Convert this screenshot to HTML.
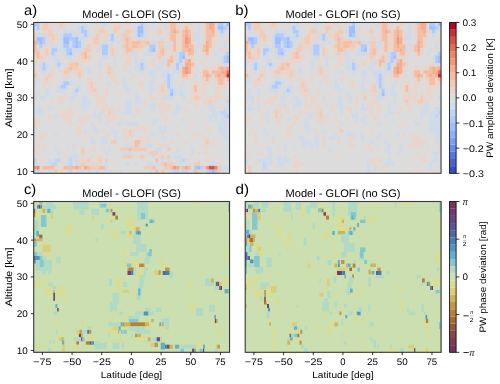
<!DOCTYPE html>
<html><head><meta charset="utf-8"><style>
html,body{margin:0;padding:0;background:#fff;width:500px;height:384px;overflow:hidden}
svg{display:block}
text{font-kerning:none;white-space:pre;text-rendering:geometricPrecision}
.txt{will-change:transform}
</style></head><body>
<svg width="500" height="384" viewBox="0 0 500 384">
<rect width="500" height="384" fill="#fff"/>
<defs><filter id="bla" filterUnits="userSpaceOnUse" x="33.70" y="22.45" width="195.85" height="150.85"><feGaussianBlur stdDeviation="0.35" edgeMode="duplicate"/></filter><filter id="blb" filterUnits="userSpaceOnUse" x="245.20" y="22.45" width="195.85" height="150.85"><feGaussianBlur stdDeviation="0.35" edgeMode="duplicate"/></filter><filter id="blc" filterUnits="userSpaceOnUse" x="33.70" y="201.50" width="195.85" height="150.80"><feGaussianBlur stdDeviation="0.35" edgeMode="duplicate"/></filter><filter id="bld" filterUnits="userSpaceOnUse" x="245.20" y="201.50" width="195.85" height="150.80"><feGaussianBlur stdDeviation="0.35" edgeMode="duplicate"/></filter></defs>
<g filter="url(#bla)">
<rect x="33.70" y="22.45" width="195.85" height="150.85" fill="#dddcdc"/>
<rect x="33.70" y="22.45" width="5.98" height="3.73" fill="#afcafc"/>
<rect x="39.63" y="22.45" width="3.02" height="3.73" fill="#e9d5cb"/>
<rect x="42.60" y="22.45" width="5.98" height="3.73" fill="#f2cbb7"/>
<rect x="48.54" y="22.45" width="3.02" height="3.73" fill="#e9d5cb"/>
<rect x="57.44" y="22.45" width="3.02" height="3.73" fill="#e9d5cb"/>
<rect x="60.41" y="22.45" width="3.02" height="3.73" fill="#f2cbb7"/>
<rect x="63.37" y="22.45" width="3.02" height="3.73" fill="#e9d5cb"/>
<rect x="81.18" y="22.45" width="5.98" height="3.73" fill="#cfdaea"/>
<rect x="96.02" y="22.45" width="3.02" height="3.73" fill="#e9d5cb"/>
<rect x="101.95" y="22.45" width="5.98" height="3.73" fill="#cfdaea"/>
<rect x="113.82" y="22.45" width="14.89" height="3.73" fill="#e9d5cb"/>
<rect x="137.56" y="22.45" width="3.02" height="3.73" fill="#cfdaea"/>
<rect x="140.53" y="22.45" width="3.02" height="3.73" fill="#afcafc"/>
<rect x="143.49" y="22.45" width="3.02" height="3.73" fill="#cfdaea"/>
<rect x="161.30" y="22.45" width="3.02" height="3.73" fill="#e9d5cb"/>
<rect x="164.27" y="22.45" width="3.02" height="3.73" fill="#cfdaea"/>
<rect x="167.23" y="22.45" width="3.02" height="3.73" fill="#e9d5cb"/>
<rect x="170.20" y="22.45" width="5.98" height="3.73" fill="#f6bda2"/>
<rect x="176.14" y="22.45" width="5.98" height="3.73" fill="#e9d5cb"/>
<rect x="185.04" y="22.45" width="8.95" height="3.73" fill="#e9d5cb"/>
<rect x="196.91" y="22.45" width="3.02" height="3.73" fill="#cfdaea"/>
<rect x="202.84" y="22.45" width="3.02" height="3.73" fill="#e9d5cb"/>
<rect x="205.81" y="22.45" width="3.02" height="3.73" fill="#f6bda2"/>
<rect x="208.78" y="22.45" width="5.98" height="3.73" fill="#f7ac8e"/>
<rect x="217.68" y="22.45" width="5.98" height="3.73" fill="#afcafc"/>
<rect x="223.62" y="22.45" width="3.02" height="3.73" fill="#cfdaea"/>
<rect x="226.58" y="22.45" width="3.02" height="3.73" fill="#9ebeff"/>
<rect x="33.70" y="26.13" width="3.02" height="3.73" fill="#cfdaea"/>
<rect x="36.67" y="26.13" width="3.02" height="3.73" fill="#afcafc"/>
<rect x="39.63" y="26.13" width="3.02" height="3.73" fill="#e9d5cb"/>
<rect x="42.60" y="26.13" width="5.98" height="3.73" fill="#f2cbb7"/>
<rect x="48.54" y="26.13" width="3.02" height="3.73" fill="#e9d5cb"/>
<rect x="57.44" y="26.13" width="8.95" height="3.73" fill="#e9d5cb"/>
<rect x="78.21" y="26.13" width="3.02" height="3.73" fill="#cfdaea"/>
<rect x="81.18" y="26.13" width="3.02" height="3.73" fill="#afcafc"/>
<rect x="84.15" y="26.13" width="3.02" height="3.73" fill="#cfdaea"/>
<rect x="98.98" y="26.13" width="5.98" height="3.73" fill="#e9d5cb"/>
<rect x="110.85" y="26.13" width="3.02" height="3.73" fill="#e9d5cb"/>
<rect x="113.82" y="26.13" width="5.98" height="3.73" fill="#f2cbb7"/>
<rect x="119.76" y="26.13" width="3.02" height="3.73" fill="#e9d5cb"/>
<rect x="125.69" y="26.13" width="5.98" height="3.73" fill="#e9d5cb"/>
<rect x="134.59" y="26.13" width="3.02" height="3.73" fill="#cfdaea"/>
<rect x="137.56" y="26.13" width="5.98" height="3.73" fill="#9ebeff"/>
<rect x="143.49" y="26.13" width="3.02" height="3.73" fill="#cfdaea"/>
<rect x="146.46" y="26.13" width="3.02" height="3.73" fill="#e9d5cb"/>
<rect x="158.33" y="26.13" width="3.02" height="3.73" fill="#e9d5cb"/>
<rect x="164.27" y="26.13" width="3.02" height="3.73" fill="#cfdaea"/>
<rect x="167.23" y="26.13" width="3.02" height="3.73" fill="#e9d5cb"/>
<rect x="170.20" y="26.13" width="5.98" height="3.73" fill="#f6bda2"/>
<rect x="176.14" y="26.13" width="3.02" height="3.73" fill="#e9d5cb"/>
<rect x="182.07" y="26.13" width="3.02" height="3.73" fill="#e9d5cb"/>
<rect x="185.04" y="26.13" width="3.02" height="3.73" fill="#f6bda2"/>
<rect x="188.01" y="26.13" width="3.02" height="3.73" fill="#e9d5cb"/>
<rect x="196.91" y="26.13" width="3.02" height="3.73" fill="#cfdaea"/>
<rect x="202.84" y="26.13" width="3.02" height="3.73" fill="#e9d5cb"/>
<rect x="205.81" y="26.13" width="3.02" height="3.73" fill="#f6bda2"/>
<rect x="208.78" y="26.13" width="5.98" height="3.73" fill="#f7ac8e"/>
<rect x="214.71" y="26.13" width="3.02" height="3.73" fill="#e9d5cb"/>
<rect x="217.68" y="26.13" width="5.98" height="3.73" fill="#9ebeff"/>
<rect x="223.62" y="26.13" width="3.02" height="3.73" fill="#afcafc"/>
<rect x="226.58" y="26.13" width="3.02" height="3.73" fill="#cfdaea"/>
<rect x="36.67" y="29.81" width="3.02" height="3.73" fill="#cfdaea"/>
<rect x="42.60" y="29.81" width="5.98" height="3.73" fill="#e9d5cb"/>
<rect x="48.54" y="29.81" width="3.02" height="3.73" fill="#f2cbb7"/>
<rect x="51.50" y="29.81" width="3.02" height="3.73" fill="#e9d5cb"/>
<rect x="63.37" y="29.81" width="11.92" height="3.73" fill="#cfdaea"/>
<rect x="78.21" y="29.81" width="3.02" height="3.73" fill="#cfdaea"/>
<rect x="81.18" y="29.81" width="5.98" height="3.73" fill="#afcafc"/>
<rect x="87.11" y="29.81" width="3.02" height="3.73" fill="#cfdaea"/>
<rect x="93.05" y="29.81" width="5.98" height="3.73" fill="#e9d5cb"/>
<rect x="98.98" y="29.81" width="5.98" height="3.73" fill="#f2cbb7"/>
<rect x="104.92" y="29.81" width="3.02" height="3.73" fill="#e9d5cb"/>
<rect x="113.82" y="29.81" width="3.02" height="3.73" fill="#f2cbb7"/>
<rect x="116.79" y="29.81" width="3.02" height="3.73" fill="#e9d5cb"/>
<rect x="122.72" y="29.81" width="3.02" height="3.73" fill="#e9d5cb"/>
<rect x="125.69" y="29.81" width="5.98" height="3.73" fill="#f2cbb7"/>
<rect x="131.62" y="29.81" width="3.02" height="3.73" fill="#e9d5cb"/>
<rect x="134.59" y="29.81" width="3.02" height="3.73" fill="#cfdaea"/>
<rect x="137.56" y="29.81" width="5.98" height="3.73" fill="#9ebeff"/>
<rect x="143.49" y="29.81" width="3.02" height="3.73" fill="#cfdaea"/>
<rect x="146.46" y="29.81" width="3.02" height="3.73" fill="#e9d5cb"/>
<rect x="155.36" y="29.81" width="3.02" height="3.73" fill="#e9d5cb"/>
<rect x="158.33" y="29.81" width="3.02" height="3.73" fill="#f2cbb7"/>
<rect x="161.30" y="29.81" width="3.02" height="3.73" fill="#e9d5cb"/>
<rect x="167.23" y="29.81" width="3.02" height="3.73" fill="#e9d5cb"/>
<rect x="170.20" y="29.81" width="3.02" height="3.73" fill="#f6bda2"/>
<rect x="173.17" y="29.81" width="3.02" height="3.73" fill="#f7ac8e"/>
<rect x="176.14" y="29.81" width="3.02" height="3.73" fill="#f6bda2"/>
<rect x="179.10" y="29.81" width="3.02" height="3.73" fill="#e9d5cb"/>
<rect x="182.07" y="29.81" width="3.02" height="3.73" fill="#f6bda2"/>
<rect x="185.04" y="29.81" width="3.02" height="3.73" fill="#f7ac8e"/>
<rect x="188.01" y="29.81" width="3.02" height="3.73" fill="#f6bda2"/>
<rect x="190.97" y="29.81" width="3.02" height="3.73" fill="#e9d5cb"/>
<rect x="196.91" y="29.81" width="3.02" height="3.73" fill="#cfdaea"/>
<rect x="202.84" y="29.81" width="3.02" height="3.73" fill="#e9d5cb"/>
<rect x="205.81" y="29.81" width="5.98" height="3.73" fill="#f6bda2"/>
<rect x="211.75" y="29.81" width="3.02" height="3.73" fill="#f7ac8e"/>
<rect x="214.71" y="29.81" width="3.02" height="3.73" fill="#e9d5cb"/>
<rect x="217.68" y="29.81" width="3.02" height="3.73" fill="#cfdaea"/>
<rect x="220.65" y="29.81" width="3.02" height="3.73" fill="#afcafc"/>
<rect x="223.62" y="29.81" width="3.02" height="3.73" fill="#cfdaea"/>
<rect x="33.70" y="33.49" width="3.02" height="3.73" fill="#e9d5cb"/>
<rect x="36.67" y="33.49" width="8.95" height="3.73" fill="#cfdaea"/>
<rect x="45.57" y="33.49" width="3.02" height="3.73" fill="#e9d5cb"/>
<rect x="48.54" y="33.49" width="5.98" height="3.73" fill="#f2cbb7"/>
<rect x="54.47" y="33.49" width="3.02" height="3.73" fill="#e9d5cb"/>
<rect x="60.41" y="33.49" width="3.02" height="3.73" fill="#cfdaea"/>
<rect x="63.37" y="33.49" width="8.95" height="3.73" fill="#afcafc"/>
<rect x="72.28" y="33.49" width="5.98" height="3.73" fill="#cfdaea"/>
<rect x="81.18" y="33.49" width="3.02" height="3.73" fill="#cfdaea"/>
<rect x="84.15" y="33.49" width="3.02" height="3.73" fill="#afcafc"/>
<rect x="87.11" y="33.49" width="3.02" height="3.73" fill="#cfdaea"/>
<rect x="93.05" y="33.49" width="3.02" height="3.73" fill="#e9d5cb"/>
<rect x="96.02" y="33.49" width="3.02" height="3.73" fill="#f2cbb7"/>
<rect x="98.98" y="33.49" width="8.95" height="3.73" fill="#e9d5cb"/>
<rect x="107.89" y="33.49" width="3.02" height="3.73" fill="#cfdaea"/>
<rect x="110.85" y="33.49" width="3.02" height="3.73" fill="#afcafc"/>
<rect x="116.79" y="33.49" width="5.98" height="3.73" fill="#e9d5cb"/>
<rect x="122.72" y="33.49" width="5.98" height="3.73" fill="#f2cbb7"/>
<rect x="128.66" y="33.49" width="3.02" height="3.73" fill="#e9d5cb"/>
<rect x="134.59" y="33.49" width="3.02" height="3.73" fill="#cfdaea"/>
<rect x="137.56" y="33.49" width="3.02" height="3.73" fill="#9ebeff"/>
<rect x="140.53" y="33.49" width="3.02" height="3.73" fill="#afcafc"/>
<rect x="143.49" y="33.49" width="3.02" height="3.73" fill="#cfdaea"/>
<rect x="158.33" y="33.49" width="3.02" height="3.73" fill="#e9d5cb"/>
<rect x="167.23" y="33.49" width="3.02" height="3.73" fill="#e9d5cb"/>
<rect x="170.20" y="33.49" width="5.98" height="3.73" fill="#f6bda2"/>
<rect x="176.14" y="33.49" width="5.98" height="3.73" fill="#e9d5cb"/>
<rect x="182.07" y="33.49" width="3.02" height="3.73" fill="#f6bda2"/>
<rect x="185.04" y="33.49" width="3.02" height="3.73" fill="#f7ac8e"/>
<rect x="188.01" y="33.49" width="3.02" height="3.73" fill="#f6bda2"/>
<rect x="190.97" y="33.49" width="3.02" height="3.73" fill="#e9d5cb"/>
<rect x="193.94" y="33.49" width="5.98" height="3.73" fill="#cfdaea"/>
<rect x="202.84" y="33.49" width="3.02" height="3.73" fill="#e9d5cb"/>
<rect x="205.81" y="33.49" width="8.95" height="3.73" fill="#f6bda2"/>
<rect x="214.71" y="33.49" width="3.02" height="3.73" fill="#e9d5cb"/>
<rect x="220.65" y="33.49" width="3.02" height="3.73" fill="#cfdaea"/>
<rect x="33.70" y="37.17" width="3.02" height="3.73" fill="#f2cbb7"/>
<rect x="36.67" y="37.17" width="5.98" height="3.73" fill="#9ebeff"/>
<rect x="42.60" y="37.17" width="3.02" height="3.73" fill="#afcafc"/>
<rect x="45.57" y="37.17" width="3.02" height="3.73" fill="#cfdaea"/>
<rect x="48.54" y="37.17" width="3.02" height="3.73" fill="#e9d5cb"/>
<rect x="51.50" y="37.17" width="3.02" height="3.73" fill="#f2cbb7"/>
<rect x="54.47" y="37.17" width="3.02" height="3.73" fill="#e9d5cb"/>
<rect x="60.41" y="37.17" width="3.02" height="3.73" fill="#cfdaea"/>
<rect x="63.37" y="37.17" width="5.98" height="3.73" fill="#9ebeff"/>
<rect x="69.31" y="37.17" width="5.98" height="3.73" fill="#afcafc"/>
<rect x="75.24" y="37.17" width="3.02" height="3.73" fill="#9ebeff"/>
<rect x="78.21" y="37.17" width="8.95" height="3.73" fill="#cfdaea"/>
<rect x="90.08" y="37.17" width="3.02" height="3.73" fill="#e9d5cb"/>
<rect x="93.05" y="37.17" width="5.98" height="3.73" fill="#f2cbb7"/>
<rect x="98.98" y="37.17" width="8.95" height="3.73" fill="#e9d5cb"/>
<rect x="107.89" y="37.17" width="3.02" height="3.73" fill="#cfdaea"/>
<rect x="110.85" y="37.17" width="3.02" height="3.73" fill="#afcafc"/>
<rect x="113.82" y="37.17" width="3.02" height="3.73" fill="#cfdaea"/>
<rect x="119.76" y="37.17" width="3.02" height="3.73" fill="#e9d5cb"/>
<rect x="122.72" y="37.17" width="3.02" height="3.73" fill="#f2cbb7"/>
<rect x="125.69" y="37.17" width="3.02" height="3.73" fill="#f6bda2"/>
<rect x="128.66" y="37.17" width="3.02" height="3.73" fill="#f2cbb7"/>
<rect x="131.62" y="37.17" width="5.98" height="3.73" fill="#e9d5cb"/>
<rect x="137.56" y="37.17" width="3.02" height="3.73" fill="#cfdaea"/>
<rect x="143.49" y="37.17" width="5.98" height="3.73" fill="#e9d5cb"/>
<rect x="158.33" y="37.17" width="3.02" height="3.73" fill="#e9d5cb"/>
<rect x="161.30" y="37.17" width="3.02" height="3.73" fill="#cfdaea"/>
<rect x="167.23" y="37.17" width="3.02" height="3.73" fill="#e9d5cb"/>
<rect x="170.20" y="37.17" width="5.98" height="3.73" fill="#f6bda2"/>
<rect x="176.14" y="37.17" width="5.98" height="3.73" fill="#e9d5cb"/>
<rect x="182.07" y="37.17" width="3.02" height="3.73" fill="#f6bda2"/>
<rect x="185.04" y="37.17" width="3.02" height="3.73" fill="#f4987a"/>
<rect x="188.01" y="37.17" width="3.02" height="3.73" fill="#f7ac8e"/>
<rect x="190.97" y="37.17" width="3.02" height="3.73" fill="#e9d5cb"/>
<rect x="193.94" y="37.17" width="5.98" height="3.73" fill="#cfdaea"/>
<rect x="202.84" y="37.17" width="3.02" height="3.73" fill="#e9d5cb"/>
<rect x="205.81" y="37.17" width="5.98" height="3.73" fill="#f6bda2"/>
<rect x="211.75" y="37.17" width="3.02" height="3.73" fill="#e9d5cb"/>
<rect x="226.58" y="37.17" width="3.02" height="3.73" fill="#e9d5cb"/>
<rect x="33.70" y="40.85" width="3.02" height="3.73" fill="#f7ac8e"/>
<rect x="36.67" y="40.85" width="3.02" height="3.73" fill="#afcafc"/>
<rect x="39.63" y="40.85" width="3.02" height="3.73" fill="#9ebeff"/>
<rect x="42.60" y="40.85" width="3.02" height="3.73" fill="#afcafc"/>
<rect x="45.57" y="40.85" width="3.02" height="3.73" fill="#cfdaea"/>
<rect x="48.54" y="40.85" width="5.98" height="3.73" fill="#e9d5cb"/>
<rect x="60.41" y="40.85" width="3.02" height="3.73" fill="#cfdaea"/>
<rect x="63.37" y="40.85" width="5.98" height="3.73" fill="#9ebeff"/>
<rect x="69.31" y="40.85" width="3.02" height="3.73" fill="#cfdaea"/>
<rect x="72.28" y="40.85" width="3.02" height="3.73" fill="#afcafc"/>
<rect x="75.24" y="40.85" width="3.02" height="3.73" fill="#9ebeff"/>
<rect x="78.21" y="40.85" width="3.02" height="3.73" fill="#afcafc"/>
<rect x="81.18" y="40.85" width="3.02" height="3.73" fill="#cfdaea"/>
<rect x="87.11" y="40.85" width="5.98" height="3.73" fill="#e9d5cb"/>
<rect x="93.05" y="40.85" width="5.98" height="3.73" fill="#f2cbb7"/>
<rect x="98.98" y="40.85" width="3.02" height="3.73" fill="#e9d5cb"/>
<rect x="101.95" y="40.85" width="5.98" height="3.73" fill="#cfdaea"/>
<rect x="110.85" y="40.85" width="3.02" height="3.73" fill="#cfdaea"/>
<rect x="116.79" y="40.85" width="3.02" height="3.73" fill="#cfdaea"/>
<rect x="122.72" y="40.85" width="3.02" height="3.73" fill="#e9d5cb"/>
<rect x="125.69" y="40.85" width="3.02" height="3.73" fill="#f6bda2"/>
<rect x="128.66" y="40.85" width="3.02" height="3.73" fill="#f2cbb7"/>
<rect x="131.62" y="40.85" width="8.95" height="3.73" fill="#f6bda2"/>
<rect x="140.53" y="40.85" width="5.98" height="3.73" fill="#f2cbb7"/>
<rect x="146.46" y="40.85" width="3.02" height="3.73" fill="#f6bda2"/>
<rect x="149.43" y="40.85" width="8.95" height="3.73" fill="#cfdaea"/>
<rect x="158.33" y="40.85" width="5.98" height="3.73" fill="#f2cbb7"/>
<rect x="164.27" y="40.85" width="3.02" height="3.73" fill="#e9d5cb"/>
<rect x="167.23" y="40.85" width="3.02" height="3.73" fill="#cfdaea"/>
<rect x="170.20" y="40.85" width="3.02" height="3.73" fill="#e9d5cb"/>
<rect x="173.17" y="40.85" width="3.02" height="3.73" fill="#f6bda2"/>
<rect x="176.14" y="40.85" width="5.98" height="3.73" fill="#e9d5cb"/>
<rect x="182.07" y="40.85" width="3.02" height="3.73" fill="#f6bda2"/>
<rect x="185.04" y="40.85" width="3.02" height="3.73" fill="#f4987a"/>
<rect x="188.01" y="40.85" width="3.02" height="3.73" fill="#f7ac8e"/>
<rect x="190.97" y="40.85" width="3.02" height="3.73" fill="#e9d5cb"/>
<rect x="196.91" y="40.85" width="3.02" height="3.73" fill="#cfdaea"/>
<rect x="202.84" y="40.85" width="3.02" height="3.73" fill="#e9d5cb"/>
<rect x="205.81" y="40.85" width="3.02" height="3.73" fill="#f7ac8e"/>
<rect x="208.78" y="40.85" width="3.02" height="3.73" fill="#f6bda2"/>
<rect x="211.75" y="40.85" width="3.02" height="3.73" fill="#e9d5cb"/>
<rect x="223.62" y="40.85" width="3.02" height="3.73" fill="#cfdaea"/>
<rect x="226.58" y="40.85" width="3.02" height="3.73" fill="#e9d5cb"/>
<rect x="33.70" y="44.53" width="3.02" height="3.73" fill="#f6bda2"/>
<rect x="36.67" y="44.53" width="3.02" height="3.73" fill="#e9d5cb"/>
<rect x="39.63" y="44.53" width="3.02" height="3.73" fill="#afcafc"/>
<rect x="42.60" y="44.53" width="5.98" height="3.73" fill="#e9d5cb"/>
<rect x="51.50" y="44.53" width="5.98" height="3.73" fill="#cfdaea"/>
<rect x="60.41" y="44.53" width="3.02" height="3.73" fill="#cfdaea"/>
<rect x="63.37" y="44.53" width="5.98" height="3.73" fill="#afcafc"/>
<rect x="69.31" y="44.53" width="3.02" height="3.73" fill="#cfdaea"/>
<rect x="72.28" y="44.53" width="3.02" height="3.73" fill="#afcafc"/>
<rect x="75.24" y="44.53" width="3.02" height="3.73" fill="#9ebeff"/>
<rect x="78.21" y="44.53" width="3.02" height="3.73" fill="#afcafc"/>
<rect x="81.18" y="44.53" width="3.02" height="3.73" fill="#cfdaea"/>
<rect x="84.15" y="44.53" width="3.02" height="3.73" fill="#e9d5cb"/>
<rect x="87.11" y="44.53" width="3.02" height="3.73" fill="#f2cbb7"/>
<rect x="90.08" y="44.53" width="8.95" height="3.73" fill="#e9d5cb"/>
<rect x="98.98" y="44.53" width="3.02" height="3.73" fill="#cfdaea"/>
<rect x="101.95" y="44.53" width="5.98" height="3.73" fill="#afcafc"/>
<rect x="107.89" y="44.53" width="3.02" height="3.73" fill="#cfdaea"/>
<rect x="110.85" y="44.53" width="3.02" height="3.73" fill="#e9d5cb"/>
<rect x="119.76" y="44.53" width="3.02" height="3.73" fill="#e9d5cb"/>
<rect x="122.72" y="44.53" width="3.02" height="3.73" fill="#f2cbb7"/>
<rect x="125.69" y="44.53" width="3.02" height="3.73" fill="#f6bda2"/>
<rect x="128.66" y="44.53" width="3.02" height="3.73" fill="#f2cbb7"/>
<rect x="131.62" y="44.53" width="5.98" height="3.73" fill="#f6bda2"/>
<rect x="137.56" y="44.53" width="5.98" height="3.73" fill="#f2cbb7"/>
<rect x="143.49" y="44.53" width="3.02" height="3.73" fill="#e9d5cb"/>
<rect x="149.43" y="44.53" width="5.98" height="3.73" fill="#afcafc"/>
<rect x="158.33" y="44.53" width="5.98" height="3.73" fill="#f2cbb7"/>
<rect x="164.27" y="44.53" width="5.98" height="3.73" fill="#cfdaea"/>
<rect x="170.20" y="44.53" width="3.02" height="3.73" fill="#e9d5cb"/>
<rect x="173.17" y="44.53" width="3.02" height="3.73" fill="#f6bda2"/>
<rect x="176.14" y="44.53" width="5.98" height="3.73" fill="#e9d5cb"/>
<rect x="182.07" y="44.53" width="3.02" height="3.73" fill="#f6bda2"/>
<rect x="185.04" y="44.53" width="3.02" height="3.73" fill="#f7ac8e"/>
<rect x="188.01" y="44.53" width="5.98" height="3.73" fill="#f6bda2"/>
<rect x="193.94" y="44.53" width="3.02" height="3.73" fill="#e9d5cb"/>
<rect x="196.91" y="44.53" width="3.02" height="3.73" fill="#cfdaea"/>
<rect x="199.88" y="44.53" width="3.02" height="3.73" fill="#e9d5cb"/>
<rect x="202.84" y="44.53" width="3.02" height="3.73" fill="#f6bda2"/>
<rect x="205.81" y="44.53" width="3.02" height="3.73" fill="#f7ac8e"/>
<rect x="208.78" y="44.53" width="3.02" height="3.73" fill="#f6bda2"/>
<rect x="211.75" y="44.53" width="3.02" height="3.73" fill="#e9d5cb"/>
<rect x="223.62" y="44.53" width="3.02" height="3.73" fill="#cfdaea"/>
<rect x="33.70" y="48.20" width="3.02" height="3.73" fill="#f6bda2"/>
<rect x="36.67" y="48.20" width="3.02" height="3.73" fill="#f2cbb7"/>
<rect x="42.60" y="48.20" width="3.02" height="3.73" fill="#e9d5cb"/>
<rect x="45.57" y="48.20" width="3.02" height="3.73" fill="#f2cbb7"/>
<rect x="51.50" y="48.20" width="5.98" height="3.73" fill="#afcafc"/>
<rect x="57.44" y="48.20" width="3.02" height="3.73" fill="#cfdaea"/>
<rect x="63.37" y="48.20" width="3.02" height="3.73" fill="#cfdaea"/>
<rect x="66.34" y="48.20" width="5.98" height="3.73" fill="#afcafc"/>
<rect x="72.28" y="48.20" width="8.95" height="3.73" fill="#cfdaea"/>
<rect x="81.18" y="48.20" width="3.02" height="3.73" fill="#e9d5cb"/>
<rect x="84.15" y="48.20" width="5.98" height="3.73" fill="#f2cbb7"/>
<rect x="90.08" y="48.20" width="3.02" height="3.73" fill="#e9d5cb"/>
<rect x="96.02" y="48.20" width="3.02" height="3.73" fill="#e9d5cb"/>
<rect x="98.98" y="48.20" width="3.02" height="3.73" fill="#cfdaea"/>
<rect x="101.95" y="48.20" width="5.98" height="3.73" fill="#afcafc"/>
<rect x="110.85" y="48.20" width="3.02" height="3.73" fill="#f2cbb7"/>
<rect x="113.82" y="48.20" width="3.02" height="3.73" fill="#e9d5cb"/>
<rect x="122.72" y="48.20" width="3.02" height="3.73" fill="#e9d5cb"/>
<rect x="125.69" y="48.20" width="5.98" height="3.73" fill="#f6bda2"/>
<rect x="131.62" y="48.20" width="3.02" height="3.73" fill="#f2cbb7"/>
<rect x="134.59" y="48.20" width="8.95" height="3.73" fill="#e9d5cb"/>
<rect x="146.46" y="48.20" width="3.02" height="3.73" fill="#cfdaea"/>
<rect x="149.43" y="48.20" width="3.02" height="3.73" fill="#afcafc"/>
<rect x="152.40" y="48.20" width="3.02" height="3.73" fill="#9ebeff"/>
<rect x="158.33" y="48.20" width="3.02" height="3.73" fill="#f2cbb7"/>
<rect x="161.30" y="48.20" width="3.02" height="3.73" fill="#f6bda2"/>
<rect x="164.27" y="48.20" width="3.02" height="3.73" fill="#e9d5cb"/>
<rect x="170.20" y="48.20" width="3.02" height="3.73" fill="#e9d5cb"/>
<rect x="173.17" y="48.20" width="3.02" height="3.73" fill="#f6bda2"/>
<rect x="176.14" y="48.20" width="3.02" height="3.73" fill="#e9d5cb"/>
<rect x="182.07" y="48.20" width="5.98" height="3.73" fill="#f6bda2"/>
<rect x="188.01" y="48.20" width="3.02" height="3.73" fill="#f7ac8e"/>
<rect x="190.97" y="48.20" width="3.02" height="3.73" fill="#f6bda2"/>
<rect x="193.94" y="48.20" width="3.02" height="3.73" fill="#cfdaea"/>
<rect x="199.88" y="48.20" width="3.02" height="3.73" fill="#e9d5cb"/>
<rect x="202.84" y="48.20" width="3.02" height="3.73" fill="#f6bda2"/>
<rect x="205.81" y="48.20" width="3.02" height="3.73" fill="#f7ac8e"/>
<rect x="208.78" y="48.20" width="3.02" height="3.73" fill="#e9d5cb"/>
<rect x="217.68" y="48.20" width="3.02" height="3.73" fill="#cfdaea"/>
<rect x="220.65" y="48.20" width="5.98" height="3.73" fill="#e9d5cb"/>
<rect x="226.58" y="48.20" width="3.02" height="3.73" fill="#cfdaea"/>
<rect x="33.70" y="51.88" width="3.02" height="3.73" fill="#f2cbb7"/>
<rect x="36.67" y="51.88" width="3.02" height="3.73" fill="#f6bda2"/>
<rect x="39.63" y="51.88" width="5.98" height="3.73" fill="#e9d5cb"/>
<rect x="45.57" y="51.88" width="3.02" height="3.73" fill="#f2cbb7"/>
<rect x="51.50" y="51.88" width="3.02" height="3.73" fill="#afcafc"/>
<rect x="54.47" y="51.88" width="3.02" height="3.73" fill="#cfdaea"/>
<rect x="63.37" y="51.88" width="3.02" height="3.73" fill="#cfdaea"/>
<rect x="66.34" y="51.88" width="3.02" height="3.73" fill="#afcafc"/>
<rect x="69.31" y="51.88" width="3.02" height="3.73" fill="#9ebeff"/>
<rect x="72.28" y="51.88" width="3.02" height="3.73" fill="#cfdaea"/>
<rect x="78.21" y="51.88" width="3.02" height="3.73" fill="#e9d5cb"/>
<rect x="81.18" y="51.88" width="3.02" height="3.73" fill="#f2cbb7"/>
<rect x="84.15" y="51.88" width="3.02" height="3.73" fill="#f6bda2"/>
<rect x="87.11" y="51.88" width="3.02" height="3.73" fill="#e9d5cb"/>
<rect x="98.98" y="51.88" width="3.02" height="3.73" fill="#e9d5cb"/>
<rect x="101.95" y="51.88" width="5.98" height="3.73" fill="#afcafc"/>
<rect x="110.85" y="51.88" width="3.02" height="3.73" fill="#f2cbb7"/>
<rect x="113.82" y="51.88" width="3.02" height="3.73" fill="#e9d5cb"/>
<rect x="122.72" y="51.88" width="3.02" height="3.73" fill="#e9d5cb"/>
<rect x="125.69" y="51.88" width="3.02" height="3.73" fill="#f2cbb7"/>
<rect x="128.66" y="51.88" width="3.02" height="3.73" fill="#e9d5cb"/>
<rect x="131.62" y="51.88" width="5.98" height="3.73" fill="#cfdaea"/>
<rect x="143.49" y="51.88" width="11.92" height="3.73" fill="#cfdaea"/>
<rect x="155.36" y="51.88" width="3.02" height="3.73" fill="#e9d5cb"/>
<rect x="158.33" y="51.88" width="3.02" height="3.73" fill="#f2cbb7"/>
<rect x="161.30" y="51.88" width="3.02" height="3.73" fill="#f6bda2"/>
<rect x="164.27" y="51.88" width="3.02" height="3.73" fill="#e9d5cb"/>
<rect x="170.20" y="51.88" width="5.98" height="3.73" fill="#e9d5cb"/>
<rect x="176.14" y="51.88" width="3.02" height="3.73" fill="#cfdaea"/>
<rect x="179.10" y="51.88" width="5.98" height="3.73" fill="#afcafc"/>
<rect x="185.04" y="51.88" width="3.02" height="3.73" fill="#e9d5cb"/>
<rect x="188.01" y="51.88" width="5.98" height="3.73" fill="#f6bda2"/>
<rect x="193.94" y="51.88" width="3.02" height="3.73" fill="#e9d5cb"/>
<rect x="202.84" y="51.88" width="3.02" height="3.73" fill="#e9d5cb"/>
<rect x="205.81" y="51.88" width="3.02" height="3.73" fill="#f6bda2"/>
<rect x="208.78" y="51.88" width="3.02" height="3.73" fill="#e9d5cb"/>
<rect x="214.71" y="51.88" width="3.02" height="3.73" fill="#cfdaea"/>
<rect x="223.62" y="51.88" width="3.02" height="3.73" fill="#cfdaea"/>
<rect x="226.58" y="51.88" width="3.02" height="3.73" fill="#afcafc"/>
<rect x="33.70" y="55.56" width="3.02" height="3.73" fill="#e9d5cb"/>
<rect x="36.67" y="55.56" width="3.02" height="3.73" fill="#f6bda2"/>
<rect x="39.63" y="55.56" width="3.02" height="3.73" fill="#f2cbb7"/>
<rect x="42.60" y="55.56" width="5.98" height="3.73" fill="#e9d5cb"/>
<rect x="51.50" y="55.56" width="5.98" height="3.73" fill="#cfdaea"/>
<rect x="63.37" y="55.56" width="3.02" height="3.73" fill="#e9d5cb"/>
<rect x="66.34" y="55.56" width="5.98" height="3.73" fill="#cfdaea"/>
<rect x="78.21" y="55.56" width="3.02" height="3.73" fill="#e9d5cb"/>
<rect x="81.18" y="55.56" width="3.02" height="3.73" fill="#f2cbb7"/>
<rect x="84.15" y="55.56" width="3.02" height="3.73" fill="#f6bda2"/>
<rect x="87.11" y="55.56" width="3.02" height="3.73" fill="#f2cbb7"/>
<rect x="90.08" y="55.56" width="3.02" height="3.73" fill="#e9d5cb"/>
<rect x="101.95" y="55.56" width="5.98" height="3.73" fill="#cfdaea"/>
<rect x="110.85" y="55.56" width="3.02" height="3.73" fill="#e9d5cb"/>
<rect x="113.82" y="55.56" width="3.02" height="3.73" fill="#cfdaea"/>
<rect x="119.76" y="55.56" width="3.02" height="3.73" fill="#e9d5cb"/>
<rect x="125.69" y="55.56" width="5.98" height="3.73" fill="#e9d5cb"/>
<rect x="134.59" y="55.56" width="3.02" height="3.73" fill="#cfdaea"/>
<rect x="155.36" y="55.56" width="3.02" height="3.73" fill="#e9d5cb"/>
<rect x="158.33" y="55.56" width="3.02" height="3.73" fill="#f2cbb7"/>
<rect x="161.30" y="55.56" width="3.02" height="3.73" fill="#e9d5cb"/>
<rect x="167.23" y="55.56" width="3.02" height="3.73" fill="#e9d5cb"/>
<rect x="170.20" y="55.56" width="3.02" height="3.73" fill="#f6bda2"/>
<rect x="173.17" y="55.56" width="3.02" height="3.73" fill="#e9d5cb"/>
<rect x="176.14" y="55.56" width="3.02" height="3.73" fill="#cfdaea"/>
<rect x="179.10" y="55.56" width="3.02" height="3.73" fill="#afcafc"/>
<rect x="182.07" y="55.56" width="3.02" height="3.73" fill="#9ebeff"/>
<rect x="185.04" y="55.56" width="8.95" height="3.73" fill="#e9d5cb"/>
<rect x="205.81" y="55.56" width="3.02" height="3.73" fill="#e9d5cb"/>
<rect x="220.65" y="55.56" width="3.02" height="3.73" fill="#cfdaea"/>
<rect x="223.62" y="55.56" width="3.02" height="3.73" fill="#afcafc"/>
<rect x="226.58" y="55.56" width="3.02" height="3.73" fill="#9ebeff"/>
<rect x="36.67" y="59.24" width="5.98" height="3.73" fill="#e9d5cb"/>
<rect x="42.60" y="59.24" width="3.02" height="3.73" fill="#cfdaea"/>
<rect x="54.47" y="59.24" width="5.98" height="3.73" fill="#cfdaea"/>
<rect x="69.31" y="59.24" width="20.82" height="3.73" fill="#e9d5cb"/>
<rect x="98.98" y="59.24" width="3.02" height="3.73" fill="#cfdaea"/>
<rect x="113.82" y="59.24" width="3.02" height="3.73" fill="#cfdaea"/>
<rect x="125.69" y="59.24" width="5.98" height="3.73" fill="#e9d5cb"/>
<rect x="134.59" y="59.24" width="3.02" height="3.73" fill="#cfdaea"/>
<rect x="140.53" y="59.24" width="3.02" height="3.73" fill="#cfdaea"/>
<rect x="149.43" y="59.24" width="5.98" height="3.73" fill="#e9d5cb"/>
<rect x="158.33" y="59.24" width="3.02" height="3.73" fill="#e9d5cb"/>
<rect x="161.30" y="59.24" width="3.02" height="3.73" fill="#cfdaea"/>
<rect x="164.27" y="59.24" width="3.02" height="3.73" fill="#e9d5cb"/>
<rect x="167.23" y="59.24" width="5.98" height="3.73" fill="#f6bda2"/>
<rect x="173.17" y="59.24" width="3.02" height="3.73" fill="#e9d5cb"/>
<rect x="176.14" y="59.24" width="3.02" height="3.73" fill="#cfdaea"/>
<rect x="179.10" y="59.24" width="3.02" height="3.73" fill="#afcafc"/>
<rect x="182.07" y="59.24" width="3.02" height="3.73" fill="#cfdaea"/>
<rect x="185.04" y="59.24" width="3.02" height="3.73" fill="#f6bda2"/>
<rect x="188.01" y="59.24" width="3.02" height="3.73" fill="#f7ac8e"/>
<rect x="190.97" y="59.24" width="3.02" height="3.73" fill="#e9d5cb"/>
<rect x="199.88" y="59.24" width="3.02" height="3.73" fill="#e9d5cb"/>
<rect x="220.65" y="59.24" width="3.02" height="3.73" fill="#cfdaea"/>
<rect x="223.62" y="59.24" width="3.02" height="3.73" fill="#afcafc"/>
<rect x="226.58" y="59.24" width="3.02" height="3.73" fill="#9ebeff"/>
<rect x="33.70" y="62.92" width="3.02" height="3.73" fill="#cfdaea"/>
<rect x="39.63" y="62.92" width="3.02" height="3.73" fill="#cfdaea"/>
<rect x="42.60" y="62.92" width="3.02" height="3.73" fill="#afcafc"/>
<rect x="45.57" y="62.92" width="3.02" height="3.73" fill="#cfdaea"/>
<rect x="54.47" y="62.92" width="3.02" height="3.73" fill="#cfdaea"/>
<rect x="57.44" y="62.92" width="3.02" height="3.73" fill="#afcafc"/>
<rect x="60.41" y="62.92" width="3.02" height="3.73" fill="#cfdaea"/>
<rect x="66.34" y="62.92" width="3.02" height="3.73" fill="#e9d5cb"/>
<rect x="69.31" y="62.92" width="5.98" height="3.73" fill="#f2cbb7"/>
<rect x="75.24" y="62.92" width="3.02" height="3.73" fill="#f6bda2"/>
<rect x="78.21" y="62.92" width="3.02" height="3.73" fill="#e9d5cb"/>
<rect x="98.98" y="62.92" width="3.02" height="3.73" fill="#cfdaea"/>
<rect x="104.92" y="62.92" width="5.98" height="3.73" fill="#e9d5cb"/>
<rect x="113.82" y="62.92" width="3.02" height="3.73" fill="#cfdaea"/>
<rect x="125.69" y="62.92" width="5.98" height="3.73" fill="#e9d5cb"/>
<rect x="134.59" y="62.92" width="5.98" height="3.73" fill="#cfdaea"/>
<rect x="140.53" y="62.92" width="3.02" height="3.73" fill="#afcafc"/>
<rect x="143.49" y="62.92" width="3.02" height="3.73" fill="#cfdaea"/>
<rect x="149.43" y="62.92" width="5.98" height="3.73" fill="#e9d5cb"/>
<rect x="158.33" y="62.92" width="5.98" height="3.73" fill="#cfdaea"/>
<rect x="164.27" y="62.92" width="3.02" height="3.73" fill="#e9d5cb"/>
<rect x="167.23" y="62.92" width="3.02" height="3.73" fill="#f6bda2"/>
<rect x="170.20" y="62.92" width="3.02" height="3.73" fill="#e9d5cb"/>
<rect x="173.17" y="62.92" width="3.02" height="3.73" fill="#cfdaea"/>
<rect x="176.14" y="62.92" width="3.02" height="3.73" fill="#afcafc"/>
<rect x="179.10" y="62.92" width="3.02" height="3.73" fill="#cfdaea"/>
<rect x="182.07" y="62.92" width="3.02" height="3.73" fill="#e9d5cb"/>
<rect x="185.04" y="62.92" width="5.98" height="3.73" fill="#f7ac8e"/>
<rect x="190.97" y="62.92" width="3.02" height="3.73" fill="#f6bda2"/>
<rect x="193.94" y="62.92" width="3.02" height="3.73" fill="#e9d5cb"/>
<rect x="202.84" y="62.92" width="3.02" height="3.73" fill="#e9d5cb"/>
<rect x="217.68" y="62.92" width="5.98" height="3.73" fill="#e9d5cb"/>
<rect x="223.62" y="62.92" width="5.98" height="3.73" fill="#cfdaea"/>
<rect x="39.63" y="66.60" width="3.02" height="3.73" fill="#cfdaea"/>
<rect x="42.60" y="66.60" width="3.02" height="3.73" fill="#afcafc"/>
<rect x="45.57" y="66.60" width="3.02" height="3.73" fill="#cfdaea"/>
<rect x="51.50" y="66.60" width="3.02" height="3.73" fill="#e9d5cb"/>
<rect x="57.44" y="66.60" width="3.02" height="3.73" fill="#cfdaea"/>
<rect x="63.37" y="66.60" width="3.02" height="3.73" fill="#e9d5cb"/>
<rect x="66.34" y="66.60" width="3.02" height="3.73" fill="#f2cbb7"/>
<rect x="69.31" y="66.60" width="3.02" height="3.73" fill="#f6bda2"/>
<rect x="72.28" y="66.60" width="5.98" height="3.73" fill="#f2cbb7"/>
<rect x="78.21" y="66.60" width="3.02" height="3.73" fill="#e9d5cb"/>
<rect x="87.11" y="66.60" width="3.02" height="3.73" fill="#cfdaea"/>
<rect x="98.98" y="66.60" width="3.02" height="3.73" fill="#cfdaea"/>
<rect x="104.92" y="66.60" width="3.02" height="3.73" fill="#e9d5cb"/>
<rect x="107.89" y="66.60" width="3.02" height="3.73" fill="#f2cbb7"/>
<rect x="110.85" y="66.60" width="3.02" height="3.73" fill="#e9d5cb"/>
<rect x="122.72" y="66.60" width="3.02" height="3.73" fill="#e9d5cb"/>
<rect x="134.59" y="66.60" width="5.98" height="3.73" fill="#cfdaea"/>
<rect x="140.53" y="66.60" width="3.02" height="3.73" fill="#afcafc"/>
<rect x="143.49" y="66.60" width="3.02" height="3.73" fill="#cfdaea"/>
<rect x="155.36" y="66.60" width="5.98" height="3.73" fill="#cfdaea"/>
<rect x="167.23" y="66.60" width="3.02" height="3.73" fill="#cfdaea"/>
<rect x="173.17" y="66.60" width="3.02" height="3.73" fill="#cfdaea"/>
<rect x="176.14" y="66.60" width="3.02" height="3.73" fill="#afcafc"/>
<rect x="182.07" y="66.60" width="3.02" height="3.73" fill="#f7ac8e"/>
<rect x="185.04" y="66.60" width="3.02" height="3.73" fill="#f4987a"/>
<rect x="188.01" y="66.60" width="3.02" height="3.73" fill="#f7ac8e"/>
<rect x="190.97" y="66.60" width="3.02" height="3.73" fill="#e9d5cb"/>
<rect x="202.84" y="66.60" width="14.89" height="3.73" fill="#e9d5cb"/>
<rect x="217.68" y="66.60" width="3.02" height="3.73" fill="#f6bda2"/>
<rect x="220.65" y="66.60" width="3.02" height="3.73" fill="#f7ac8e"/>
<rect x="223.62" y="66.60" width="3.02" height="3.73" fill="#f6bda2"/>
<rect x="226.58" y="66.60" width="3.02" height="3.73" fill="#f7ac8e"/>
<rect x="33.70" y="70.28" width="3.02" height="3.73" fill="#e9d5cb"/>
<rect x="42.60" y="70.28" width="3.02" height="3.73" fill="#cfdaea"/>
<rect x="48.54" y="70.28" width="5.98" height="3.73" fill="#e9d5cb"/>
<rect x="60.41" y="70.28" width="3.02" height="3.73" fill="#e9d5cb"/>
<rect x="63.37" y="70.28" width="5.98" height="3.73" fill="#f2cbb7"/>
<rect x="69.31" y="70.28" width="8.95" height="3.73" fill="#e9d5cb"/>
<rect x="78.21" y="70.28" width="3.02" height="3.73" fill="#f2cbb7"/>
<rect x="81.18" y="70.28" width="3.02" height="3.73" fill="#e9d5cb"/>
<rect x="87.11" y="70.28" width="3.02" height="3.73" fill="#cfdaea"/>
<rect x="104.92" y="70.28" width="3.02" height="3.73" fill="#e9d5cb"/>
<rect x="107.89" y="70.28" width="3.02" height="3.73" fill="#f2cbb7"/>
<rect x="110.85" y="70.28" width="3.02" height="3.73" fill="#e9d5cb"/>
<rect x="128.66" y="70.28" width="3.02" height="3.73" fill="#cfdaea"/>
<rect x="140.53" y="70.28" width="3.02" height="3.73" fill="#cfdaea"/>
<rect x="149.43" y="70.28" width="5.98" height="3.73" fill="#cfdaea"/>
<rect x="161.30" y="70.28" width="8.95" height="3.73" fill="#cfdaea"/>
<rect x="173.17" y="70.28" width="5.98" height="3.73" fill="#cfdaea"/>
<rect x="179.10" y="70.28" width="3.02" height="3.73" fill="#e9d5cb"/>
<rect x="182.07" y="70.28" width="3.02" height="3.73" fill="#f7ac8e"/>
<rect x="185.04" y="70.28" width="3.02" height="3.73" fill="#f4987a"/>
<rect x="188.01" y="70.28" width="3.02" height="3.73" fill="#f7ac8e"/>
<rect x="190.97" y="70.28" width="3.02" height="3.73" fill="#e9d5cb"/>
<rect x="199.88" y="70.28" width="3.02" height="3.73" fill="#e9d5cb"/>
<rect x="202.84" y="70.28" width="5.98" height="3.73" fill="#f6bda2"/>
<rect x="208.78" y="70.28" width="3.02" height="3.73" fill="#e9d5cb"/>
<rect x="211.75" y="70.28" width="8.95" height="3.73" fill="#f6bda2"/>
<rect x="220.65" y="70.28" width="5.98" height="3.73" fill="#f7ac8e"/>
<rect x="226.58" y="70.28" width="3.02" height="3.73" fill="#e36c55"/>
<rect x="33.70" y="73.96" width="3.02" height="3.73" fill="#f6bda2"/>
<rect x="36.67" y="73.96" width="3.02" height="3.73" fill="#e9d5cb"/>
<rect x="45.57" y="73.96" width="3.02" height="3.73" fill="#e9d5cb"/>
<rect x="48.54" y="73.96" width="3.02" height="3.73" fill="#f2cbb7"/>
<rect x="51.50" y="73.96" width="3.02" height="3.73" fill="#e9d5cb"/>
<rect x="63.37" y="73.96" width="5.98" height="3.73" fill="#e9d5cb"/>
<rect x="75.24" y="73.96" width="3.02" height="3.73" fill="#e9d5cb"/>
<rect x="78.21" y="73.96" width="3.02" height="3.73" fill="#f2cbb7"/>
<rect x="81.18" y="73.96" width="3.02" height="3.73" fill="#e9d5cb"/>
<rect x="98.98" y="73.96" width="3.02" height="3.73" fill="#e9d5cb"/>
<rect x="107.89" y="73.96" width="8.95" height="3.73" fill="#e9d5cb"/>
<rect x="131.62" y="73.96" width="3.02" height="3.73" fill="#e9d5cb"/>
<rect x="149.43" y="73.96" width="5.98" height="3.73" fill="#cfdaea"/>
<rect x="161.30" y="73.96" width="5.98" height="3.73" fill="#cfdaea"/>
<rect x="167.23" y="73.96" width="3.02" height="3.73" fill="#afcafc"/>
<rect x="170.20" y="73.96" width="3.02" height="3.73" fill="#cfdaea"/>
<rect x="179.10" y="73.96" width="3.02" height="3.73" fill="#e9d5cb"/>
<rect x="182.07" y="73.96" width="5.98" height="3.73" fill="#f6bda2"/>
<rect x="188.01" y="73.96" width="3.02" height="3.73" fill="#e9d5cb"/>
<rect x="193.94" y="73.96" width="3.02" height="3.73" fill="#cfdaea"/>
<rect x="199.88" y="73.96" width="3.02" height="3.73" fill="#e9d5cb"/>
<rect x="202.84" y="73.96" width="3.02" height="3.73" fill="#f6bda2"/>
<rect x="205.81" y="73.96" width="3.02" height="3.73" fill="#f7ac8e"/>
<rect x="208.78" y="73.96" width="3.02" height="3.73" fill="#f6bda2"/>
<rect x="211.75" y="73.96" width="3.02" height="3.73" fill="#e9d5cb"/>
<rect x="214.71" y="73.96" width="3.02" height="3.73" fill="#f6bda2"/>
<rect x="217.68" y="73.96" width="3.02" height="3.73" fill="#f7ac8e"/>
<rect x="220.65" y="73.96" width="3.02" height="3.73" fill="#f6bda2"/>
<rect x="223.62" y="73.96" width="3.02" height="3.73" fill="#f7ac8e"/>
<rect x="226.58" y="73.96" width="3.02" height="3.73" fill="#c53334"/>
<rect x="33.70" y="77.64" width="3.02" height="3.73" fill="#e9d5cb"/>
<rect x="36.67" y="77.64" width="3.02" height="3.73" fill="#cfdaea"/>
<rect x="42.60" y="77.64" width="3.02" height="3.73" fill="#e9d5cb"/>
<rect x="45.57" y="77.64" width="3.02" height="3.73" fill="#f2cbb7"/>
<rect x="48.54" y="77.64" width="3.02" height="3.73" fill="#e9d5cb"/>
<rect x="63.37" y="77.64" width="5.98" height="3.73" fill="#cfdaea"/>
<rect x="78.21" y="77.64" width="3.02" height="3.73" fill="#e9d5cb"/>
<rect x="87.11" y="77.64" width="5.98" height="3.73" fill="#e9d5cb"/>
<rect x="98.98" y="77.64" width="3.02" height="3.73" fill="#e9d5cb"/>
<rect x="110.85" y="77.64" width="5.98" height="3.73" fill="#e9d5cb"/>
<rect x="122.72" y="77.64" width="3.02" height="3.73" fill="#cfdaea"/>
<rect x="128.66" y="77.64" width="3.02" height="3.73" fill="#e9d5cb"/>
<rect x="152.40" y="77.64" width="3.02" height="3.73" fill="#cfdaea"/>
<rect x="164.27" y="77.64" width="3.02" height="3.73" fill="#cfdaea"/>
<rect x="167.23" y="77.64" width="3.02" height="3.73" fill="#afcafc"/>
<rect x="170.20" y="77.64" width="3.02" height="3.73" fill="#cfdaea"/>
<rect x="182.07" y="77.64" width="5.98" height="3.73" fill="#e9d5cb"/>
<rect x="190.97" y="77.64" width="3.02" height="3.73" fill="#e9d5cb"/>
<rect x="202.84" y="77.64" width="3.02" height="3.73" fill="#e9d5cb"/>
<rect x="205.81" y="77.64" width="3.02" height="3.73" fill="#f6bda2"/>
<rect x="208.78" y="77.64" width="3.02" height="3.73" fill="#e9d5cb"/>
<rect x="214.71" y="77.64" width="3.02" height="3.73" fill="#e9d5cb"/>
<rect x="217.68" y="77.64" width="5.98" height="3.73" fill="#f6bda2"/>
<rect x="223.62" y="77.64" width="3.02" height="3.73" fill="#e9d5cb"/>
<rect x="226.58" y="77.64" width="3.02" height="3.73" fill="#f6bda2"/>
<rect x="33.70" y="81.32" width="3.02" height="3.73" fill="#cfdaea"/>
<rect x="42.60" y="81.32" width="5.98" height="3.73" fill="#e9d5cb"/>
<rect x="60.41" y="81.32" width="3.02" height="3.73" fill="#cfdaea"/>
<rect x="63.37" y="81.32" width="5.98" height="3.73" fill="#afcafc"/>
<rect x="69.31" y="81.32" width="3.02" height="3.73" fill="#cfdaea"/>
<rect x="87.11" y="81.32" width="3.02" height="3.73" fill="#e9d5cb"/>
<rect x="90.08" y="81.32" width="3.02" height="3.73" fill="#f2cbb7"/>
<rect x="93.05" y="81.32" width="3.02" height="3.73" fill="#e9d5cb"/>
<rect x="107.89" y="81.32" width="3.02" height="3.73" fill="#cfdaea"/>
<rect x="113.82" y="81.32" width="5.98" height="3.73" fill="#e9d5cb"/>
<rect x="122.72" y="81.32" width="3.02" height="3.73" fill="#cfdaea"/>
<rect x="137.56" y="81.32" width="5.98" height="3.73" fill="#e9d5cb"/>
<rect x="149.43" y="81.32" width="3.02" height="3.73" fill="#cfdaea"/>
<rect x="161.30" y="81.32" width="3.02" height="3.73" fill="#e9d5cb"/>
<rect x="164.27" y="81.32" width="3.02" height="3.73" fill="#cfdaea"/>
<rect x="167.23" y="81.32" width="3.02" height="3.73" fill="#afcafc"/>
<rect x="170.20" y="81.32" width="3.02" height="3.73" fill="#cfdaea"/>
<rect x="182.07" y="81.32" width="3.02" height="3.73" fill="#cfdaea"/>
<rect x="193.94" y="81.32" width="5.98" height="3.73" fill="#e9d5cb"/>
<rect x="202.84" y="81.32" width="5.98" height="3.73" fill="#e9d5cb"/>
<rect x="214.71" y="81.32" width="3.02" height="3.73" fill="#e9d5cb"/>
<rect x="217.68" y="81.32" width="5.98" height="3.73" fill="#f6bda2"/>
<rect x="223.62" y="81.32" width="5.98" height="3.73" fill="#e9d5cb"/>
<rect x="42.60" y="85.00" width="3.02" height="3.73" fill="#e9d5cb"/>
<rect x="57.44" y="85.00" width="3.02" height="3.73" fill="#cfdaea"/>
<rect x="60.41" y="85.00" width="5.98" height="3.73" fill="#afcafc"/>
<rect x="66.34" y="85.00" width="3.02" height="3.73" fill="#cfdaea"/>
<rect x="75.24" y="85.00" width="5.98" height="3.73" fill="#cfdaea"/>
<rect x="87.11" y="85.00" width="3.02" height="3.73" fill="#e9d5cb"/>
<rect x="90.08" y="85.00" width="3.02" height="3.73" fill="#f2cbb7"/>
<rect x="93.05" y="85.00" width="3.02" height="3.73" fill="#e9d5cb"/>
<rect x="122.72" y="85.00" width="5.98" height="3.73" fill="#cfdaea"/>
<rect x="140.53" y="85.00" width="3.02" height="3.73" fill="#e9d5cb"/>
<rect x="149.43" y="85.00" width="3.02" height="3.73" fill="#cfdaea"/>
<rect x="158.33" y="85.00" width="3.02" height="3.73" fill="#e9d5cb"/>
<rect x="161.30" y="85.00" width="3.02" height="3.73" fill="#f2cbb7"/>
<rect x="167.23" y="85.00" width="3.02" height="3.73" fill="#afcafc"/>
<rect x="170.20" y="85.00" width="3.02" height="3.73" fill="#cfdaea"/>
<rect x="179.10" y="85.00" width="3.02" height="3.73" fill="#cfdaea"/>
<rect x="190.97" y="85.00" width="3.02" height="3.73" fill="#e9d5cb"/>
<rect x="193.94" y="85.00" width="3.02" height="3.73" fill="#f6bda2"/>
<rect x="196.91" y="85.00" width="3.02" height="3.73" fill="#e9d5cb"/>
<rect x="202.84" y="85.00" width="3.02" height="3.73" fill="#e9d5cb"/>
<rect x="214.71" y="85.00" width="11.92" height="3.73" fill="#e9d5cb"/>
<rect x="36.67" y="88.68" width="3.02" height="3.73" fill="#cfdaea"/>
<rect x="45.57" y="88.68" width="3.02" height="3.73" fill="#cfdaea"/>
<rect x="57.44" y="88.68" width="8.95" height="3.73" fill="#cfdaea"/>
<rect x="72.28" y="88.68" width="3.02" height="3.73" fill="#cfdaea"/>
<rect x="75.24" y="88.68" width="3.02" height="3.73" fill="#afcafc"/>
<rect x="78.21" y="88.68" width="3.02" height="3.73" fill="#cfdaea"/>
<rect x="87.11" y="88.68" width="5.98" height="3.73" fill="#e9d5cb"/>
<rect x="93.05" y="88.68" width="3.02" height="3.73" fill="#f2cbb7"/>
<rect x="96.02" y="88.68" width="3.02" height="3.73" fill="#e9d5cb"/>
<rect x="104.92" y="88.68" width="3.02" height="3.73" fill="#e9d5cb"/>
<rect x="125.69" y="88.68" width="5.98" height="3.73" fill="#cfdaea"/>
<rect x="149.43" y="88.68" width="5.98" height="3.73" fill="#cfdaea"/>
<rect x="158.33" y="88.68" width="3.02" height="3.73" fill="#e9d5cb"/>
<rect x="161.30" y="88.68" width="3.02" height="3.73" fill="#f2cbb7"/>
<rect x="164.27" y="88.68" width="3.02" height="3.73" fill="#e9d5cb"/>
<rect x="167.23" y="88.68" width="3.02" height="3.73" fill="#cfdaea"/>
<rect x="170.20" y="88.68" width="3.02" height="3.73" fill="#afcafc"/>
<rect x="173.17" y="88.68" width="3.02" height="3.73" fill="#cfdaea"/>
<rect x="179.10" y="88.68" width="3.02" height="3.73" fill="#cfdaea"/>
<rect x="190.97" y="88.68" width="3.02" height="3.73" fill="#e9d5cb"/>
<rect x="193.94" y="88.68" width="3.02" height="3.73" fill="#f6bda2"/>
<rect x="196.91" y="88.68" width="8.95" height="3.73" fill="#e9d5cb"/>
<rect x="214.71" y="88.68" width="5.98" height="3.73" fill="#e9d5cb"/>
<rect x="33.70" y="92.36" width="3.02" height="3.73" fill="#e9d5cb"/>
<rect x="36.67" y="92.36" width="3.02" height="3.73" fill="#cfdaea"/>
<rect x="45.57" y="92.36" width="3.02" height="3.73" fill="#cfdaea"/>
<rect x="63.37" y="92.36" width="3.02" height="3.73" fill="#e9d5cb"/>
<rect x="72.28" y="92.36" width="5.98" height="3.73" fill="#cfdaea"/>
<rect x="90.08" y="92.36" width="8.95" height="3.73" fill="#e9d5cb"/>
<rect x="104.92" y="92.36" width="3.02" height="3.73" fill="#e9d5cb"/>
<rect x="116.79" y="92.36" width="3.02" height="3.73" fill="#e9d5cb"/>
<rect x="134.59" y="92.36" width="3.02" height="3.73" fill="#cfdaea"/>
<rect x="149.43" y="92.36" width="3.02" height="3.73" fill="#e9d5cb"/>
<rect x="158.33" y="92.36" width="8.95" height="3.73" fill="#e9d5cb"/>
<rect x="167.23" y="92.36" width="3.02" height="3.73" fill="#cfdaea"/>
<rect x="170.20" y="92.36" width="3.02" height="3.73" fill="#9ebeff"/>
<rect x="173.17" y="92.36" width="3.02" height="3.73" fill="#cfdaea"/>
<rect x="179.10" y="92.36" width="5.98" height="3.73" fill="#cfdaea"/>
<rect x="190.97" y="92.36" width="8.95" height="3.73" fill="#e9d5cb"/>
<rect x="202.84" y="92.36" width="3.02" height="3.73" fill="#e9d5cb"/>
<rect x="214.71" y="92.36" width="5.98" height="3.73" fill="#e9d5cb"/>
<rect x="39.63" y="96.04" width="5.98" height="3.73" fill="#cfdaea"/>
<rect x="57.44" y="96.04" width="8.95" height="3.73" fill="#e9d5cb"/>
<rect x="69.31" y="96.04" width="5.98" height="3.73" fill="#cfdaea"/>
<rect x="81.18" y="96.04" width="5.98" height="3.73" fill="#cfdaea"/>
<rect x="96.02" y="96.04" width="8.95" height="3.73" fill="#e9d5cb"/>
<rect x="134.59" y="96.04" width="5.98" height="3.73" fill="#cfdaea"/>
<rect x="149.43" y="96.04" width="5.98" height="3.73" fill="#e9d5cb"/>
<rect x="161.30" y="96.04" width="3.02" height="3.73" fill="#e9d5cb"/>
<rect x="164.27" y="96.04" width="8.95" height="3.73" fill="#cfdaea"/>
<rect x="182.07" y="96.04" width="3.02" height="3.73" fill="#cfdaea"/>
<rect x="190.97" y="96.04" width="3.02" height="3.73" fill="#e9d5cb"/>
<rect x="193.94" y="96.04" width="5.98" height="3.73" fill="#f2cbb7"/>
<rect x="199.88" y="96.04" width="3.02" height="3.73" fill="#e9d5cb"/>
<rect x="205.81" y="96.04" width="14.89" height="3.73" fill="#e9d5cb"/>
<rect x="223.62" y="96.04" width="3.02" height="3.73" fill="#e9d5cb"/>
<rect x="226.58" y="96.04" width="3.02" height="3.73" fill="#cfdaea"/>
<rect x="51.50" y="99.71" width="3.02" height="3.73" fill="#e9d5cb"/>
<rect x="57.44" y="99.71" width="5.98" height="3.73" fill="#e9d5cb"/>
<rect x="69.31" y="99.71" width="3.02" height="3.73" fill="#cfdaea"/>
<rect x="81.18" y="99.71" width="8.95" height="3.73" fill="#cfdaea"/>
<rect x="96.02" y="99.71" width="8.95" height="3.73" fill="#e9d5cb"/>
<rect x="125.69" y="99.71" width="5.98" height="3.73" fill="#cfdaea"/>
<rect x="134.59" y="99.71" width="5.98" height="3.73" fill="#cfdaea"/>
<rect x="143.49" y="99.71" width="3.02" height="3.73" fill="#e9d5cb"/>
<rect x="161.30" y="99.71" width="3.02" height="3.73" fill="#e9d5cb"/>
<rect x="188.01" y="99.71" width="11.92" height="3.73" fill="#e9d5cb"/>
<rect x="202.84" y="99.71" width="5.98" height="3.73" fill="#e9d5cb"/>
<rect x="208.78" y="99.71" width="3.02" height="3.73" fill="#f2cbb7"/>
<rect x="211.75" y="99.71" width="5.98" height="3.73" fill="#e9d5cb"/>
<rect x="226.58" y="99.71" width="3.02" height="3.73" fill="#c0d4f5"/>
<rect x="81.18" y="103.39" width="8.95" height="3.73" fill="#cfdaea"/>
<rect x="96.02" y="103.39" width="3.02" height="3.73" fill="#e9d5cb"/>
<rect x="101.95" y="103.39" width="5.98" height="3.73" fill="#e9d5cb"/>
<rect x="125.69" y="103.39" width="5.98" height="3.73" fill="#cfdaea"/>
<rect x="143.49" y="103.39" width="3.02" height="3.73" fill="#e9d5cb"/>
<rect x="149.43" y="103.39" width="5.98" height="3.73" fill="#cfdaea"/>
<rect x="158.33" y="103.39" width="11.92" height="3.73" fill="#e9d5cb"/>
<rect x="176.14" y="103.39" width="3.02" height="3.73" fill="#cfdaea"/>
<rect x="193.94" y="103.39" width="3.02" height="3.73" fill="#e9d5cb"/>
<rect x="205.81" y="103.39" width="3.02" height="3.73" fill="#e9d5cb"/>
<rect x="208.78" y="103.39" width="5.98" height="3.73" fill="#cfdaea"/>
<rect x="220.65" y="103.39" width="3.02" height="3.73" fill="#e9d5cb"/>
<rect x="226.58" y="103.39" width="3.02" height="3.73" fill="#cfdaea"/>
<rect x="36.67" y="107.07" width="5.98" height="3.73" fill="#cfdaea"/>
<rect x="48.54" y="107.07" width="3.02" height="3.73" fill="#cfdaea"/>
<rect x="69.31" y="107.07" width="3.02" height="3.73" fill="#e9d5cb"/>
<rect x="81.18" y="107.07" width="5.98" height="3.73" fill="#cfdaea"/>
<rect x="101.95" y="107.07" width="11.92" height="3.73" fill="#e9d5cb"/>
<rect x="116.79" y="107.07" width="3.02" height="3.73" fill="#e9d5cb"/>
<rect x="125.69" y="107.07" width="5.98" height="3.73" fill="#cfdaea"/>
<rect x="134.59" y="107.07" width="5.98" height="3.73" fill="#e9d5cb"/>
<rect x="149.43" y="107.07" width="5.98" height="3.73" fill="#cfdaea"/>
<rect x="158.33" y="107.07" width="11.92" height="3.73" fill="#e9d5cb"/>
<rect x="176.14" y="107.07" width="5.98" height="3.73" fill="#cfdaea"/>
<rect x="185.04" y="107.07" width="3.02" height="3.73" fill="#e9d5cb"/>
<rect x="208.78" y="107.07" width="5.98" height="3.73" fill="#cfdaea"/>
<rect x="223.62" y="107.07" width="5.98" height="3.73" fill="#cfdaea"/>
<rect x="36.67" y="110.75" width="5.98" height="3.73" fill="#cfdaea"/>
<rect x="60.41" y="110.75" width="14.89" height="3.73" fill="#e9d5cb"/>
<rect x="93.05" y="110.75" width="3.02" height="3.73" fill="#cfdaea"/>
<rect x="98.98" y="110.75" width="3.02" height="3.73" fill="#cfdaea"/>
<rect x="101.95" y="110.75" width="3.02" height="3.73" fill="#e9d5cb"/>
<rect x="107.89" y="110.75" width="3.02" height="3.73" fill="#f2cbb7"/>
<rect x="110.85" y="110.75" width="3.02" height="3.73" fill="#e9d5cb"/>
<rect x="122.72" y="110.75" width="8.95" height="3.73" fill="#cfdaea"/>
<rect x="134.59" y="110.75" width="5.98" height="3.73" fill="#e9d5cb"/>
<rect x="161.30" y="110.75" width="3.02" height="3.73" fill="#e9d5cb"/>
<rect x="173.17" y="110.75" width="5.98" height="3.73" fill="#cfdaea"/>
<rect x="185.04" y="110.75" width="3.02" height="3.73" fill="#e9d5cb"/>
<rect x="211.75" y="110.75" width="8.95" height="3.73" fill="#cfdaea"/>
<rect x="220.65" y="110.75" width="5.98" height="3.73" fill="#c0d4f5"/>
<rect x="226.58" y="110.75" width="3.02" height="3.73" fill="#cfdaea"/>
<rect x="48.54" y="114.43" width="3.02" height="3.73" fill="#e9d5cb"/>
<rect x="54.47" y="114.43" width="3.02" height="3.73" fill="#cfdaea"/>
<rect x="60.41" y="114.43" width="11.92" height="3.73" fill="#e9d5cb"/>
<rect x="87.11" y="114.43" width="3.02" height="3.73" fill="#e9d5cb"/>
<rect x="93.05" y="114.43" width="8.95" height="3.73" fill="#cfdaea"/>
<rect x="104.92" y="114.43" width="11.92" height="3.73" fill="#e9d5cb"/>
<rect x="131.62" y="114.43" width="3.02" height="3.73" fill="#cfdaea"/>
<rect x="164.27" y="114.43" width="3.02" height="3.73" fill="#e9d5cb"/>
<rect x="208.78" y="114.43" width="8.95" height="3.73" fill="#cfdaea"/>
<rect x="220.65" y="114.43" width="3.02" height="3.73" fill="#cfdaea"/>
<rect x="223.62" y="114.43" width="3.02" height="3.73" fill="#c0d4f5"/>
<rect x="226.58" y="114.43" width="3.02" height="3.73" fill="#afcafc"/>
<rect x="33.70" y="118.11" width="5.98" height="3.73" fill="#e9d5cb"/>
<rect x="48.54" y="118.11" width="3.02" height="3.73" fill="#e9d5cb"/>
<rect x="63.37" y="118.11" width="8.95" height="3.73" fill="#e9d5cb"/>
<rect x="78.21" y="118.11" width="8.95" height="3.73" fill="#e9d5cb"/>
<rect x="98.98" y="118.11" width="3.02" height="3.73" fill="#cfdaea"/>
<rect x="107.89" y="118.11" width="5.98" height="3.73" fill="#e9d5cb"/>
<rect x="119.76" y="118.11" width="3.02" height="3.73" fill="#e9d5cb"/>
<rect x="152.40" y="118.11" width="5.98" height="3.73" fill="#cfdaea"/>
<rect x="164.27" y="118.11" width="3.02" height="3.73" fill="#e9d5cb"/>
<rect x="182.07" y="118.11" width="3.02" height="3.73" fill="#cfdaea"/>
<rect x="208.78" y="118.11" width="3.02" height="3.73" fill="#cfdaea"/>
<rect x="214.71" y="118.11" width="3.02" height="3.73" fill="#cfdaea"/>
<rect x="220.65" y="118.11" width="8.95" height="3.73" fill="#cfdaea"/>
<rect x="33.70" y="121.79" width="5.98" height="3.73" fill="#e9d5cb"/>
<rect x="69.31" y="121.79" width="3.02" height="3.73" fill="#e9d5cb"/>
<rect x="81.18" y="121.79" width="3.02" height="3.73" fill="#e9d5cb"/>
<rect x="90.08" y="121.79" width="3.02" height="3.73" fill="#cfdaea"/>
<rect x="104.92" y="121.79" width="3.02" height="3.73" fill="#cfdaea"/>
<rect x="116.79" y="121.79" width="5.98" height="3.73" fill="#cfdaea"/>
<rect x="125.69" y="121.79" width="11.92" height="3.73" fill="#cfdaea"/>
<rect x="152.40" y="121.79" width="3.02" height="3.73" fill="#cfdaea"/>
<rect x="190.97" y="121.79" width="3.02" height="3.73" fill="#e9d5cb"/>
<rect x="217.68" y="121.79" width="11.92" height="3.73" fill="#cfdaea"/>
<rect x="33.70" y="125.47" width="3.02" height="3.73" fill="#e9d5cb"/>
<rect x="75.24" y="125.47" width="5.98" height="3.73" fill="#e9d5cb"/>
<rect x="93.05" y="125.47" width="3.02" height="3.73" fill="#cfdaea"/>
<rect x="134.59" y="125.47" width="11.92" height="3.73" fill="#e9d5cb"/>
<rect x="158.33" y="125.47" width="3.02" height="3.73" fill="#cfdaea"/>
<rect x="164.27" y="125.47" width="3.02" height="3.73" fill="#cfdaea"/>
<rect x="205.81" y="125.47" width="3.02" height="3.73" fill="#e9d5cb"/>
<rect x="217.68" y="125.47" width="11.92" height="3.73" fill="#cfdaea"/>
<rect x="75.24" y="129.15" width="5.98" height="3.73" fill="#e9d5cb"/>
<rect x="84.15" y="129.15" width="3.02" height="3.73" fill="#cfdaea"/>
<rect x="93.05" y="129.15" width="5.98" height="3.73" fill="#cfdaea"/>
<rect x="101.95" y="129.15" width="3.02" height="3.73" fill="#e9d5cb"/>
<rect x="110.85" y="129.15" width="5.98" height="3.73" fill="#cfdaea"/>
<rect x="122.72" y="129.15" width="5.98" height="3.73" fill="#e9d5cb"/>
<rect x="128.66" y="129.15" width="3.02" height="3.73" fill="#f2cbb7"/>
<rect x="131.62" y="129.15" width="3.02" height="3.73" fill="#e9d5cb"/>
<rect x="143.49" y="129.15" width="3.02" height="3.73" fill="#e9d5cb"/>
<rect x="158.33" y="129.15" width="8.95" height="3.73" fill="#cfdaea"/>
<rect x="208.78" y="129.15" width="3.02" height="3.73" fill="#e9d5cb"/>
<rect x="217.68" y="129.15" width="11.92" height="3.73" fill="#cfdaea"/>
<rect x="39.63" y="132.83" width="5.98" height="3.73" fill="#e9d5cb"/>
<rect x="54.47" y="132.83" width="3.02" height="3.73" fill="#cfdaea"/>
<rect x="75.24" y="132.83" width="5.98" height="3.73" fill="#e9d5cb"/>
<rect x="104.92" y="132.83" width="5.98" height="3.73" fill="#e9d5cb"/>
<rect x="113.82" y="132.83" width="3.02" height="3.73" fill="#cfdaea"/>
<rect x="122.72" y="132.83" width="5.98" height="3.73" fill="#e9d5cb"/>
<rect x="128.66" y="132.83" width="3.02" height="3.73" fill="#f2cbb7"/>
<rect x="131.62" y="132.83" width="3.02" height="3.73" fill="#e9d5cb"/>
<rect x="149.43" y="132.83" width="5.98" height="3.73" fill="#cfdaea"/>
<rect x="161.30" y="132.83" width="3.02" height="3.73" fill="#e9d5cb"/>
<rect x="176.14" y="132.83" width="3.02" height="3.73" fill="#e9d5cb"/>
<rect x="190.97" y="132.83" width="11.92" height="3.73" fill="#e9d5cb"/>
<rect x="220.65" y="132.83" width="8.95" height="3.73" fill="#cfdaea"/>
<rect x="39.63" y="136.51" width="5.98" height="3.73" fill="#e9d5cb"/>
<rect x="84.15" y="136.51" width="3.02" height="3.73" fill="#e9d5cb"/>
<rect x="90.08" y="136.51" width="3.02" height="3.73" fill="#cfdaea"/>
<rect x="101.95" y="136.51" width="5.98" height="3.73" fill="#cfdaea"/>
<rect x="113.82" y="136.51" width="5.98" height="3.73" fill="#cfdaea"/>
<rect x="122.72" y="136.51" width="5.98" height="3.73" fill="#e9d5cb"/>
<rect x="137.56" y="136.51" width="11.92" height="3.73" fill="#e9d5cb"/>
<rect x="161.30" y="136.51" width="5.98" height="3.73" fill="#cfdaea"/>
<rect x="202.84" y="136.51" width="5.98" height="3.73" fill="#e9d5cb"/>
<rect x="223.62" y="136.51" width="5.98" height="3.73" fill="#cfdaea"/>
<rect x="36.67" y="140.19" width="3.02" height="3.73" fill="#e9d5cb"/>
<rect x="90.08" y="140.19" width="5.98" height="3.73" fill="#cfdaea"/>
<rect x="101.95" y="140.19" width="5.98" height="3.73" fill="#cfdaea"/>
<rect x="110.85" y="140.19" width="5.98" height="3.73" fill="#f2cbb7"/>
<rect x="131.62" y="140.19" width="3.02" height="3.73" fill="#e9d5cb"/>
<rect x="134.59" y="140.19" width="5.98" height="3.73" fill="#f6bda2"/>
<rect x="140.53" y="140.19" width="3.02" height="3.73" fill="#e9d5cb"/>
<rect x="146.46" y="140.19" width="3.02" height="3.73" fill="#e9d5cb"/>
<rect x="155.36" y="140.19" width="3.02" height="3.73" fill="#e9d5cb"/>
<rect x="170.20" y="140.19" width="3.02" height="3.73" fill="#e9d5cb"/>
<rect x="185.04" y="140.19" width="3.02" height="3.73" fill="#e9d5cb"/>
<rect x="202.84" y="140.19" width="3.02" height="3.73" fill="#e9d5cb"/>
<rect x="205.81" y="140.19" width="3.02" height="3.73" fill="#f2cbb7"/>
<rect x="208.78" y="140.19" width="5.98" height="3.73" fill="#e9d5cb"/>
<rect x="226.58" y="140.19" width="3.02" height="3.73" fill="#cfdaea"/>
<rect x="36.67" y="143.87" width="3.02" height="3.73" fill="#e9d5cb"/>
<rect x="42.60" y="143.87" width="3.02" height="3.73" fill="#e9d5cb"/>
<rect x="72.28" y="143.87" width="3.02" height="3.73" fill="#cfdaea"/>
<rect x="75.24" y="143.87" width="3.02" height="3.73" fill="#e9d5cb"/>
<rect x="122.72" y="143.87" width="5.98" height="3.73" fill="#cfdaea"/>
<rect x="134.59" y="143.87" width="3.02" height="3.73" fill="#f6bda2"/>
<rect x="137.56" y="143.87" width="3.02" height="3.73" fill="#f2cbb7"/>
<rect x="146.46" y="143.87" width="5.98" height="3.73" fill="#cfdaea"/>
<rect x="158.33" y="143.87" width="8.95" height="3.73" fill="#e9d5cb"/>
<rect x="167.23" y="143.87" width="3.02" height="3.73" fill="#cfdaea"/>
<rect x="202.84" y="143.87" width="5.98" height="3.73" fill="#e9d5cb"/>
<rect x="211.75" y="143.87" width="3.02" height="3.73" fill="#e9d5cb"/>
<rect x="226.58" y="143.87" width="3.02" height="3.73" fill="#cfdaea"/>
<rect x="33.70" y="147.55" width="3.02" height="3.73" fill="#e9d5cb"/>
<rect x="42.60" y="147.55" width="3.02" height="3.73" fill="#e9d5cb"/>
<rect x="54.47" y="147.55" width="3.02" height="3.73" fill="#cfdaea"/>
<rect x="66.34" y="147.55" width="3.02" height="3.73" fill="#e9d5cb"/>
<rect x="72.28" y="147.55" width="3.02" height="3.73" fill="#cfdaea"/>
<rect x="81.18" y="147.55" width="3.02" height="3.73" fill="#f2cbb7"/>
<rect x="90.08" y="147.55" width="5.98" height="3.73" fill="#e9d5cb"/>
<rect x="101.95" y="147.55" width="3.02" height="3.73" fill="#e9d5cb"/>
<rect x="107.89" y="147.55" width="3.02" height="3.73" fill="#cfdaea"/>
<rect x="119.76" y="147.55" width="8.95" height="3.73" fill="#f2cbb7"/>
<rect x="128.66" y="147.55" width="3.02" height="3.73" fill="#f6bda2"/>
<rect x="131.62" y="147.55" width="14.89" height="3.73" fill="#f2cbb7"/>
<rect x="155.36" y="147.55" width="5.98" height="3.73" fill="#cfdaea"/>
<rect x="167.23" y="147.55" width="3.02" height="3.73" fill="#f2cbb7"/>
<rect x="176.14" y="147.55" width="3.02" height="3.73" fill="#cfdaea"/>
<rect x="190.97" y="147.55" width="3.02" height="3.73" fill="#cfdaea"/>
<rect x="226.58" y="147.55" width="3.02" height="3.73" fill="#cfdaea"/>
<rect x="36.67" y="151.22" width="3.02" height="3.73" fill="#e9d5cb"/>
<rect x="57.44" y="151.22" width="3.02" height="3.73" fill="#cfdaea"/>
<rect x="81.18" y="151.22" width="3.02" height="3.73" fill="#f2cbb7"/>
<rect x="84.15" y="151.22" width="3.02" height="3.73" fill="#e9d5cb"/>
<rect x="104.92" y="151.22" width="3.02" height="3.73" fill="#cfdaea"/>
<rect x="122.72" y="151.22" width="8.95" height="3.73" fill="#cfdaea"/>
<rect x="146.46" y="151.22" width="3.02" height="3.73" fill="#e9d5cb"/>
<rect x="149.43" y="151.22" width="8.95" height="3.73" fill="#f2cbb7"/>
<rect x="158.33" y="151.22" width="3.02" height="3.73" fill="#e9d5cb"/>
<rect x="190.97" y="151.22" width="3.02" height="3.73" fill="#cfdaea"/>
<rect x="196.91" y="151.22" width="3.02" height="3.73" fill="#e9d5cb"/>
<rect x="202.84" y="151.22" width="5.98" height="3.73" fill="#e9d5cb"/>
<rect x="226.58" y="151.22" width="3.02" height="3.73" fill="#cfdaea"/>
<rect x="63.37" y="154.90" width="3.02" height="3.73" fill="#e9d5cb"/>
<rect x="69.31" y="154.90" width="8.95" height="3.73" fill="#cfdaea"/>
<rect x="81.18" y="154.90" width="3.02" height="3.73" fill="#e9d5cb"/>
<rect x="90.08" y="154.90" width="3.02" height="3.73" fill="#e9d5cb"/>
<rect x="96.02" y="154.90" width="5.98" height="3.73" fill="#e9d5cb"/>
<rect x="119.76" y="154.90" width="3.02" height="3.73" fill="#e9d5cb"/>
<rect x="122.72" y="154.90" width="8.95" height="3.73" fill="#f2cbb7"/>
<rect x="131.62" y="154.90" width="3.02" height="3.73" fill="#e9d5cb"/>
<rect x="137.56" y="154.90" width="3.02" height="3.73" fill="#e9d5cb"/>
<rect x="140.53" y="154.90" width="3.02" height="3.73" fill="#f2cbb7"/>
<rect x="143.49" y="154.90" width="3.02" height="3.73" fill="#e9d5cb"/>
<rect x="152.40" y="154.90" width="3.02" height="3.73" fill="#cfdaea"/>
<rect x="158.33" y="154.90" width="3.02" height="3.73" fill="#e9d5cb"/>
<rect x="161.30" y="154.90" width="3.02" height="3.73" fill="#f2cbb7"/>
<rect x="164.27" y="154.90" width="3.02" height="3.73" fill="#e9d5cb"/>
<rect x="167.23" y="154.90" width="3.02" height="3.73" fill="#f2cbb7"/>
<rect x="173.17" y="154.90" width="8.95" height="3.73" fill="#cfdaea"/>
<rect x="211.75" y="154.90" width="3.02" height="3.73" fill="#e9d5cb"/>
<rect x="226.58" y="154.90" width="3.02" height="3.73" fill="#cfdaea"/>
<rect x="33.70" y="158.58" width="3.02" height="3.73" fill="#c0d4f5"/>
<rect x="39.63" y="158.58" width="3.02" height="3.73" fill="#e9d5cb"/>
<rect x="48.54" y="158.58" width="3.02" height="3.73" fill="#cfdaea"/>
<rect x="54.47" y="158.58" width="5.98" height="3.73" fill="#c0d4f5"/>
<rect x="66.34" y="158.58" width="3.02" height="3.73" fill="#cfdaea"/>
<rect x="69.31" y="158.58" width="3.02" height="3.73" fill="#c0d4f5"/>
<rect x="75.24" y="158.58" width="3.02" height="3.73" fill="#cfdaea"/>
<rect x="78.21" y="158.58" width="8.95" height="3.73" fill="#e9d5cb"/>
<rect x="87.11" y="158.58" width="3.02" height="3.73" fill="#f2cbb7"/>
<rect x="96.02" y="158.58" width="3.02" height="3.73" fill="#e9d5cb"/>
<rect x="98.98" y="158.58" width="3.02" height="3.73" fill="#f2cbb7"/>
<rect x="104.92" y="158.58" width="3.02" height="3.73" fill="#f2cbb7"/>
<rect x="113.82" y="158.58" width="3.02" height="3.73" fill="#e9d5cb"/>
<rect x="155.36" y="158.58" width="3.02" height="3.73" fill="#f6bda2"/>
<rect x="161.30" y="158.58" width="3.02" height="3.73" fill="#cfdaea"/>
<rect x="167.23" y="158.58" width="3.02" height="3.73" fill="#cfdaea"/>
<rect x="179.10" y="158.58" width="3.02" height="3.73" fill="#cfdaea"/>
<rect x="182.07" y="158.58" width="3.02" height="3.73" fill="#c0d4f5"/>
<rect x="185.04" y="158.58" width="3.02" height="3.73" fill="#cfdaea"/>
<rect x="196.91" y="158.58" width="3.02" height="3.73" fill="#e9d5cb"/>
<rect x="205.81" y="158.58" width="3.02" height="3.73" fill="#e9d5cb"/>
<rect x="33.70" y="162.26" width="3.02" height="3.73" fill="#cfdaea"/>
<rect x="48.54" y="162.26" width="3.02" height="3.73" fill="#cfdaea"/>
<rect x="51.50" y="162.26" width="5.98" height="3.73" fill="#c0d4f5"/>
<rect x="60.41" y="162.26" width="3.02" height="3.73" fill="#e9d5cb"/>
<rect x="66.34" y="162.26" width="3.02" height="3.73" fill="#cfdaea"/>
<rect x="69.31" y="162.26" width="3.02" height="3.73" fill="#c0d4f5"/>
<rect x="75.24" y="162.26" width="3.02" height="3.73" fill="#cfdaea"/>
<rect x="78.21" y="162.26" width="3.02" height="3.73" fill="#e9d5cb"/>
<rect x="81.18" y="162.26" width="3.02" height="3.73" fill="#f2cbb7"/>
<rect x="84.15" y="162.26" width="17.85" height="3.73" fill="#e9d5cb"/>
<rect x="104.92" y="162.26" width="3.02" height="3.73" fill="#cfdaea"/>
<rect x="125.69" y="162.26" width="3.02" height="3.73" fill="#cfdaea"/>
<rect x="134.59" y="162.26" width="3.02" height="3.73" fill="#cfdaea"/>
<rect x="146.46" y="162.26" width="5.98" height="3.73" fill="#cfdaea"/>
<rect x="155.36" y="162.26" width="3.02" height="3.73" fill="#cfdaea"/>
<rect x="158.33" y="162.26" width="3.02" height="3.73" fill="#e9d5cb"/>
<rect x="161.30" y="162.26" width="3.02" height="3.73" fill="#f2cbb7"/>
<rect x="164.27" y="162.26" width="3.02" height="3.73" fill="#f6bda2"/>
<rect x="167.23" y="162.26" width="5.98" height="3.73" fill="#f2cbb7"/>
<rect x="173.17" y="162.26" width="3.02" height="3.73" fill="#e9d5cb"/>
<rect x="179.10" y="162.26" width="3.02" height="3.73" fill="#cfdaea"/>
<rect x="188.01" y="162.26" width="3.02" height="3.73" fill="#e9d5cb"/>
<rect x="193.94" y="162.26" width="5.98" height="3.73" fill="#f2cbb7"/>
<rect x="208.78" y="162.26" width="5.98" height="3.73" fill="#cfdaea"/>
<rect x="217.68" y="162.26" width="3.02" height="3.73" fill="#e9d5cb"/>
<rect x="33.70" y="165.94" width="3.02" height="3.73" fill="#f4987a"/>
<rect x="36.67" y="165.94" width="3.02" height="3.73" fill="#ee8468"/>
<rect x="39.63" y="165.94" width="3.02" height="3.73" fill="#e9d5cb"/>
<rect x="42.60" y="165.94" width="11.92" height="3.73" fill="#f6bda2"/>
<rect x="54.47" y="165.94" width="3.02" height="3.73" fill="#e9d5cb"/>
<rect x="60.41" y="165.94" width="3.02" height="3.73" fill="#e9d5cb"/>
<rect x="63.37" y="165.94" width="11.92" height="3.73" fill="#f6bda2"/>
<rect x="75.24" y="165.94" width="3.02" height="3.73" fill="#f7ac8e"/>
<rect x="78.21" y="165.94" width="3.02" height="3.73" fill="#f6bda2"/>
<rect x="81.18" y="165.94" width="3.02" height="3.73" fill="#f2cbb7"/>
<rect x="84.15" y="165.94" width="3.02" height="3.73" fill="#f7ac8e"/>
<rect x="87.11" y="165.94" width="3.02" height="3.73" fill="#f6bda2"/>
<rect x="90.08" y="165.94" width="8.95" height="3.73" fill="#f2cbb7"/>
<rect x="98.98" y="165.94" width="5.98" height="3.73" fill="#f6bda2"/>
<rect x="104.92" y="165.94" width="3.02" height="3.73" fill="#cfdaea"/>
<rect x="143.49" y="165.94" width="8.95" height="3.73" fill="#f2cbb7"/>
<rect x="152.40" y="165.94" width="3.02" height="3.73" fill="#f6bda2"/>
<rect x="155.36" y="165.94" width="3.02" height="3.73" fill="#cfdaea"/>
<rect x="161.30" y="165.94" width="3.02" height="3.73" fill="#e9d5cb"/>
<rect x="164.27" y="165.94" width="5.98" height="3.73" fill="#f2cbb7"/>
<rect x="170.20" y="165.94" width="3.02" height="3.73" fill="#f6bda2"/>
<rect x="173.17" y="165.94" width="3.02" height="3.73" fill="#f4987a"/>
<rect x="176.14" y="165.94" width="3.02" height="3.73" fill="#f7ac8e"/>
<rect x="179.10" y="165.94" width="3.02" height="3.73" fill="#f2cbb7"/>
<rect x="182.07" y="165.94" width="3.02" height="3.73" fill="#f6bda2"/>
<rect x="185.04" y="165.94" width="3.02" height="3.73" fill="#f7ac8e"/>
<rect x="188.01" y="165.94" width="3.02" height="3.73" fill="#f6bda2"/>
<rect x="193.94" y="165.94" width="3.02" height="3.73" fill="#afcafc"/>
<rect x="196.91" y="165.94" width="3.02" height="3.73" fill="#9ebeff"/>
<rect x="199.88" y="165.94" width="3.02" height="3.73" fill="#afcafc"/>
<rect x="202.84" y="165.94" width="3.02" height="3.73" fill="#f2cbb7"/>
<rect x="205.81" y="165.94" width="3.02" height="3.73" fill="#f4987a"/>
<rect x="208.78" y="165.94" width="5.98" height="3.73" fill="#d65244"/>
<rect x="214.71" y="165.94" width="3.02" height="3.73" fill="#ee8468"/>
<rect x="217.68" y="165.94" width="3.02" height="3.73" fill="#f2cbb7"/>
<rect x="220.65" y="165.94" width="8.95" height="3.73" fill="#cfdaea"/>
<rect x="33.70" y="169.62" width="5.98" height="3.73" fill="#c0d4f5"/>
<rect x="39.63" y="169.62" width="3.02" height="3.73" fill="#e9d5cb"/>
<rect x="48.54" y="169.62" width="3.02" height="3.73" fill="#cfdaea"/>
<rect x="51.50" y="169.62" width="3.02" height="3.73" fill="#e9d5cb"/>
<rect x="54.47" y="169.62" width="3.02" height="3.73" fill="#f2cbb7"/>
<rect x="60.41" y="169.62" width="3.02" height="3.73" fill="#e9d5cb"/>
<rect x="66.34" y="169.62" width="3.02" height="3.73" fill="#cfdaea"/>
<rect x="69.31" y="169.62" width="3.02" height="3.73" fill="#c0d4f5"/>
<rect x="75.24" y="169.62" width="3.02" height="3.73" fill="#e9d5cb"/>
<rect x="78.21" y="169.62" width="5.98" height="3.73" fill="#cfdaea"/>
<rect x="87.11" y="169.62" width="3.02" height="3.73" fill="#cfdaea"/>
<rect x="96.02" y="169.62" width="3.02" height="3.73" fill="#cfdaea"/>
<rect x="119.76" y="169.62" width="3.02" height="3.73" fill="#cfdaea"/>
<rect x="149.43" y="169.62" width="3.02" height="3.73" fill="#cfdaea"/>
<rect x="155.36" y="169.62" width="3.02" height="3.73" fill="#f6bda2"/>
<rect x="161.30" y="169.62" width="3.02" height="3.73" fill="#f2cbb7"/>
<rect x="170.20" y="169.62" width="3.02" height="3.73" fill="#cfdaea"/>
<rect x="173.17" y="169.62" width="5.98" height="3.73" fill="#c0d4f5"/>
<rect x="179.10" y="169.62" width="3.02" height="3.73" fill="#cfdaea"/>
<rect x="182.07" y="169.62" width="5.98" height="3.73" fill="#c0d4f5"/>
<rect x="190.97" y="169.62" width="3.02" height="3.73" fill="#cfdaea"/>
<rect x="193.94" y="169.62" width="3.02" height="3.73" fill="#f6bda2"/>
<rect x="196.91" y="169.62" width="3.02" height="3.73" fill="#f2cbb7"/>
<rect x="199.88" y="169.62" width="3.02" height="3.73" fill="#cfdaea"/>
<rect x="205.81" y="169.62" width="3.02" height="3.73" fill="#c0d4f5"/>
<rect x="208.78" y="169.62" width="3.02" height="3.73" fill="#afcafc"/>
<rect x="211.75" y="169.62" width="3.02" height="3.73" fill="#9ebeff"/>
<rect x="214.71" y="169.62" width="3.02" height="3.73" fill="#afcafc"/>
<rect x="217.68" y="169.62" width="3.02" height="3.73" fill="#f2cbb7"/>
<rect x="220.65" y="169.62" width="3.02" height="3.73" fill="#cfdaea"/>
</g>
<g filter="url(#blb)">
<rect x="245.20" y="22.45" width="195.85" height="150.85" fill="#dddcdc"/>
<rect x="245.20" y="22.45" width="5.98" height="3.73" fill="#afcafc"/>
<rect x="251.13" y="22.45" width="3.02" height="3.73" fill="#e9d5cb"/>
<rect x="254.10" y="22.45" width="5.98" height="3.73" fill="#f2cbb7"/>
<rect x="260.04" y="22.45" width="3.02" height="3.73" fill="#e9d5cb"/>
<rect x="268.94" y="22.45" width="3.02" height="3.73" fill="#e9d5cb"/>
<rect x="271.91" y="22.45" width="3.02" height="3.73" fill="#f2cbb7"/>
<rect x="274.87" y="22.45" width="3.02" height="3.73" fill="#e9d5cb"/>
<rect x="292.68" y="22.45" width="5.98" height="3.73" fill="#cfdaea"/>
<rect x="307.52" y="22.45" width="3.02" height="3.73" fill="#e9d5cb"/>
<rect x="313.45" y="22.45" width="5.98" height="3.73" fill="#cfdaea"/>
<rect x="325.32" y="22.45" width="14.89" height="3.73" fill="#e9d5cb"/>
<rect x="349.06" y="22.45" width="3.02" height="3.73" fill="#cfdaea"/>
<rect x="352.03" y="22.45" width="3.02" height="3.73" fill="#afcafc"/>
<rect x="354.99" y="22.45" width="3.02" height="3.73" fill="#cfdaea"/>
<rect x="372.80" y="22.45" width="3.02" height="3.73" fill="#e9d5cb"/>
<rect x="375.77" y="22.45" width="3.02" height="3.73" fill="#cfdaea"/>
<rect x="378.73" y="22.45" width="3.02" height="3.73" fill="#e9d5cb"/>
<rect x="381.70" y="22.45" width="5.98" height="3.73" fill="#f6bda2"/>
<rect x="387.64" y="22.45" width="5.98" height="3.73" fill="#e9d5cb"/>
<rect x="396.54" y="22.45" width="8.95" height="3.73" fill="#e9d5cb"/>
<rect x="408.41" y="22.45" width="3.02" height="3.73" fill="#cfdaea"/>
<rect x="414.34" y="22.45" width="3.02" height="3.73" fill="#e9d5cb"/>
<rect x="417.31" y="22.45" width="3.02" height="3.73" fill="#f6bda2"/>
<rect x="420.28" y="22.45" width="5.98" height="3.73" fill="#f7ac8e"/>
<rect x="429.18" y="22.45" width="5.98" height="3.73" fill="#afcafc"/>
<rect x="435.12" y="22.45" width="3.02" height="3.73" fill="#cfdaea"/>
<rect x="438.08" y="22.45" width="3.02" height="3.73" fill="#9ebeff"/>
<rect x="245.20" y="26.13" width="3.02" height="3.73" fill="#cfdaea"/>
<rect x="248.17" y="26.13" width="3.02" height="3.73" fill="#afcafc"/>
<rect x="251.13" y="26.13" width="3.02" height="3.73" fill="#e9d5cb"/>
<rect x="254.10" y="26.13" width="5.98" height="3.73" fill="#f2cbb7"/>
<rect x="260.04" y="26.13" width="3.02" height="3.73" fill="#e9d5cb"/>
<rect x="268.94" y="26.13" width="8.95" height="3.73" fill="#e9d5cb"/>
<rect x="289.71" y="26.13" width="3.02" height="3.73" fill="#cfdaea"/>
<rect x="292.68" y="26.13" width="3.02" height="3.73" fill="#afcafc"/>
<rect x="295.65" y="26.13" width="3.02" height="3.73" fill="#cfdaea"/>
<rect x="310.48" y="26.13" width="5.98" height="3.73" fill="#e9d5cb"/>
<rect x="322.35" y="26.13" width="3.02" height="3.73" fill="#e9d5cb"/>
<rect x="325.32" y="26.13" width="5.98" height="3.73" fill="#f2cbb7"/>
<rect x="331.26" y="26.13" width="3.02" height="3.73" fill="#e9d5cb"/>
<rect x="337.19" y="26.13" width="5.98" height="3.73" fill="#e9d5cb"/>
<rect x="346.09" y="26.13" width="3.02" height="3.73" fill="#cfdaea"/>
<rect x="349.06" y="26.13" width="5.98" height="3.73" fill="#9ebeff"/>
<rect x="354.99" y="26.13" width="3.02" height="3.73" fill="#cfdaea"/>
<rect x="357.96" y="26.13" width="3.02" height="3.73" fill="#e9d5cb"/>
<rect x="369.83" y="26.13" width="3.02" height="3.73" fill="#e9d5cb"/>
<rect x="375.77" y="26.13" width="3.02" height="3.73" fill="#cfdaea"/>
<rect x="378.73" y="26.13" width="3.02" height="3.73" fill="#e9d5cb"/>
<rect x="381.70" y="26.13" width="5.98" height="3.73" fill="#f6bda2"/>
<rect x="387.64" y="26.13" width="3.02" height="3.73" fill="#e9d5cb"/>
<rect x="393.57" y="26.13" width="3.02" height="3.73" fill="#e9d5cb"/>
<rect x="396.54" y="26.13" width="3.02" height="3.73" fill="#f6bda2"/>
<rect x="399.51" y="26.13" width="3.02" height="3.73" fill="#e9d5cb"/>
<rect x="408.41" y="26.13" width="3.02" height="3.73" fill="#cfdaea"/>
<rect x="414.34" y="26.13" width="3.02" height="3.73" fill="#e9d5cb"/>
<rect x="417.31" y="26.13" width="3.02" height="3.73" fill="#f6bda2"/>
<rect x="420.28" y="26.13" width="5.98" height="3.73" fill="#f7ac8e"/>
<rect x="426.21" y="26.13" width="3.02" height="3.73" fill="#e9d5cb"/>
<rect x="429.18" y="26.13" width="5.98" height="3.73" fill="#9ebeff"/>
<rect x="435.12" y="26.13" width="3.02" height="3.73" fill="#afcafc"/>
<rect x="438.08" y="26.13" width="3.02" height="3.73" fill="#cfdaea"/>
<rect x="248.17" y="29.81" width="3.02" height="3.73" fill="#cfdaea"/>
<rect x="254.10" y="29.81" width="5.98" height="3.73" fill="#e9d5cb"/>
<rect x="260.04" y="29.81" width="3.02" height="3.73" fill="#f2cbb7"/>
<rect x="263.00" y="29.81" width="3.02" height="3.73" fill="#e9d5cb"/>
<rect x="274.87" y="29.81" width="11.92" height="3.73" fill="#cfdaea"/>
<rect x="289.71" y="29.81" width="3.02" height="3.73" fill="#cfdaea"/>
<rect x="292.68" y="29.81" width="5.98" height="3.73" fill="#afcafc"/>
<rect x="298.61" y="29.81" width="3.02" height="3.73" fill="#cfdaea"/>
<rect x="304.55" y="29.81" width="5.98" height="3.73" fill="#e9d5cb"/>
<rect x="310.48" y="29.81" width="5.98" height="3.73" fill="#f2cbb7"/>
<rect x="316.42" y="29.81" width="3.02" height="3.73" fill="#e9d5cb"/>
<rect x="325.32" y="29.81" width="3.02" height="3.73" fill="#f2cbb7"/>
<rect x="328.29" y="29.81" width="3.02" height="3.73" fill="#e9d5cb"/>
<rect x="334.22" y="29.81" width="3.02" height="3.73" fill="#e9d5cb"/>
<rect x="337.19" y="29.81" width="5.98" height="3.73" fill="#f2cbb7"/>
<rect x="343.12" y="29.81" width="3.02" height="3.73" fill="#e9d5cb"/>
<rect x="346.09" y="29.81" width="3.02" height="3.73" fill="#cfdaea"/>
<rect x="349.06" y="29.81" width="5.98" height="3.73" fill="#9ebeff"/>
<rect x="354.99" y="29.81" width="3.02" height="3.73" fill="#cfdaea"/>
<rect x="357.96" y="29.81" width="3.02" height="3.73" fill="#e9d5cb"/>
<rect x="366.86" y="29.81" width="3.02" height="3.73" fill="#e9d5cb"/>
<rect x="369.83" y="29.81" width="3.02" height="3.73" fill="#f2cbb7"/>
<rect x="372.80" y="29.81" width="3.02" height="3.73" fill="#e9d5cb"/>
<rect x="378.73" y="29.81" width="3.02" height="3.73" fill="#e9d5cb"/>
<rect x="381.70" y="29.81" width="3.02" height="3.73" fill="#f6bda2"/>
<rect x="384.67" y="29.81" width="3.02" height="3.73" fill="#f7ac8e"/>
<rect x="387.64" y="29.81" width="3.02" height="3.73" fill="#f6bda2"/>
<rect x="390.60" y="29.81" width="3.02" height="3.73" fill="#e9d5cb"/>
<rect x="393.57" y="29.81" width="3.02" height="3.73" fill="#f6bda2"/>
<rect x="396.54" y="29.81" width="3.02" height="3.73" fill="#f7ac8e"/>
<rect x="399.51" y="29.81" width="3.02" height="3.73" fill="#f6bda2"/>
<rect x="402.47" y="29.81" width="3.02" height="3.73" fill="#e9d5cb"/>
<rect x="408.41" y="29.81" width="3.02" height="3.73" fill="#cfdaea"/>
<rect x="414.34" y="29.81" width="3.02" height="3.73" fill="#e9d5cb"/>
<rect x="417.31" y="29.81" width="5.98" height="3.73" fill="#f6bda2"/>
<rect x="423.25" y="29.81" width="3.02" height="3.73" fill="#f7ac8e"/>
<rect x="426.21" y="29.81" width="3.02" height="3.73" fill="#e9d5cb"/>
<rect x="429.18" y="29.81" width="3.02" height="3.73" fill="#cfdaea"/>
<rect x="432.15" y="29.81" width="3.02" height="3.73" fill="#afcafc"/>
<rect x="435.12" y="29.81" width="3.02" height="3.73" fill="#cfdaea"/>
<rect x="245.20" y="33.49" width="3.02" height="3.73" fill="#e9d5cb"/>
<rect x="248.17" y="33.49" width="8.95" height="3.73" fill="#cfdaea"/>
<rect x="257.07" y="33.49" width="3.02" height="3.73" fill="#e9d5cb"/>
<rect x="260.04" y="33.49" width="5.98" height="3.73" fill="#f2cbb7"/>
<rect x="265.97" y="33.49" width="3.02" height="3.73" fill="#e9d5cb"/>
<rect x="271.91" y="33.49" width="3.02" height="3.73" fill="#cfdaea"/>
<rect x="274.87" y="33.49" width="8.95" height="3.73" fill="#afcafc"/>
<rect x="283.78" y="33.49" width="5.98" height="3.73" fill="#cfdaea"/>
<rect x="292.68" y="33.49" width="3.02" height="3.73" fill="#cfdaea"/>
<rect x="295.65" y="33.49" width="3.02" height="3.73" fill="#afcafc"/>
<rect x="298.61" y="33.49" width="3.02" height="3.73" fill="#cfdaea"/>
<rect x="304.55" y="33.49" width="3.02" height="3.73" fill="#e9d5cb"/>
<rect x="307.52" y="33.49" width="3.02" height="3.73" fill="#f2cbb7"/>
<rect x="310.48" y="33.49" width="8.95" height="3.73" fill="#e9d5cb"/>
<rect x="319.39" y="33.49" width="3.02" height="3.73" fill="#cfdaea"/>
<rect x="322.35" y="33.49" width="3.02" height="3.73" fill="#afcafc"/>
<rect x="328.29" y="33.49" width="5.98" height="3.73" fill="#e9d5cb"/>
<rect x="334.22" y="33.49" width="5.98" height="3.73" fill="#f2cbb7"/>
<rect x="340.16" y="33.49" width="3.02" height="3.73" fill="#e9d5cb"/>
<rect x="346.09" y="33.49" width="3.02" height="3.73" fill="#cfdaea"/>
<rect x="349.06" y="33.49" width="3.02" height="3.73" fill="#9ebeff"/>
<rect x="352.03" y="33.49" width="3.02" height="3.73" fill="#afcafc"/>
<rect x="354.99" y="33.49" width="3.02" height="3.73" fill="#cfdaea"/>
<rect x="369.83" y="33.49" width="3.02" height="3.73" fill="#e9d5cb"/>
<rect x="378.73" y="33.49" width="3.02" height="3.73" fill="#e9d5cb"/>
<rect x="381.70" y="33.49" width="5.98" height="3.73" fill="#f6bda2"/>
<rect x="387.64" y="33.49" width="5.98" height="3.73" fill="#e9d5cb"/>
<rect x="393.57" y="33.49" width="3.02" height="3.73" fill="#f6bda2"/>
<rect x="396.54" y="33.49" width="3.02" height="3.73" fill="#f7ac8e"/>
<rect x="399.51" y="33.49" width="3.02" height="3.73" fill="#f6bda2"/>
<rect x="402.47" y="33.49" width="3.02" height="3.73" fill="#e9d5cb"/>
<rect x="405.44" y="33.49" width="5.98" height="3.73" fill="#cfdaea"/>
<rect x="414.34" y="33.49" width="3.02" height="3.73" fill="#e9d5cb"/>
<rect x="417.31" y="33.49" width="8.95" height="3.73" fill="#f6bda2"/>
<rect x="426.21" y="33.49" width="3.02" height="3.73" fill="#e9d5cb"/>
<rect x="432.15" y="33.49" width="3.02" height="3.73" fill="#cfdaea"/>
<rect x="245.20" y="37.17" width="3.02" height="3.73" fill="#f2cbb7"/>
<rect x="248.17" y="37.17" width="5.98" height="3.73" fill="#9ebeff"/>
<rect x="254.10" y="37.17" width="3.02" height="3.73" fill="#afcafc"/>
<rect x="257.07" y="37.17" width="3.02" height="3.73" fill="#cfdaea"/>
<rect x="260.04" y="37.17" width="3.02" height="3.73" fill="#e9d5cb"/>
<rect x="263.00" y="37.17" width="3.02" height="3.73" fill="#f2cbb7"/>
<rect x="265.97" y="37.17" width="3.02" height="3.73" fill="#e9d5cb"/>
<rect x="271.91" y="37.17" width="3.02" height="3.73" fill="#cfdaea"/>
<rect x="274.87" y="37.17" width="5.98" height="3.73" fill="#9ebeff"/>
<rect x="280.81" y="37.17" width="5.98" height="3.73" fill="#afcafc"/>
<rect x="286.74" y="37.17" width="3.02" height="3.73" fill="#9ebeff"/>
<rect x="289.71" y="37.17" width="8.95" height="3.73" fill="#cfdaea"/>
<rect x="301.58" y="37.17" width="3.02" height="3.73" fill="#e9d5cb"/>
<rect x="304.55" y="37.17" width="5.98" height="3.73" fill="#f2cbb7"/>
<rect x="310.48" y="37.17" width="8.95" height="3.73" fill="#e9d5cb"/>
<rect x="319.39" y="37.17" width="3.02" height="3.73" fill="#cfdaea"/>
<rect x="322.35" y="37.17" width="3.02" height="3.73" fill="#afcafc"/>
<rect x="325.32" y="37.17" width="3.02" height="3.73" fill="#cfdaea"/>
<rect x="331.26" y="37.17" width="3.02" height="3.73" fill="#e9d5cb"/>
<rect x="334.22" y="37.17" width="3.02" height="3.73" fill="#f2cbb7"/>
<rect x="337.19" y="37.17" width="3.02" height="3.73" fill="#f6bda2"/>
<rect x="340.16" y="37.17" width="3.02" height="3.73" fill="#f2cbb7"/>
<rect x="343.12" y="37.17" width="5.98" height="3.73" fill="#e9d5cb"/>
<rect x="349.06" y="37.17" width="3.02" height="3.73" fill="#cfdaea"/>
<rect x="354.99" y="37.17" width="5.98" height="3.73" fill="#e9d5cb"/>
<rect x="369.83" y="37.17" width="3.02" height="3.73" fill="#e9d5cb"/>
<rect x="372.80" y="37.17" width="3.02" height="3.73" fill="#cfdaea"/>
<rect x="378.73" y="37.17" width="3.02" height="3.73" fill="#e9d5cb"/>
<rect x="381.70" y="37.17" width="5.98" height="3.73" fill="#f6bda2"/>
<rect x="387.64" y="37.17" width="5.98" height="3.73" fill="#e9d5cb"/>
<rect x="393.57" y="37.17" width="3.02" height="3.73" fill="#f6bda2"/>
<rect x="396.54" y="37.17" width="3.02" height="3.73" fill="#f4987a"/>
<rect x="399.51" y="37.17" width="3.02" height="3.73" fill="#f7ac8e"/>
<rect x="402.47" y="37.17" width="3.02" height="3.73" fill="#e9d5cb"/>
<rect x="405.44" y="37.17" width="5.98" height="3.73" fill="#cfdaea"/>
<rect x="414.34" y="37.17" width="3.02" height="3.73" fill="#e9d5cb"/>
<rect x="417.31" y="37.17" width="5.98" height="3.73" fill="#f6bda2"/>
<rect x="423.25" y="37.17" width="3.02" height="3.73" fill="#e9d5cb"/>
<rect x="438.08" y="37.17" width="3.02" height="3.73" fill="#e9d5cb"/>
<rect x="245.20" y="40.85" width="3.02" height="3.73" fill="#f7ac8e"/>
<rect x="248.17" y="40.85" width="3.02" height="3.73" fill="#afcafc"/>
<rect x="251.13" y="40.85" width="3.02" height="3.73" fill="#9ebeff"/>
<rect x="254.10" y="40.85" width="3.02" height="3.73" fill="#afcafc"/>
<rect x="257.07" y="40.85" width="3.02" height="3.73" fill="#cfdaea"/>
<rect x="260.04" y="40.85" width="5.98" height="3.73" fill="#e9d5cb"/>
<rect x="271.91" y="40.85" width="3.02" height="3.73" fill="#cfdaea"/>
<rect x="274.87" y="40.85" width="5.98" height="3.73" fill="#9ebeff"/>
<rect x="280.81" y="40.85" width="3.02" height="3.73" fill="#cfdaea"/>
<rect x="283.78" y="40.85" width="3.02" height="3.73" fill="#afcafc"/>
<rect x="286.74" y="40.85" width="3.02" height="3.73" fill="#9ebeff"/>
<rect x="289.71" y="40.85" width="3.02" height="3.73" fill="#afcafc"/>
<rect x="292.68" y="40.85" width="3.02" height="3.73" fill="#cfdaea"/>
<rect x="298.61" y="40.85" width="5.98" height="3.73" fill="#e9d5cb"/>
<rect x="304.55" y="40.85" width="5.98" height="3.73" fill="#f2cbb7"/>
<rect x="310.48" y="40.85" width="3.02" height="3.73" fill="#e9d5cb"/>
<rect x="313.45" y="40.85" width="5.98" height="3.73" fill="#cfdaea"/>
<rect x="322.35" y="40.85" width="3.02" height="3.73" fill="#cfdaea"/>
<rect x="328.29" y="40.85" width="3.02" height="3.73" fill="#cfdaea"/>
<rect x="334.22" y="40.85" width="3.02" height="3.73" fill="#e9d5cb"/>
<rect x="337.19" y="40.85" width="3.02" height="3.73" fill="#f6bda2"/>
<rect x="340.16" y="40.85" width="3.02" height="3.73" fill="#f2cbb7"/>
<rect x="343.12" y="40.85" width="8.95" height="3.73" fill="#f6bda2"/>
<rect x="352.03" y="40.85" width="5.98" height="3.73" fill="#f2cbb7"/>
<rect x="357.96" y="40.85" width="3.02" height="3.73" fill="#f6bda2"/>
<rect x="360.93" y="40.85" width="8.95" height="3.73" fill="#cfdaea"/>
<rect x="369.83" y="40.85" width="5.98" height="3.73" fill="#f2cbb7"/>
<rect x="375.77" y="40.85" width="3.02" height="3.73" fill="#e9d5cb"/>
<rect x="378.73" y="40.85" width="3.02" height="3.73" fill="#cfdaea"/>
<rect x="381.70" y="40.85" width="3.02" height="3.73" fill="#e9d5cb"/>
<rect x="384.67" y="40.85" width="3.02" height="3.73" fill="#f6bda2"/>
<rect x="387.64" y="40.85" width="5.98" height="3.73" fill="#e9d5cb"/>
<rect x="393.57" y="40.85" width="3.02" height="3.73" fill="#f6bda2"/>
<rect x="396.54" y="40.85" width="3.02" height="3.73" fill="#f4987a"/>
<rect x="399.51" y="40.85" width="3.02" height="3.73" fill="#f7ac8e"/>
<rect x="402.47" y="40.85" width="3.02" height="3.73" fill="#e9d5cb"/>
<rect x="408.41" y="40.85" width="3.02" height="3.73" fill="#cfdaea"/>
<rect x="414.34" y="40.85" width="3.02" height="3.73" fill="#e9d5cb"/>
<rect x="417.31" y="40.85" width="3.02" height="3.73" fill="#f7ac8e"/>
<rect x="420.28" y="40.85" width="3.02" height="3.73" fill="#f6bda2"/>
<rect x="423.25" y="40.85" width="3.02" height="3.73" fill="#e9d5cb"/>
<rect x="435.12" y="40.85" width="3.02" height="3.73" fill="#cfdaea"/>
<rect x="438.08" y="40.85" width="3.02" height="3.73" fill="#e9d5cb"/>
<rect x="245.20" y="44.53" width="3.02" height="3.73" fill="#f6bda2"/>
<rect x="248.17" y="44.53" width="3.02" height="3.73" fill="#e9d5cb"/>
<rect x="251.13" y="44.53" width="3.02" height="3.73" fill="#afcafc"/>
<rect x="254.10" y="44.53" width="5.98" height="3.73" fill="#e9d5cb"/>
<rect x="263.00" y="44.53" width="5.98" height="3.73" fill="#cfdaea"/>
<rect x="271.91" y="44.53" width="3.02" height="3.73" fill="#cfdaea"/>
<rect x="274.87" y="44.53" width="5.98" height="3.73" fill="#afcafc"/>
<rect x="280.81" y="44.53" width="3.02" height="3.73" fill="#cfdaea"/>
<rect x="283.78" y="44.53" width="3.02" height="3.73" fill="#afcafc"/>
<rect x="286.74" y="44.53" width="3.02" height="3.73" fill="#9ebeff"/>
<rect x="289.71" y="44.53" width="3.02" height="3.73" fill="#afcafc"/>
<rect x="292.68" y="44.53" width="3.02" height="3.73" fill="#cfdaea"/>
<rect x="295.65" y="44.53" width="3.02" height="3.73" fill="#e9d5cb"/>
<rect x="298.61" y="44.53" width="3.02" height="3.73" fill="#f2cbb7"/>
<rect x="301.58" y="44.53" width="8.95" height="3.73" fill="#e9d5cb"/>
<rect x="310.48" y="44.53" width="3.02" height="3.73" fill="#cfdaea"/>
<rect x="313.45" y="44.53" width="5.98" height="3.73" fill="#afcafc"/>
<rect x="319.39" y="44.53" width="3.02" height="3.73" fill="#cfdaea"/>
<rect x="322.35" y="44.53" width="3.02" height="3.73" fill="#e9d5cb"/>
<rect x="331.26" y="44.53" width="3.02" height="3.73" fill="#e9d5cb"/>
<rect x="334.22" y="44.53" width="3.02" height="3.73" fill="#f2cbb7"/>
<rect x="337.19" y="44.53" width="3.02" height="3.73" fill="#f6bda2"/>
<rect x="340.16" y="44.53" width="3.02" height="3.73" fill="#f2cbb7"/>
<rect x="343.12" y="44.53" width="5.98" height="3.73" fill="#f6bda2"/>
<rect x="349.06" y="44.53" width="5.98" height="3.73" fill="#f2cbb7"/>
<rect x="354.99" y="44.53" width="3.02" height="3.73" fill="#e9d5cb"/>
<rect x="360.93" y="44.53" width="5.98" height="3.73" fill="#afcafc"/>
<rect x="369.83" y="44.53" width="5.98" height="3.73" fill="#f2cbb7"/>
<rect x="375.77" y="44.53" width="5.98" height="3.73" fill="#cfdaea"/>
<rect x="381.70" y="44.53" width="3.02" height="3.73" fill="#e9d5cb"/>
<rect x="384.67" y="44.53" width="3.02" height="3.73" fill="#f6bda2"/>
<rect x="387.64" y="44.53" width="5.98" height="3.73" fill="#e9d5cb"/>
<rect x="393.57" y="44.53" width="3.02" height="3.73" fill="#f6bda2"/>
<rect x="396.54" y="44.53" width="3.02" height="3.73" fill="#f7ac8e"/>
<rect x="399.51" y="44.53" width="5.98" height="3.73" fill="#f6bda2"/>
<rect x="405.44" y="44.53" width="3.02" height="3.73" fill="#e9d5cb"/>
<rect x="408.41" y="44.53" width="3.02" height="3.73" fill="#cfdaea"/>
<rect x="411.38" y="44.53" width="3.02" height="3.73" fill="#e9d5cb"/>
<rect x="414.34" y="44.53" width="3.02" height="3.73" fill="#f6bda2"/>
<rect x="417.31" y="44.53" width="3.02" height="3.73" fill="#f7ac8e"/>
<rect x="420.28" y="44.53" width="3.02" height="3.73" fill="#f6bda2"/>
<rect x="423.25" y="44.53" width="3.02" height="3.73" fill="#e9d5cb"/>
<rect x="435.12" y="44.53" width="3.02" height="3.73" fill="#cfdaea"/>
<rect x="245.20" y="48.20" width="3.02" height="3.73" fill="#f6bda2"/>
<rect x="248.17" y="48.20" width="3.02" height="3.73" fill="#f2cbb7"/>
<rect x="254.10" y="48.20" width="3.02" height="3.73" fill="#e9d5cb"/>
<rect x="257.07" y="48.20" width="3.02" height="3.73" fill="#f2cbb7"/>
<rect x="263.00" y="48.20" width="5.98" height="3.73" fill="#afcafc"/>
<rect x="268.94" y="48.20" width="3.02" height="3.73" fill="#cfdaea"/>
<rect x="274.87" y="48.20" width="3.02" height="3.73" fill="#cfdaea"/>
<rect x="277.84" y="48.20" width="5.98" height="3.73" fill="#afcafc"/>
<rect x="283.78" y="48.20" width="8.95" height="3.73" fill="#cfdaea"/>
<rect x="292.68" y="48.20" width="3.02" height="3.73" fill="#e9d5cb"/>
<rect x="295.65" y="48.20" width="5.98" height="3.73" fill="#f2cbb7"/>
<rect x="301.58" y="48.20" width="3.02" height="3.73" fill="#e9d5cb"/>
<rect x="307.52" y="48.20" width="3.02" height="3.73" fill="#e9d5cb"/>
<rect x="310.48" y="48.20" width="3.02" height="3.73" fill="#cfdaea"/>
<rect x="313.45" y="48.20" width="5.98" height="3.73" fill="#afcafc"/>
<rect x="322.35" y="48.20" width="3.02" height="3.73" fill="#f2cbb7"/>
<rect x="325.32" y="48.20" width="3.02" height="3.73" fill="#e9d5cb"/>
<rect x="334.22" y="48.20" width="3.02" height="3.73" fill="#e9d5cb"/>
<rect x="337.19" y="48.20" width="5.98" height="3.73" fill="#f6bda2"/>
<rect x="343.12" y="48.20" width="3.02" height="3.73" fill="#f2cbb7"/>
<rect x="346.09" y="48.20" width="8.95" height="3.73" fill="#e9d5cb"/>
<rect x="357.96" y="48.20" width="3.02" height="3.73" fill="#cfdaea"/>
<rect x="360.93" y="48.20" width="3.02" height="3.73" fill="#afcafc"/>
<rect x="363.90" y="48.20" width="3.02" height="3.73" fill="#9ebeff"/>
<rect x="369.83" y="48.20" width="3.02" height="3.73" fill="#f2cbb7"/>
<rect x="372.80" y="48.20" width="3.02" height="3.73" fill="#f6bda2"/>
<rect x="375.77" y="48.20" width="3.02" height="3.73" fill="#e9d5cb"/>
<rect x="381.70" y="48.20" width="3.02" height="3.73" fill="#e9d5cb"/>
<rect x="384.67" y="48.20" width="3.02" height="3.73" fill="#f6bda2"/>
<rect x="387.64" y="48.20" width="3.02" height="3.73" fill="#e9d5cb"/>
<rect x="393.57" y="48.20" width="5.98" height="3.73" fill="#f6bda2"/>
<rect x="399.51" y="48.20" width="3.02" height="3.73" fill="#f7ac8e"/>
<rect x="402.47" y="48.20" width="3.02" height="3.73" fill="#f6bda2"/>
<rect x="405.44" y="48.20" width="3.02" height="3.73" fill="#cfdaea"/>
<rect x="411.38" y="48.20" width="3.02" height="3.73" fill="#e9d5cb"/>
<rect x="414.34" y="48.20" width="3.02" height="3.73" fill="#f6bda2"/>
<rect x="417.31" y="48.20" width="3.02" height="3.73" fill="#f7ac8e"/>
<rect x="420.28" y="48.20" width="3.02" height="3.73" fill="#e9d5cb"/>
<rect x="429.18" y="48.20" width="3.02" height="3.73" fill="#cfdaea"/>
<rect x="432.15" y="48.20" width="5.98" height="3.73" fill="#e9d5cb"/>
<rect x="438.08" y="48.20" width="3.02" height="3.73" fill="#cfdaea"/>
<rect x="245.20" y="51.88" width="3.02" height="3.73" fill="#f2cbb7"/>
<rect x="248.17" y="51.88" width="3.02" height="3.73" fill="#f6bda2"/>
<rect x="251.13" y="51.88" width="5.98" height="3.73" fill="#e9d5cb"/>
<rect x="257.07" y="51.88" width="3.02" height="3.73" fill="#f2cbb7"/>
<rect x="263.00" y="51.88" width="3.02" height="3.73" fill="#afcafc"/>
<rect x="265.97" y="51.88" width="3.02" height="3.73" fill="#cfdaea"/>
<rect x="274.87" y="51.88" width="3.02" height="3.73" fill="#cfdaea"/>
<rect x="277.84" y="51.88" width="3.02" height="3.73" fill="#afcafc"/>
<rect x="280.81" y="51.88" width="3.02" height="3.73" fill="#9ebeff"/>
<rect x="283.78" y="51.88" width="3.02" height="3.73" fill="#cfdaea"/>
<rect x="289.71" y="51.88" width="3.02" height="3.73" fill="#e9d5cb"/>
<rect x="292.68" y="51.88" width="3.02" height="3.73" fill="#f2cbb7"/>
<rect x="295.65" y="51.88" width="3.02" height="3.73" fill="#f6bda2"/>
<rect x="298.61" y="51.88" width="3.02" height="3.73" fill="#e9d5cb"/>
<rect x="310.48" y="51.88" width="3.02" height="3.73" fill="#e9d5cb"/>
<rect x="313.45" y="51.88" width="5.98" height="3.73" fill="#afcafc"/>
<rect x="322.35" y="51.88" width="3.02" height="3.73" fill="#f2cbb7"/>
<rect x="325.32" y="51.88" width="3.02" height="3.73" fill="#e9d5cb"/>
<rect x="334.22" y="51.88" width="3.02" height="3.73" fill="#e9d5cb"/>
<rect x="337.19" y="51.88" width="3.02" height="3.73" fill="#f2cbb7"/>
<rect x="340.16" y="51.88" width="3.02" height="3.73" fill="#e9d5cb"/>
<rect x="343.12" y="51.88" width="5.98" height="3.73" fill="#cfdaea"/>
<rect x="354.99" y="51.88" width="11.92" height="3.73" fill="#cfdaea"/>
<rect x="366.86" y="51.88" width="3.02" height="3.73" fill="#e9d5cb"/>
<rect x="369.83" y="51.88" width="3.02" height="3.73" fill="#f2cbb7"/>
<rect x="372.80" y="51.88" width="3.02" height="3.73" fill="#f6bda2"/>
<rect x="375.77" y="51.88" width="3.02" height="3.73" fill="#e9d5cb"/>
<rect x="381.70" y="51.88" width="5.98" height="3.73" fill="#e9d5cb"/>
<rect x="387.64" y="51.88" width="3.02" height="3.73" fill="#cfdaea"/>
<rect x="390.60" y="51.88" width="5.98" height="3.73" fill="#afcafc"/>
<rect x="396.54" y="51.88" width="3.02" height="3.73" fill="#e9d5cb"/>
<rect x="399.51" y="51.88" width="5.98" height="3.73" fill="#f6bda2"/>
<rect x="405.44" y="51.88" width="3.02" height="3.73" fill="#e9d5cb"/>
<rect x="414.34" y="51.88" width="3.02" height="3.73" fill="#e9d5cb"/>
<rect x="417.31" y="51.88" width="3.02" height="3.73" fill="#f6bda2"/>
<rect x="420.28" y="51.88" width="3.02" height="3.73" fill="#e9d5cb"/>
<rect x="426.21" y="51.88" width="3.02" height="3.73" fill="#cfdaea"/>
<rect x="435.12" y="51.88" width="3.02" height="3.73" fill="#cfdaea"/>
<rect x="438.08" y="51.88" width="3.02" height="3.73" fill="#afcafc"/>
<rect x="245.20" y="55.56" width="3.02" height="3.73" fill="#e9d5cb"/>
<rect x="248.17" y="55.56" width="3.02" height="3.73" fill="#f6bda2"/>
<rect x="251.13" y="55.56" width="3.02" height="3.73" fill="#f2cbb7"/>
<rect x="254.10" y="55.56" width="5.98" height="3.73" fill="#e9d5cb"/>
<rect x="263.00" y="55.56" width="5.98" height="3.73" fill="#cfdaea"/>
<rect x="274.87" y="55.56" width="3.02" height="3.73" fill="#e9d5cb"/>
<rect x="277.84" y="55.56" width="5.98" height="3.73" fill="#cfdaea"/>
<rect x="289.71" y="55.56" width="3.02" height="3.73" fill="#e9d5cb"/>
<rect x="292.68" y="55.56" width="3.02" height="3.73" fill="#f2cbb7"/>
<rect x="295.65" y="55.56" width="3.02" height="3.73" fill="#f6bda2"/>
<rect x="298.61" y="55.56" width="3.02" height="3.73" fill="#f2cbb7"/>
<rect x="301.58" y="55.56" width="3.02" height="3.73" fill="#e9d5cb"/>
<rect x="313.45" y="55.56" width="5.98" height="3.73" fill="#cfdaea"/>
<rect x="322.35" y="55.56" width="3.02" height="3.73" fill="#e9d5cb"/>
<rect x="325.32" y="55.56" width="3.02" height="3.73" fill="#cfdaea"/>
<rect x="331.26" y="55.56" width="3.02" height="3.73" fill="#e9d5cb"/>
<rect x="337.19" y="55.56" width="5.98" height="3.73" fill="#e9d5cb"/>
<rect x="346.09" y="55.56" width="3.02" height="3.73" fill="#cfdaea"/>
<rect x="366.86" y="55.56" width="3.02" height="3.73" fill="#e9d5cb"/>
<rect x="369.83" y="55.56" width="3.02" height="3.73" fill="#f2cbb7"/>
<rect x="372.80" y="55.56" width="3.02" height="3.73" fill="#e9d5cb"/>
<rect x="378.73" y="55.56" width="3.02" height="3.73" fill="#e9d5cb"/>
<rect x="381.70" y="55.56" width="3.02" height="3.73" fill="#f6bda2"/>
<rect x="384.67" y="55.56" width="3.02" height="3.73" fill="#e9d5cb"/>
<rect x="387.64" y="55.56" width="3.02" height="3.73" fill="#cfdaea"/>
<rect x="390.60" y="55.56" width="3.02" height="3.73" fill="#afcafc"/>
<rect x="393.57" y="55.56" width="3.02" height="3.73" fill="#9ebeff"/>
<rect x="396.54" y="55.56" width="8.95" height="3.73" fill="#e9d5cb"/>
<rect x="417.31" y="55.56" width="3.02" height="3.73" fill="#e9d5cb"/>
<rect x="432.15" y="55.56" width="3.02" height="3.73" fill="#cfdaea"/>
<rect x="435.12" y="55.56" width="3.02" height="3.73" fill="#afcafc"/>
<rect x="438.08" y="55.56" width="3.02" height="3.73" fill="#9ebeff"/>
<rect x="248.17" y="59.24" width="5.98" height="3.73" fill="#e9d5cb"/>
<rect x="254.10" y="59.24" width="3.02" height="3.73" fill="#cfdaea"/>
<rect x="265.97" y="59.24" width="5.98" height="3.73" fill="#cfdaea"/>
<rect x="280.81" y="59.24" width="20.82" height="3.73" fill="#e9d5cb"/>
<rect x="310.48" y="59.24" width="3.02" height="3.73" fill="#cfdaea"/>
<rect x="325.32" y="59.24" width="3.02" height="3.73" fill="#cfdaea"/>
<rect x="337.19" y="59.24" width="5.98" height="3.73" fill="#e9d5cb"/>
<rect x="346.09" y="59.24" width="3.02" height="3.73" fill="#cfdaea"/>
<rect x="352.03" y="59.24" width="3.02" height="3.73" fill="#cfdaea"/>
<rect x="360.93" y="59.24" width="5.98" height="3.73" fill="#e9d5cb"/>
<rect x="369.83" y="59.24" width="3.02" height="3.73" fill="#e9d5cb"/>
<rect x="372.80" y="59.24" width="3.02" height="3.73" fill="#cfdaea"/>
<rect x="375.77" y="59.24" width="3.02" height="3.73" fill="#e9d5cb"/>
<rect x="378.73" y="59.24" width="5.98" height="3.73" fill="#f6bda2"/>
<rect x="384.67" y="59.24" width="3.02" height="3.73" fill="#e9d5cb"/>
<rect x="387.64" y="59.24" width="3.02" height="3.73" fill="#cfdaea"/>
<rect x="390.60" y="59.24" width="3.02" height="3.73" fill="#afcafc"/>
<rect x="393.57" y="59.24" width="3.02" height="3.73" fill="#cfdaea"/>
<rect x="396.54" y="59.24" width="3.02" height="3.73" fill="#f6bda2"/>
<rect x="399.51" y="59.24" width="3.02" height="3.73" fill="#f7ac8e"/>
<rect x="402.47" y="59.24" width="3.02" height="3.73" fill="#e9d5cb"/>
<rect x="411.38" y="59.24" width="3.02" height="3.73" fill="#e9d5cb"/>
<rect x="432.15" y="59.24" width="3.02" height="3.73" fill="#cfdaea"/>
<rect x="435.12" y="59.24" width="3.02" height="3.73" fill="#afcafc"/>
<rect x="438.08" y="59.24" width="3.02" height="3.73" fill="#9ebeff"/>
<rect x="245.20" y="62.92" width="3.02" height="3.73" fill="#cfdaea"/>
<rect x="251.13" y="62.92" width="3.02" height="3.73" fill="#cfdaea"/>
<rect x="254.10" y="62.92" width="3.02" height="3.73" fill="#afcafc"/>
<rect x="257.07" y="62.92" width="3.02" height="3.73" fill="#cfdaea"/>
<rect x="265.97" y="62.92" width="3.02" height="3.73" fill="#cfdaea"/>
<rect x="268.94" y="62.92" width="3.02" height="3.73" fill="#afcafc"/>
<rect x="271.91" y="62.92" width="3.02" height="3.73" fill="#cfdaea"/>
<rect x="277.84" y="62.92" width="3.02" height="3.73" fill="#e9d5cb"/>
<rect x="280.81" y="62.92" width="5.98" height="3.73" fill="#f2cbb7"/>
<rect x="286.74" y="62.92" width="3.02" height="3.73" fill="#f6bda2"/>
<rect x="289.71" y="62.92" width="3.02" height="3.73" fill="#e9d5cb"/>
<rect x="310.48" y="62.92" width="3.02" height="3.73" fill="#cfdaea"/>
<rect x="316.42" y="62.92" width="5.98" height="3.73" fill="#e9d5cb"/>
<rect x="325.32" y="62.92" width="3.02" height="3.73" fill="#cfdaea"/>
<rect x="337.19" y="62.92" width="5.98" height="3.73" fill="#e9d5cb"/>
<rect x="346.09" y="62.92" width="5.98" height="3.73" fill="#cfdaea"/>
<rect x="352.03" y="62.92" width="3.02" height="3.73" fill="#afcafc"/>
<rect x="354.99" y="62.92" width="3.02" height="3.73" fill="#cfdaea"/>
<rect x="360.93" y="62.92" width="5.98" height="3.73" fill="#e9d5cb"/>
<rect x="369.83" y="62.92" width="5.98" height="3.73" fill="#cfdaea"/>
<rect x="375.77" y="62.92" width="3.02" height="3.73" fill="#e9d5cb"/>
<rect x="378.73" y="62.92" width="3.02" height="3.73" fill="#f6bda2"/>
<rect x="381.70" y="62.92" width="3.02" height="3.73" fill="#e9d5cb"/>
<rect x="384.67" y="62.92" width="3.02" height="3.73" fill="#cfdaea"/>
<rect x="387.64" y="62.92" width="3.02" height="3.73" fill="#afcafc"/>
<rect x="390.60" y="62.92" width="3.02" height="3.73" fill="#cfdaea"/>
<rect x="393.57" y="62.92" width="3.02" height="3.73" fill="#e9d5cb"/>
<rect x="396.54" y="62.92" width="5.98" height="3.73" fill="#f7ac8e"/>
<rect x="402.47" y="62.92" width="3.02" height="3.73" fill="#f6bda2"/>
<rect x="405.44" y="62.92" width="3.02" height="3.73" fill="#e9d5cb"/>
<rect x="414.34" y="62.92" width="3.02" height="3.73" fill="#e9d5cb"/>
<rect x="429.18" y="62.92" width="5.98" height="3.73" fill="#e9d5cb"/>
<rect x="435.12" y="62.92" width="5.98" height="3.73" fill="#cfdaea"/>
<rect x="251.13" y="66.60" width="3.02" height="3.73" fill="#cfdaea"/>
<rect x="254.10" y="66.60" width="3.02" height="3.73" fill="#afcafc"/>
<rect x="257.07" y="66.60" width="3.02" height="3.73" fill="#cfdaea"/>
<rect x="263.00" y="66.60" width="3.02" height="3.73" fill="#e9d5cb"/>
<rect x="268.94" y="66.60" width="3.02" height="3.73" fill="#cfdaea"/>
<rect x="274.87" y="66.60" width="3.02" height="3.73" fill="#e9d5cb"/>
<rect x="277.84" y="66.60" width="3.02" height="3.73" fill="#f2cbb7"/>
<rect x="280.81" y="66.60" width="3.02" height="3.73" fill="#f6bda2"/>
<rect x="283.78" y="66.60" width="5.98" height="3.73" fill="#f2cbb7"/>
<rect x="289.71" y="66.60" width="3.02" height="3.73" fill="#e9d5cb"/>
<rect x="298.61" y="66.60" width="3.02" height="3.73" fill="#cfdaea"/>
<rect x="310.48" y="66.60" width="3.02" height="3.73" fill="#cfdaea"/>
<rect x="316.42" y="66.60" width="3.02" height="3.73" fill="#e9d5cb"/>
<rect x="319.39" y="66.60" width="3.02" height="3.73" fill="#f2cbb7"/>
<rect x="322.35" y="66.60" width="3.02" height="3.73" fill="#e9d5cb"/>
<rect x="334.22" y="66.60" width="3.02" height="3.73" fill="#e9d5cb"/>
<rect x="346.09" y="66.60" width="5.98" height="3.73" fill="#cfdaea"/>
<rect x="352.03" y="66.60" width="3.02" height="3.73" fill="#afcafc"/>
<rect x="354.99" y="66.60" width="3.02" height="3.73" fill="#cfdaea"/>
<rect x="366.86" y="66.60" width="5.98" height="3.73" fill="#cfdaea"/>
<rect x="378.73" y="66.60" width="3.02" height="3.73" fill="#cfdaea"/>
<rect x="384.67" y="66.60" width="3.02" height="3.73" fill="#cfdaea"/>
<rect x="387.64" y="66.60" width="3.02" height="3.73" fill="#afcafc"/>
<rect x="393.57" y="66.60" width="3.02" height="3.73" fill="#f7ac8e"/>
<rect x="396.54" y="66.60" width="3.02" height="3.73" fill="#f4987a"/>
<rect x="399.51" y="66.60" width="3.02" height="3.73" fill="#f7ac8e"/>
<rect x="402.47" y="66.60" width="3.02" height="3.73" fill="#e9d5cb"/>
<rect x="414.34" y="66.60" width="14.89" height="3.73" fill="#e9d5cb"/>
<rect x="429.18" y="66.60" width="3.02" height="3.73" fill="#f6bda2"/>
<rect x="432.15" y="66.60" width="3.02" height="3.73" fill="#f7ac8e"/>
<rect x="435.12" y="66.60" width="3.02" height="3.73" fill="#f6bda2"/>
<rect x="438.08" y="66.60" width="3.02" height="3.73" fill="#f7ac8e"/>
<rect x="245.20" y="70.28" width="3.02" height="3.73" fill="#e9d5cb"/>
<rect x="254.10" y="70.28" width="3.02" height="3.73" fill="#cfdaea"/>
<rect x="260.04" y="70.28" width="5.98" height="3.73" fill="#e9d5cb"/>
<rect x="271.91" y="70.28" width="3.02" height="3.73" fill="#e9d5cb"/>
<rect x="274.87" y="70.28" width="5.98" height="3.73" fill="#f2cbb7"/>
<rect x="280.81" y="70.28" width="8.95" height="3.73" fill="#e9d5cb"/>
<rect x="289.71" y="70.28" width="3.02" height="3.73" fill="#f2cbb7"/>
<rect x="292.68" y="70.28" width="3.02" height="3.73" fill="#e9d5cb"/>
<rect x="298.61" y="70.28" width="3.02" height="3.73" fill="#cfdaea"/>
<rect x="316.42" y="70.28" width="3.02" height="3.73" fill="#e9d5cb"/>
<rect x="319.39" y="70.28" width="3.02" height="3.73" fill="#f2cbb7"/>
<rect x="322.35" y="70.28" width="3.02" height="3.73" fill="#e9d5cb"/>
<rect x="340.16" y="70.28" width="3.02" height="3.73" fill="#cfdaea"/>
<rect x="352.03" y="70.28" width="3.02" height="3.73" fill="#cfdaea"/>
<rect x="360.93" y="70.28" width="5.98" height="3.73" fill="#cfdaea"/>
<rect x="372.80" y="70.28" width="8.95" height="3.73" fill="#cfdaea"/>
<rect x="384.67" y="70.28" width="5.98" height="3.73" fill="#cfdaea"/>
<rect x="390.60" y="70.28" width="3.02" height="3.73" fill="#e9d5cb"/>
<rect x="393.57" y="70.28" width="3.02" height="3.73" fill="#f7ac8e"/>
<rect x="396.54" y="70.28" width="3.02" height="3.73" fill="#f4987a"/>
<rect x="399.51" y="70.28" width="3.02" height="3.73" fill="#f7ac8e"/>
<rect x="402.47" y="70.28" width="3.02" height="3.73" fill="#e9d5cb"/>
<rect x="411.38" y="70.28" width="3.02" height="3.73" fill="#e9d5cb"/>
<rect x="414.34" y="70.28" width="5.98" height="3.73" fill="#f6bda2"/>
<rect x="420.28" y="70.28" width="3.02" height="3.73" fill="#e9d5cb"/>
<rect x="423.25" y="70.28" width="8.95" height="3.73" fill="#f6bda2"/>
<rect x="432.15" y="70.28" width="5.98" height="3.73" fill="#f7ac8e"/>
<rect x="438.08" y="70.28" width="3.02" height="3.73" fill="#e36c55"/>
<rect x="245.20" y="73.96" width="3.02" height="3.73" fill="#f6bda2"/>
<rect x="248.17" y="73.96" width="3.02" height="3.73" fill="#e9d5cb"/>
<rect x="257.07" y="73.96" width="3.02" height="3.73" fill="#e9d5cb"/>
<rect x="260.04" y="73.96" width="3.02" height="3.73" fill="#f2cbb7"/>
<rect x="263.00" y="73.96" width="3.02" height="3.73" fill="#e9d5cb"/>
<rect x="274.87" y="73.96" width="5.98" height="3.73" fill="#e9d5cb"/>
<rect x="286.74" y="73.96" width="3.02" height="3.73" fill="#e9d5cb"/>
<rect x="289.71" y="73.96" width="3.02" height="3.73" fill="#f2cbb7"/>
<rect x="292.68" y="73.96" width="3.02" height="3.73" fill="#e9d5cb"/>
<rect x="310.48" y="73.96" width="3.02" height="3.73" fill="#e9d5cb"/>
<rect x="319.39" y="73.96" width="8.95" height="3.73" fill="#e9d5cb"/>
<rect x="343.12" y="73.96" width="3.02" height="3.73" fill="#e9d5cb"/>
<rect x="360.93" y="73.96" width="5.98" height="3.73" fill="#cfdaea"/>
<rect x="372.80" y="73.96" width="5.98" height="3.73" fill="#cfdaea"/>
<rect x="378.73" y="73.96" width="3.02" height="3.73" fill="#afcafc"/>
<rect x="381.70" y="73.96" width="3.02" height="3.73" fill="#cfdaea"/>
<rect x="390.60" y="73.96" width="3.02" height="3.73" fill="#e9d5cb"/>
<rect x="393.57" y="73.96" width="5.98" height="3.73" fill="#f6bda2"/>
<rect x="399.51" y="73.96" width="3.02" height="3.73" fill="#e9d5cb"/>
<rect x="405.44" y="73.96" width="3.02" height="3.73" fill="#cfdaea"/>
<rect x="411.38" y="73.96" width="3.02" height="3.73" fill="#e9d5cb"/>
<rect x="414.34" y="73.96" width="3.02" height="3.73" fill="#f6bda2"/>
<rect x="417.31" y="73.96" width="3.02" height="3.73" fill="#f7ac8e"/>
<rect x="420.28" y="73.96" width="3.02" height="3.73" fill="#f6bda2"/>
<rect x="423.25" y="73.96" width="3.02" height="3.73" fill="#e9d5cb"/>
<rect x="426.21" y="73.96" width="3.02" height="3.73" fill="#f6bda2"/>
<rect x="429.18" y="73.96" width="3.02" height="3.73" fill="#f7ac8e"/>
<rect x="432.15" y="73.96" width="3.02" height="3.73" fill="#f6bda2"/>
<rect x="435.12" y="73.96" width="3.02" height="3.73" fill="#f7ac8e"/>
<rect x="438.08" y="73.96" width="3.02" height="3.73" fill="#c53334"/>
<rect x="245.20" y="77.64" width="3.02" height="3.73" fill="#e9d5cb"/>
<rect x="248.17" y="77.64" width="3.02" height="3.73" fill="#cfdaea"/>
<rect x="254.10" y="77.64" width="3.02" height="3.73" fill="#e9d5cb"/>
<rect x="257.07" y="77.64" width="3.02" height="3.73" fill="#f2cbb7"/>
<rect x="260.04" y="77.64" width="3.02" height="3.73" fill="#e9d5cb"/>
<rect x="274.87" y="77.64" width="5.98" height="3.73" fill="#cfdaea"/>
<rect x="289.71" y="77.64" width="3.02" height="3.73" fill="#e9d5cb"/>
<rect x="298.61" y="77.64" width="5.98" height="3.73" fill="#e9d5cb"/>
<rect x="310.48" y="77.64" width="3.02" height="3.73" fill="#e9d5cb"/>
<rect x="322.35" y="77.64" width="5.98" height="3.73" fill="#e9d5cb"/>
<rect x="334.22" y="77.64" width="3.02" height="3.73" fill="#cfdaea"/>
<rect x="340.16" y="77.64" width="3.02" height="3.73" fill="#e9d5cb"/>
<rect x="363.90" y="77.64" width="3.02" height="3.73" fill="#cfdaea"/>
<rect x="375.77" y="77.64" width="3.02" height="3.73" fill="#cfdaea"/>
<rect x="378.73" y="77.64" width="3.02" height="3.73" fill="#afcafc"/>
<rect x="381.70" y="77.64" width="3.02" height="3.73" fill="#cfdaea"/>
<rect x="393.57" y="77.64" width="5.98" height="3.73" fill="#e9d5cb"/>
<rect x="402.47" y="77.64" width="3.02" height="3.73" fill="#e9d5cb"/>
<rect x="414.34" y="77.64" width="3.02" height="3.73" fill="#e9d5cb"/>
<rect x="417.31" y="77.64" width="3.02" height="3.73" fill="#f6bda2"/>
<rect x="420.28" y="77.64" width="3.02" height="3.73" fill="#e9d5cb"/>
<rect x="426.21" y="77.64" width="3.02" height="3.73" fill="#e9d5cb"/>
<rect x="429.18" y="77.64" width="5.98" height="3.73" fill="#f6bda2"/>
<rect x="435.12" y="77.64" width="3.02" height="3.73" fill="#e9d5cb"/>
<rect x="438.08" y="77.64" width="3.02" height="3.73" fill="#f6bda2"/>
<rect x="245.20" y="81.32" width="3.02" height="3.73" fill="#cfdaea"/>
<rect x="254.10" y="81.32" width="5.98" height="3.73" fill="#e9d5cb"/>
<rect x="271.91" y="81.32" width="3.02" height="3.73" fill="#cfdaea"/>
<rect x="274.87" y="81.32" width="5.98" height="3.73" fill="#afcafc"/>
<rect x="280.81" y="81.32" width="3.02" height="3.73" fill="#cfdaea"/>
<rect x="298.61" y="81.32" width="3.02" height="3.73" fill="#e9d5cb"/>
<rect x="301.58" y="81.32" width="3.02" height="3.73" fill="#f2cbb7"/>
<rect x="304.55" y="81.32" width="3.02" height="3.73" fill="#e9d5cb"/>
<rect x="319.39" y="81.32" width="3.02" height="3.73" fill="#cfdaea"/>
<rect x="325.32" y="81.32" width="5.98" height="3.73" fill="#e9d5cb"/>
<rect x="334.22" y="81.32" width="3.02" height="3.73" fill="#cfdaea"/>
<rect x="349.06" y="81.32" width="5.98" height="3.73" fill="#e9d5cb"/>
<rect x="360.93" y="81.32" width="3.02" height="3.73" fill="#cfdaea"/>
<rect x="372.80" y="81.32" width="3.02" height="3.73" fill="#e9d5cb"/>
<rect x="375.77" y="81.32" width="3.02" height="3.73" fill="#cfdaea"/>
<rect x="378.73" y="81.32" width="3.02" height="3.73" fill="#afcafc"/>
<rect x="381.70" y="81.32" width="3.02" height="3.73" fill="#cfdaea"/>
<rect x="393.57" y="81.32" width="3.02" height="3.73" fill="#cfdaea"/>
<rect x="405.44" y="81.32" width="5.98" height="3.73" fill="#e9d5cb"/>
<rect x="414.34" y="81.32" width="5.98" height="3.73" fill="#e9d5cb"/>
<rect x="426.21" y="81.32" width="3.02" height="3.73" fill="#e9d5cb"/>
<rect x="429.18" y="81.32" width="5.98" height="3.73" fill="#f6bda2"/>
<rect x="435.12" y="81.32" width="5.98" height="3.73" fill="#e9d5cb"/>
<rect x="254.10" y="85.00" width="3.02" height="3.73" fill="#e9d5cb"/>
<rect x="268.94" y="85.00" width="3.02" height="3.73" fill="#cfdaea"/>
<rect x="271.91" y="85.00" width="5.98" height="3.73" fill="#afcafc"/>
<rect x="277.84" y="85.00" width="3.02" height="3.73" fill="#cfdaea"/>
<rect x="286.74" y="85.00" width="5.98" height="3.73" fill="#cfdaea"/>
<rect x="298.61" y="85.00" width="3.02" height="3.73" fill="#e9d5cb"/>
<rect x="301.58" y="85.00" width="3.02" height="3.73" fill="#f2cbb7"/>
<rect x="304.55" y="85.00" width="3.02" height="3.73" fill="#e9d5cb"/>
<rect x="334.22" y="85.00" width="5.98" height="3.73" fill="#cfdaea"/>
<rect x="352.03" y="85.00" width="3.02" height="3.73" fill="#e9d5cb"/>
<rect x="360.93" y="85.00" width="3.02" height="3.73" fill="#cfdaea"/>
<rect x="369.83" y="85.00" width="3.02" height="3.73" fill="#e9d5cb"/>
<rect x="372.80" y="85.00" width="3.02" height="3.73" fill="#f2cbb7"/>
<rect x="378.73" y="85.00" width="3.02" height="3.73" fill="#afcafc"/>
<rect x="381.70" y="85.00" width="3.02" height="3.73" fill="#cfdaea"/>
<rect x="390.60" y="85.00" width="3.02" height="3.73" fill="#cfdaea"/>
<rect x="402.47" y="85.00" width="3.02" height="3.73" fill="#e9d5cb"/>
<rect x="405.44" y="85.00" width="3.02" height="3.73" fill="#f6bda2"/>
<rect x="408.41" y="85.00" width="3.02" height="3.73" fill="#e9d5cb"/>
<rect x="414.34" y="85.00" width="3.02" height="3.73" fill="#e9d5cb"/>
<rect x="426.21" y="85.00" width="11.92" height="3.73" fill="#e9d5cb"/>
<rect x="248.17" y="88.68" width="3.02" height="3.73" fill="#cfdaea"/>
<rect x="257.07" y="88.68" width="3.02" height="3.73" fill="#cfdaea"/>
<rect x="268.94" y="88.68" width="8.95" height="3.73" fill="#cfdaea"/>
<rect x="283.78" y="88.68" width="3.02" height="3.73" fill="#cfdaea"/>
<rect x="286.74" y="88.68" width="3.02" height="3.73" fill="#afcafc"/>
<rect x="289.71" y="88.68" width="3.02" height="3.73" fill="#cfdaea"/>
<rect x="298.61" y="88.68" width="5.98" height="3.73" fill="#e9d5cb"/>
<rect x="304.55" y="88.68" width="3.02" height="3.73" fill="#f2cbb7"/>
<rect x="307.52" y="88.68" width="3.02" height="3.73" fill="#e9d5cb"/>
<rect x="316.42" y="88.68" width="3.02" height="3.73" fill="#e9d5cb"/>
<rect x="337.19" y="88.68" width="5.98" height="3.73" fill="#cfdaea"/>
<rect x="360.93" y="88.68" width="5.98" height="3.73" fill="#cfdaea"/>
<rect x="369.83" y="88.68" width="3.02" height="3.73" fill="#e9d5cb"/>
<rect x="372.80" y="88.68" width="3.02" height="3.73" fill="#f2cbb7"/>
<rect x="375.77" y="88.68" width="3.02" height="3.73" fill="#e9d5cb"/>
<rect x="378.73" y="88.68" width="3.02" height="3.73" fill="#cfdaea"/>
<rect x="381.70" y="88.68" width="3.02" height="3.73" fill="#afcafc"/>
<rect x="384.67" y="88.68" width="3.02" height="3.73" fill="#cfdaea"/>
<rect x="390.60" y="88.68" width="3.02" height="3.73" fill="#cfdaea"/>
<rect x="402.47" y="88.68" width="3.02" height="3.73" fill="#e9d5cb"/>
<rect x="405.44" y="88.68" width="3.02" height="3.73" fill="#f6bda2"/>
<rect x="408.41" y="88.68" width="8.95" height="3.73" fill="#e9d5cb"/>
<rect x="426.21" y="88.68" width="5.98" height="3.73" fill="#e9d5cb"/>
<rect x="245.20" y="92.36" width="3.02" height="3.73" fill="#e9d5cb"/>
<rect x="248.17" y="92.36" width="3.02" height="3.73" fill="#cfdaea"/>
<rect x="257.07" y="92.36" width="3.02" height="3.73" fill="#cfdaea"/>
<rect x="274.87" y="92.36" width="3.02" height="3.73" fill="#e9d5cb"/>
<rect x="283.78" y="92.36" width="5.98" height="3.73" fill="#cfdaea"/>
<rect x="301.58" y="92.36" width="8.95" height="3.73" fill="#e9d5cb"/>
<rect x="316.42" y="92.36" width="3.02" height="3.73" fill="#e9d5cb"/>
<rect x="328.29" y="92.36" width="3.02" height="3.73" fill="#e9d5cb"/>
<rect x="346.09" y="92.36" width="3.02" height="3.73" fill="#cfdaea"/>
<rect x="360.93" y="92.36" width="5.98" height="3.73" fill="#e9d5cb"/>
<rect x="369.83" y="92.36" width="8.95" height="3.73" fill="#e9d5cb"/>
<rect x="378.73" y="92.36" width="3.02" height="3.73" fill="#cfdaea"/>
<rect x="381.70" y="92.36" width="3.02" height="3.73" fill="#9ebeff"/>
<rect x="384.67" y="92.36" width="3.02" height="3.73" fill="#cfdaea"/>
<rect x="390.60" y="92.36" width="5.98" height="3.73" fill="#cfdaea"/>
<rect x="402.47" y="92.36" width="8.95" height="3.73" fill="#e9d5cb"/>
<rect x="414.34" y="92.36" width="3.02" height="3.73" fill="#e9d5cb"/>
<rect x="420.28" y="92.36" width="3.02" height="3.73" fill="#e9d5cb"/>
<rect x="426.21" y="92.36" width="5.98" height="3.73" fill="#e9d5cb"/>
<rect x="245.20" y="96.04" width="8.95" height="3.73" fill="#cfdaea"/>
<rect x="257.07" y="96.04" width="3.02" height="3.73" fill="#e9d5cb"/>
<rect x="268.94" y="96.04" width="8.95" height="3.73" fill="#e9d5cb"/>
<rect x="280.81" y="96.04" width="5.98" height="3.73" fill="#cfdaea"/>
<rect x="292.68" y="96.04" width="5.98" height="3.73" fill="#cfdaea"/>
<rect x="304.55" y="96.04" width="3.02" height="3.73" fill="#e9d5cb"/>
<rect x="310.48" y="96.04" width="5.98" height="3.73" fill="#e9d5cb"/>
<rect x="322.35" y="96.04" width="3.02" height="3.73" fill="#cfdaea"/>
<rect x="337.19" y="96.04" width="5.98" height="3.73" fill="#cfdaea"/>
<rect x="346.09" y="96.04" width="3.02" height="3.73" fill="#e9d5cb"/>
<rect x="349.06" y="96.04" width="3.02" height="3.73" fill="#cfdaea"/>
<rect x="354.99" y="96.04" width="3.02" height="3.73" fill="#e9d5cb"/>
<rect x="360.93" y="96.04" width="3.02" height="3.73" fill="#e9d5cb"/>
<rect x="363.90" y="96.04" width="3.02" height="3.73" fill="#f2cbb7"/>
<rect x="372.80" y="96.04" width="3.02" height="3.73" fill="#e9d5cb"/>
<rect x="375.77" y="96.04" width="8.95" height="3.73" fill="#cfdaea"/>
<rect x="393.57" y="96.04" width="3.02" height="3.73" fill="#cfdaea"/>
<rect x="402.47" y="96.04" width="17.85" height="3.73" fill="#e9d5cb"/>
<rect x="420.28" y="96.04" width="3.02" height="3.73" fill="#f2cbb7"/>
<rect x="423.25" y="96.04" width="3.02" height="3.73" fill="#e9d5cb"/>
<rect x="429.18" y="96.04" width="3.02" height="3.73" fill="#e9d5cb"/>
<rect x="438.08" y="96.04" width="3.02" height="3.73" fill="#cfdaea"/>
<rect x="245.20" y="99.71" width="3.02" height="3.73" fill="#e9d5cb"/>
<rect x="251.13" y="99.71" width="3.02" height="3.73" fill="#cfdaea"/>
<rect x="257.07" y="99.71" width="3.02" height="3.73" fill="#e9d5cb"/>
<rect x="263.00" y="99.71" width="11.92" height="3.73" fill="#e9d5cb"/>
<rect x="280.81" y="99.71" width="3.02" height="3.73" fill="#cfdaea"/>
<rect x="289.71" y="99.71" width="3.02" height="3.73" fill="#e9d5cb"/>
<rect x="295.65" y="99.71" width="5.98" height="3.73" fill="#cfdaea"/>
<rect x="310.48" y="99.71" width="5.98" height="3.73" fill="#e9d5cb"/>
<rect x="322.35" y="99.71" width="3.02" height="3.73" fill="#e9d5cb"/>
<rect x="337.19" y="99.71" width="5.98" height="3.73" fill="#cfdaea"/>
<rect x="349.06" y="99.71" width="3.02" height="3.73" fill="#cfdaea"/>
<rect x="354.99" y="99.71" width="3.02" height="3.73" fill="#e9d5cb"/>
<rect x="369.83" y="99.71" width="8.95" height="3.73" fill="#e9d5cb"/>
<rect x="393.57" y="99.71" width="3.02" height="3.73" fill="#cfdaea"/>
<rect x="402.47" y="99.71" width="3.02" height="3.73" fill="#e9d5cb"/>
<rect x="405.44" y="99.71" width="3.02" height="3.73" fill="#f2cbb7"/>
<rect x="408.41" y="99.71" width="3.02" height="3.73" fill="#e9d5cb"/>
<rect x="414.34" y="99.71" width="3.02" height="3.73" fill="#e9d5cb"/>
<rect x="417.31" y="99.71" width="5.98" height="3.73" fill="#f2cbb7"/>
<rect x="423.25" y="99.71" width="5.98" height="3.73" fill="#e9d5cb"/>
<rect x="248.17" y="103.39" width="3.02" height="3.73" fill="#cfdaea"/>
<rect x="257.07" y="103.39" width="3.02" height="3.73" fill="#cfdaea"/>
<rect x="263.00" y="103.39" width="3.02" height="3.73" fill="#e9d5cb"/>
<rect x="277.84" y="103.39" width="5.98" height="3.73" fill="#e9d5cb"/>
<rect x="283.78" y="103.39" width="3.02" height="3.73" fill="#cfdaea"/>
<rect x="292.68" y="103.39" width="8.95" height="3.73" fill="#cfdaea"/>
<rect x="304.55" y="103.39" width="8.95" height="3.73" fill="#e9d5cb"/>
<rect x="316.42" y="103.39" width="3.02" height="3.73" fill="#e9d5cb"/>
<rect x="325.32" y="103.39" width="3.02" height="3.73" fill="#cfdaea"/>
<rect x="331.26" y="103.39" width="3.02" height="3.73" fill="#e9d5cb"/>
<rect x="337.19" y="103.39" width="5.98" height="3.73" fill="#cfdaea"/>
<rect x="354.99" y="103.39" width="3.02" height="3.73" fill="#e9d5cb"/>
<rect x="360.93" y="103.39" width="3.02" height="3.73" fill="#cfdaea"/>
<rect x="366.86" y="103.39" width="5.98" height="3.73" fill="#e9d5cb"/>
<rect x="375.77" y="103.39" width="5.98" height="3.73" fill="#e9d5cb"/>
<rect x="387.64" y="103.39" width="3.02" height="3.73" fill="#cfdaea"/>
<rect x="405.44" y="103.39" width="5.98" height="3.73" fill="#e9d5cb"/>
<rect x="417.31" y="103.39" width="3.02" height="3.73" fill="#e9d5cb"/>
<rect x="423.25" y="103.39" width="5.98" height="3.73" fill="#cfdaea"/>
<rect x="245.20" y="107.07" width="8.95" height="3.73" fill="#cfdaea"/>
<rect x="257.07" y="107.07" width="3.02" height="3.73" fill="#cfdaea"/>
<rect x="274.87" y="107.07" width="5.98" height="3.73" fill="#e9d5cb"/>
<rect x="283.78" y="107.07" width="5.98" height="3.73" fill="#e9d5cb"/>
<rect x="292.68" y="107.07" width="3.02" height="3.73" fill="#cfdaea"/>
<rect x="304.55" y="107.07" width="3.02" height="3.73" fill="#e9d5cb"/>
<rect x="316.42" y="107.07" width="5.98" height="3.73" fill="#e9d5cb"/>
<rect x="331.26" y="107.07" width="3.02" height="3.73" fill="#e9d5cb"/>
<rect x="340.16" y="107.07" width="3.02" height="3.73" fill="#cfdaea"/>
<rect x="346.09" y="107.07" width="5.98" height="3.73" fill="#e9d5cb"/>
<rect x="360.93" y="107.07" width="5.98" height="3.73" fill="#cfdaea"/>
<rect x="369.83" y="107.07" width="3.02" height="3.73" fill="#e9d5cb"/>
<rect x="375.77" y="107.07" width="5.98" height="3.73" fill="#e9d5cb"/>
<rect x="387.64" y="107.07" width="3.02" height="3.73" fill="#cfdaea"/>
<rect x="399.51" y="107.07" width="3.02" height="3.73" fill="#e9d5cb"/>
<rect x="408.41" y="107.07" width="3.02" height="3.73" fill="#e9d5cb"/>
<rect x="423.25" y="107.07" width="5.98" height="3.73" fill="#cfdaea"/>
<rect x="435.12" y="107.07" width="5.98" height="3.73" fill="#cfdaea"/>
<rect x="260.04" y="110.75" width="3.02" height="3.73" fill="#e9d5cb"/>
<rect x="265.97" y="110.75" width="3.02" height="3.73" fill="#cfdaea"/>
<rect x="271.91" y="110.75" width="3.02" height="3.73" fill="#e9d5cb"/>
<rect x="274.87" y="110.75" width="3.02" height="3.73" fill="#f2cbb7"/>
<rect x="277.84" y="110.75" width="3.02" height="3.73" fill="#e9d5cb"/>
<rect x="286.74" y="110.75" width="3.02" height="3.73" fill="#e9d5cb"/>
<rect x="298.61" y="110.75" width="3.02" height="3.73" fill="#e9d5cb"/>
<rect x="304.55" y="110.75" width="3.02" height="3.73" fill="#e9d5cb"/>
<rect x="310.48" y="110.75" width="3.02" height="3.73" fill="#cfdaea"/>
<rect x="313.45" y="110.75" width="5.98" height="3.73" fill="#e9d5cb"/>
<rect x="319.39" y="110.75" width="3.02" height="3.73" fill="#f2cbb7"/>
<rect x="340.16" y="110.75" width="3.02" height="3.73" fill="#cfdaea"/>
<rect x="349.06" y="110.75" width="3.02" height="3.73" fill="#e9d5cb"/>
<rect x="354.99" y="110.75" width="3.02" height="3.73" fill="#cfdaea"/>
<rect x="369.83" y="110.75" width="3.02" height="3.73" fill="#e9d5cb"/>
<rect x="378.73" y="110.75" width="3.02" height="3.73" fill="#e9d5cb"/>
<rect x="387.64" y="110.75" width="5.98" height="3.73" fill="#cfdaea"/>
<rect x="396.54" y="110.75" width="3.02" height="3.73" fill="#e9d5cb"/>
<rect x="420.28" y="110.75" width="5.98" height="3.73" fill="#cfdaea"/>
<rect x="429.18" y="110.75" width="8.95" height="3.73" fill="#cfdaea"/>
<rect x="438.08" y="110.75" width="3.02" height="3.73" fill="#c0d4f5"/>
<rect x="245.20" y="114.43" width="5.98" height="3.73" fill="#e9d5cb"/>
<rect x="263.00" y="114.43" width="3.02" height="3.73" fill="#e9d5cb"/>
<rect x="265.97" y="114.43" width="3.02" height="3.73" fill="#cfdaea"/>
<rect x="274.87" y="114.43" width="3.02" height="3.73" fill="#f2cbb7"/>
<rect x="277.84" y="114.43" width="5.98" height="3.73" fill="#e9d5cb"/>
<rect x="292.68" y="114.43" width="5.98" height="3.73" fill="#e9d5cb"/>
<rect x="307.52" y="114.43" width="5.98" height="3.73" fill="#cfdaea"/>
<rect x="316.42" y="114.43" width="3.02" height="3.73" fill="#e9d5cb"/>
<rect x="319.39" y="114.43" width="3.02" height="3.73" fill="#f2cbb7"/>
<rect x="322.35" y="114.43" width="5.98" height="3.73" fill="#e9d5cb"/>
<rect x="334.22" y="114.43" width="3.02" height="3.73" fill="#e9d5cb"/>
<rect x="352.03" y="114.43" width="5.98" height="3.73" fill="#cfdaea"/>
<rect x="363.90" y="114.43" width="3.02" height="3.73" fill="#cfdaea"/>
<rect x="372.80" y="114.43" width="5.98" height="3.73" fill="#e9d5cb"/>
<rect x="384.67" y="114.43" width="3.02" height="3.73" fill="#cfdaea"/>
<rect x="420.28" y="114.43" width="3.02" height="3.73" fill="#cfdaea"/>
<rect x="429.18" y="114.43" width="5.98" height="3.73" fill="#cfdaea"/>
<rect x="435.12" y="114.43" width="3.02" height="3.73" fill="#c0d4f5"/>
<rect x="438.08" y="114.43" width="3.02" height="3.73" fill="#cfdaea"/>
<rect x="245.20" y="118.11" width="5.98" height="3.73" fill="#e9d5cb"/>
<rect x="265.97" y="118.11" width="3.02" height="3.73" fill="#cfdaea"/>
<rect x="274.87" y="118.11" width="5.98" height="3.73" fill="#e9d5cb"/>
<rect x="286.74" y="118.11" width="3.02" height="3.73" fill="#cfdaea"/>
<rect x="292.68" y="118.11" width="5.98" height="3.73" fill="#e9d5cb"/>
<rect x="304.55" y="118.11" width="3.02" height="3.73" fill="#cfdaea"/>
<rect x="316.42" y="118.11" width="8.95" height="3.73" fill="#e9d5cb"/>
<rect x="334.22" y="118.11" width="3.02" height="3.73" fill="#e9d5cb"/>
<rect x="346.09" y="118.11" width="3.02" height="3.73" fill="#e9d5cb"/>
<rect x="354.99" y="118.11" width="3.02" height="3.73" fill="#cfdaea"/>
<rect x="360.93" y="118.11" width="3.02" height="3.73" fill="#cfdaea"/>
<rect x="372.80" y="118.11" width="3.02" height="3.73" fill="#e9d5cb"/>
<rect x="390.60" y="118.11" width="3.02" height="3.73" fill="#cfdaea"/>
<rect x="414.34" y="118.11" width="3.02" height="3.73" fill="#cfdaea"/>
<rect x="429.18" y="118.11" width="11.92" height="3.73" fill="#cfdaea"/>
<rect x="245.20" y="121.79" width="3.02" height="3.73" fill="#e9d5cb"/>
<rect x="260.04" y="121.79" width="3.02" height="3.73" fill="#e9d5cb"/>
<rect x="277.84" y="121.79" width="3.02" height="3.73" fill="#e9d5cb"/>
<rect x="289.71" y="121.79" width="5.98" height="3.73" fill="#e9d5cb"/>
<rect x="304.55" y="121.79" width="3.02" height="3.73" fill="#cfdaea"/>
<rect x="319.39" y="121.79" width="3.02" height="3.73" fill="#e9d5cb"/>
<rect x="340.16" y="121.79" width="3.02" height="3.73" fill="#cfdaea"/>
<rect x="363.90" y="121.79" width="3.02" height="3.73" fill="#cfdaea"/>
<rect x="375.77" y="121.79" width="3.02" height="3.73" fill="#e9d5cb"/>
<rect x="378.73" y="121.79" width="3.02" height="3.73" fill="#cfdaea"/>
<rect x="402.47" y="121.79" width="3.02" height="3.73" fill="#e9d5cb"/>
<rect x="414.34" y="121.79" width="5.98" height="3.73" fill="#cfdaea"/>
<rect x="429.18" y="121.79" width="11.92" height="3.73" fill="#cfdaea"/>
<rect x="286.74" y="125.47" width="5.98" height="3.73" fill="#e9d5cb"/>
<rect x="304.55" y="125.47" width="5.98" height="3.73" fill="#cfdaea"/>
<rect x="337.19" y="125.47" width="3.02" height="3.73" fill="#e9d5cb"/>
<rect x="399.51" y="125.47" width="3.02" height="3.73" fill="#e9d5cb"/>
<rect x="429.18" y="125.47" width="11.92" height="3.73" fill="#cfdaea"/>
<rect x="251.13" y="129.15" width="3.02" height="3.73" fill="#e9d5cb"/>
<rect x="263.00" y="129.15" width="3.02" height="3.73" fill="#cfdaea"/>
<rect x="286.74" y="129.15" width="3.02" height="3.73" fill="#e9d5cb"/>
<rect x="307.52" y="129.15" width="3.02" height="3.73" fill="#cfdaea"/>
<rect x="313.45" y="129.15" width="3.02" height="3.73" fill="#e9d5cb"/>
<rect x="322.35" y="129.15" width="3.02" height="3.73" fill="#cfdaea"/>
<rect x="337.19" y="129.15" width="3.02" height="3.73" fill="#e9d5cb"/>
<rect x="340.16" y="129.15" width="3.02" height="3.73" fill="#f2cbb7"/>
<rect x="369.83" y="129.15" width="3.02" height="3.73" fill="#e9d5cb"/>
<rect x="429.18" y="129.15" width="11.92" height="3.73" fill="#cfdaea"/>
<rect x="248.17" y="132.83" width="3.02" height="3.73" fill="#e9d5cb"/>
<rect x="254.10" y="132.83" width="3.02" height="3.73" fill="#e9d5cb"/>
<rect x="265.97" y="132.83" width="3.02" height="3.73" fill="#cfdaea"/>
<rect x="286.74" y="132.83" width="5.98" height="3.73" fill="#e9d5cb"/>
<rect x="316.42" y="132.83" width="3.02" height="3.73" fill="#e9d5cb"/>
<rect x="334.22" y="132.83" width="3.02" height="3.73" fill="#cfdaea"/>
<rect x="337.19" y="132.83" width="3.02" height="3.73" fill="#e9d5cb"/>
<rect x="346.09" y="132.83" width="8.95" height="3.73" fill="#cfdaea"/>
<rect x="360.93" y="132.83" width="3.02" height="3.73" fill="#cfdaea"/>
<rect x="378.73" y="132.83" width="3.02" height="3.73" fill="#cfdaea"/>
<rect x="396.54" y="132.83" width="3.02" height="3.73" fill="#cfdaea"/>
<rect x="402.47" y="132.83" width="3.02" height="3.73" fill="#e9d5cb"/>
<rect x="408.41" y="132.83" width="3.02" height="3.73" fill="#e9d5cb"/>
<rect x="414.34" y="132.83" width="3.02" height="3.73" fill="#e9d5cb"/>
<rect x="435.12" y="132.83" width="5.98" height="3.73" fill="#cfdaea"/>
<rect x="254.10" y="136.51" width="3.02" height="3.73" fill="#e9d5cb"/>
<rect x="271.91" y="136.51" width="3.02" height="3.73" fill="#cfdaea"/>
<rect x="286.74" y="136.51" width="3.02" height="3.73" fill="#e9d5cb"/>
<rect x="298.61" y="136.51" width="5.98" height="3.73" fill="#cfdaea"/>
<rect x="313.45" y="136.51" width="5.98" height="3.73" fill="#cfdaea"/>
<rect x="322.35" y="136.51" width="3.02" height="3.73" fill="#e9d5cb"/>
<rect x="328.29" y="136.51" width="5.98" height="3.73" fill="#cfdaea"/>
<rect x="337.19" y="136.51" width="3.02" height="3.73" fill="#cfdaea"/>
<rect x="349.06" y="136.51" width="5.98" height="3.73" fill="#e9d5cb"/>
<rect x="360.93" y="136.51" width="3.02" height="3.73" fill="#cfdaea"/>
<rect x="375.77" y="136.51" width="3.02" height="3.73" fill="#cfdaea"/>
<rect x="411.38" y="136.51" width="8.95" height="3.73" fill="#e9d5cb"/>
<rect x="435.12" y="136.51" width="5.98" height="3.73" fill="#cfdaea"/>
<rect x="254.10" y="140.19" width="3.02" height="3.73" fill="#e9d5cb"/>
<rect x="271.91" y="140.19" width="3.02" height="3.73" fill="#e9d5cb"/>
<rect x="301.58" y="140.19" width="8.95" height="3.73" fill="#cfdaea"/>
<rect x="313.45" y="140.19" width="5.98" height="3.73" fill="#cfdaea"/>
<rect x="322.35" y="140.19" width="3.02" height="3.73" fill="#e9d5cb"/>
<rect x="337.19" y="140.19" width="3.02" height="3.73" fill="#e9d5cb"/>
<rect x="349.06" y="140.19" width="3.02" height="3.73" fill="#e9d5cb"/>
<rect x="369.83" y="140.19" width="3.02" height="3.73" fill="#cfdaea"/>
<rect x="384.67" y="140.19" width="3.02" height="3.73" fill="#cfdaea"/>
<rect x="411.38" y="140.19" width="14.89" height="3.73" fill="#e9d5cb"/>
<rect x="435.12" y="140.19" width="3.02" height="3.73" fill="#e9d5cb"/>
<rect x="438.08" y="140.19" width="3.02" height="3.73" fill="#cfdaea"/>
<rect x="245.20" y="143.87" width="3.02" height="3.73" fill="#e9d5cb"/>
<rect x="257.07" y="143.87" width="3.02" height="3.73" fill="#e9d5cb"/>
<rect x="283.78" y="143.87" width="3.02" height="3.73" fill="#cfdaea"/>
<rect x="301.58" y="143.87" width="5.98" height="3.73" fill="#cfdaea"/>
<rect x="310.48" y="143.87" width="3.02" height="3.73" fill="#cfdaea"/>
<rect x="316.42" y="143.87" width="3.02" height="3.73" fill="#cfdaea"/>
<rect x="322.35" y="143.87" width="3.02" height="3.73" fill="#e9d5cb"/>
<rect x="349.06" y="143.87" width="5.98" height="3.73" fill="#e9d5cb"/>
<rect x="366.86" y="143.87" width="3.02" height="3.73" fill="#e9d5cb"/>
<rect x="387.64" y="143.87" width="3.02" height="3.73" fill="#cfdaea"/>
<rect x="399.51" y="143.87" width="3.02" height="3.73" fill="#cfdaea"/>
<rect x="408.41" y="143.87" width="14.89" height="3.73" fill="#e9d5cb"/>
<rect x="438.08" y="143.87" width="3.02" height="3.73" fill="#cfdaea"/>
<rect x="265.97" y="147.55" width="5.98" height="3.73" fill="#cfdaea"/>
<rect x="277.84" y="147.55" width="3.02" height="3.73" fill="#e9d5cb"/>
<rect x="283.78" y="147.55" width="3.02" height="3.73" fill="#cfdaea"/>
<rect x="292.68" y="147.55" width="3.02" height="3.73" fill="#cfdaea"/>
<rect x="328.29" y="147.55" width="3.02" height="3.73" fill="#cfdaea"/>
<rect x="369.83" y="147.55" width="3.02" height="3.73" fill="#e9d5cb"/>
<rect x="375.77" y="147.55" width="3.02" height="3.73" fill="#e9d5cb"/>
<rect x="384.67" y="147.55" width="5.98" height="3.73" fill="#cfdaea"/>
<rect x="399.51" y="147.55" width="3.02" height="3.73" fill="#cfdaea"/>
<rect x="426.21" y="147.55" width="3.02" height="3.73" fill="#e9d5cb"/>
<rect x="438.08" y="147.55" width="3.02" height="3.73" fill="#e9d5cb"/>
<rect x="260.04" y="151.22" width="3.02" height="3.73" fill="#e9d5cb"/>
<rect x="268.94" y="151.22" width="3.02" height="3.73" fill="#cfdaea"/>
<rect x="387.64" y="151.22" width="3.02" height="3.73" fill="#cfdaea"/>
<rect x="396.54" y="151.22" width="3.02" height="3.73" fill="#cfdaea"/>
<rect x="417.31" y="151.22" width="3.02" height="3.73" fill="#e9d5cb"/>
<rect x="432.15" y="151.22" width="5.98" height="3.73" fill="#cfdaea"/>
<rect x="438.08" y="151.22" width="3.02" height="3.73" fill="#e9d5cb"/>
<rect x="248.17" y="154.90" width="3.02" height="3.73" fill="#e9d5cb"/>
<rect x="265.97" y="154.90" width="5.98" height="3.73" fill="#cfdaea"/>
<rect x="277.84" y="154.90" width="3.02" height="3.73" fill="#cfdaea"/>
<rect x="283.78" y="154.90" width="3.02" height="3.73" fill="#cfdaea"/>
<rect x="292.68" y="154.90" width="3.02" height="3.73" fill="#e9d5cb"/>
<rect x="337.19" y="154.90" width="3.02" height="3.73" fill="#e9d5cb"/>
<rect x="414.34" y="154.90" width="3.02" height="3.73" fill="#e9d5cb"/>
<rect x="423.25" y="154.90" width="3.02" height="3.73" fill="#e9d5cb"/>
<rect x="435.12" y="154.90" width="3.02" height="3.73" fill="#cfdaea"/>
<rect x="245.20" y="158.58" width="3.02" height="3.73" fill="#cfdaea"/>
<rect x="257.07" y="158.58" width="14.89" height="3.73" fill="#cfdaea"/>
<rect x="277.84" y="158.58" width="11.92" height="3.73" fill="#cfdaea"/>
<rect x="295.65" y="158.58" width="3.02" height="3.73" fill="#e9d5cb"/>
<rect x="366.86" y="158.58" width="3.02" height="3.73" fill="#cfdaea"/>
<rect x="369.83" y="158.58" width="11.92" height="3.73" fill="#e9d5cb"/>
<rect x="387.64" y="158.58" width="3.02" height="3.73" fill="#cfdaea"/>
<rect x="420.28" y="158.58" width="5.98" height="3.73" fill="#e9d5cb"/>
<rect x="432.15" y="158.58" width="5.98" height="3.73" fill="#cfdaea"/>
<rect x="254.10" y="162.26" width="3.02" height="3.73" fill="#e9d5cb"/>
<rect x="263.00" y="162.26" width="3.02" height="3.73" fill="#c0d4f5"/>
<rect x="265.97" y="162.26" width="5.98" height="3.73" fill="#cfdaea"/>
<rect x="277.84" y="162.26" width="5.98" height="3.73" fill="#cfdaea"/>
<rect x="292.68" y="162.26" width="11.92" height="3.73" fill="#e9d5cb"/>
<rect x="366.86" y="162.26" width="3.02" height="3.73" fill="#cfdaea"/>
<rect x="369.83" y="162.26" width="5.98" height="3.73" fill="#e9d5cb"/>
<rect x="384.67" y="162.26" width="8.95" height="3.73" fill="#cfdaea"/>
<rect x="429.18" y="162.26" width="3.02" height="3.73" fill="#cfdaea"/>
<rect x="248.17" y="165.94" width="3.02" height="3.73" fill="#f2cbb7"/>
<rect x="263.00" y="165.94" width="3.02" height="3.73" fill="#c0d4f5"/>
<rect x="265.97" y="165.94" width="3.02" height="3.73" fill="#cfdaea"/>
<rect x="274.87" y="165.94" width="3.02" height="3.73" fill="#e9d5cb"/>
<rect x="280.81" y="165.94" width="3.02" height="3.73" fill="#cfdaea"/>
<rect x="292.68" y="165.94" width="5.98" height="3.73" fill="#e9d5cb"/>
<rect x="366.86" y="165.94" width="3.02" height="3.73" fill="#cfdaea"/>
<rect x="372.80" y="165.94" width="3.02" height="3.73" fill="#cfdaea"/>
<rect x="375.77" y="165.94" width="3.02" height="3.73" fill="#e9d5cb"/>
<rect x="381.70" y="165.94" width="5.98" height="3.73" fill="#e9d5cb"/>
<rect x="414.34" y="165.94" width="3.02" height="3.73" fill="#e9d5cb"/>
<rect x="429.18" y="165.94" width="3.02" height="3.73" fill="#cfdaea"/>
<rect x="248.17" y="169.62" width="3.02" height="3.73" fill="#f2cbb7"/>
<rect x="295.65" y="169.62" width="3.02" height="3.73" fill="#e9d5cb"/>
<rect x="310.48" y="169.62" width="3.02" height="3.73" fill="#e9d5cb"/>
<rect x="366.86" y="169.62" width="3.02" height="3.73" fill="#cfdaea"/>
<rect x="408.41" y="169.62" width="3.02" height="3.73" fill="#e9d5cb"/>
<rect x="417.31" y="169.62" width="3.02" height="3.73" fill="#e9d5cb"/>
</g>
<g filter="url(#blc)">
<rect x="32.70" y="200.50" width="197.85" height="152.80" fill="#cbdfb0"/>
<rect x="73.00" y="202.00" width="15.60" height="7.50" fill="#b0dac6"/>
<rect x="79.70" y="209.50" width="4.80" height="5.50" fill="#b0dac6"/>
<rect x="35.70" y="202.00" width="3.30" height="2.70" fill="#d7dd98"/>
<rect x="39.00" y="202.00" width="3.50" height="2.70" fill="#84c8cd"/>
<rect x="46.50" y="202.00" width="6.80" height="3.40" fill="#b0dac6"/>
<rect x="37.00" y="205.00" width="2.00" height="3.80" fill="#5096be"/>
<rect x="39.00" y="205.00" width="1.50" height="3.80" fill="#5a5596"/>
<rect x="40.50" y="205.00" width="1.70" height="3.80" fill="#b6803a"/>
<rect x="42.20" y="205.00" width="13.80" height="3.80" fill="#b0dac6"/>
<rect x="34.00" y="208.80" width="1.40" height="4.10" fill="#5066a5"/>
<rect x="35.40" y="208.80" width="7.10" height="4.10" fill="#d7dd98"/>
<rect x="42.50" y="208.80" width="2.70" height="4.10" fill="#cfb45c"/>
<rect x="47.20" y="208.80" width="3.40" height="4.10" fill="#64b0c8"/>
<rect x="50.60" y="208.80" width="2.70" height="4.10" fill="#b0dac6"/>
<rect x="91.30" y="208.80" width="7.70" height="6.20" fill="#b0dac6"/>
<rect x="34.00" y="212.90" width="1.40" height="4.10" fill="#b6803a"/>
<rect x="35.40" y="212.90" width="1.60" height="7.10" fill="#d7dd98"/>
<rect x="41.00" y="215.00" width="5.50" height="12.00" fill="#84c8cd"/>
<rect x="50.60" y="213.00" width="2.70" height="6.00" fill="#dace7a"/>
<rect x="92.00" y="216.00" width="1.30" height="3.60" fill="#dace7a"/>
<rect x="65.50" y="224.40" width="6.80" height="9.50" fill="#d7dd98"/>
<rect x="76.40" y="234.50" width="3.30" height="3.50" fill="#d7dd98"/>
<rect x="34.00" y="220.00" width="4.40" height="15.00" fill="#b0dac6"/>
<rect x="36.40" y="231.00" width="2.60" height="5.60" fill="#64b0c8"/>
<rect x="39.00" y="234.50" width="3.50" height="4.10" fill="#b6803a"/>
<rect x="40.00" y="235.00" width="2.00" height="3.00" fill="#a66a36"/>
<rect x="34.00" y="238.60" width="2.40" height="2.70" fill="#c19644"/>
<rect x="36.40" y="238.60" width="6.10" height="2.70" fill="#cfb45c"/>
<rect x="34.00" y="241.30" width="3.00" height="5.40" fill="#84c8cd"/>
<rect x="42.50" y="244.70" width="8.10" height="7.30" fill="#dace7a"/>
<rect x="95.30" y="238.00" width="2.10" height="3.30" fill="#b0dac6"/>
<rect x="99.00" y="202.00" width="8.00" height="6.00" fill="#b0dac6"/>
<rect x="100.50" y="204.00" width="5.50" height="3.50" fill="#84c8cd"/>
<rect x="108.50" y="202.00" width="4.00" height="6.00" fill="#d7dd98"/>
<rect x="105.80" y="208.80" width="3.40" height="3.40" fill="#84c8cd"/>
<rect x="110.50" y="208.80" width="2.00" height="3.40" fill="#c19644"/>
<rect x="112.50" y="212.20" width="2.80" height="3.40" fill="#7a3c55"/>
<rect x="115.30" y="215.60" width="2.70" height="4.00" fill="#b6803a"/>
<rect x="110.50" y="219.60" width="2.00" height="3.40" fill="#dace7a"/>
<rect x="126.80" y="216.30" width="8.10" height="14.90" fill="#d7dd98"/>
<rect x="127.50" y="231.20" width="5.40" height="6.80" fill="#d7dd98"/>
<rect x="129.50" y="231.00" width="2.00" height="3.50" fill="#cfb45c"/>
<rect x="135.60" y="227.00" width="4.00" height="4.20" fill="#cfb45c"/>
<rect x="135.60" y="231.20" width="5.40" height="3.30" fill="#64b0c8"/>
<rect x="137.50" y="231.20" width="2.00" height="3.30" fill="#5096be"/>
<rect x="137.00" y="202.00" width="10.80" height="18.00" fill="#b0dac6"/>
<rect x="141.00" y="213.00" width="4.00" height="6.00" fill="#84c8cd"/>
<rect x="149.00" y="219.60" width="5.50" height="3.40" fill="#84c8cd"/>
<rect x="150.50" y="219.60" width="2.00" height="3.40" fill="#64b0c8"/>
<rect x="145.70" y="223.70" width="2.10" height="2.70" fill="#5096be"/>
<rect x="120.70" y="231.00" width="5.30" height="3.00" fill="#b0dac6"/>
<rect x="111.20" y="231.00" width="6.80" height="7.00" fill="#d7dd98"/>
<rect x="133.00" y="235.00" width="8.00" height="9.00" fill="#b0dac6"/>
<rect x="136.00" y="244.00" width="10.40" height="8.00" fill="#b0dac6"/>
<rect x="149.00" y="249.00" width="3.00" height="3.00" fill="#84c8cd"/>
<rect x="122.00" y="246.00" width="3.00" height="4.00" fill="#d7dd98"/>
<rect x="101.00" y="223.70" width="2.70" height="5.30" fill="#b0dac6"/>
<rect x="162.00" y="216.00" width="1.40" height="3.60" fill="#d7dd98"/>
<rect x="194.00" y="202.00" width="5.00" height="2.70" fill="#d7dd98"/>
<rect x="228.00" y="203.00" width="1.50" height="9.00" fill="#84c8cd"/>
<rect x="226.60" y="231.00" width="2.10" height="7.00" fill="#d7dd98"/>
<rect x="165.70" y="212.00" width="1.30" height="3.60" fill="#d7dd98"/>
<rect x="34.00" y="252.00" width="3.00" height="4.00" fill="#84c8cd"/>
<rect x="37.00" y="252.00" width="5.50" height="4.00" fill="#b0dac6"/>
<rect x="44.50" y="252.00" width="6.10" height="4.00" fill="#d7dd98"/>
<rect x="35.70" y="260.00" width="16.30" height="11.00" fill="#b0dac6"/>
<rect x="42.50" y="271.00" width="2.70" height="3.40" fill="#b0dac6"/>
<rect x="48.60" y="271.00" width="2.00" height="3.40" fill="#b0dac6"/>
<rect x="34.00" y="256.00" width="1.70" height="4.00" fill="#5066a5"/>
<rect x="35.70" y="256.00" width="4.10" height="4.00" fill="#5096be"/>
<rect x="39.80" y="256.00" width="2.70" height="4.00" fill="#84c8cd"/>
<rect x="42.50" y="256.00" width="4.00" height="4.00" fill="#b0dac6"/>
<rect x="56.00" y="256.70" width="4.80" height="6.80" fill="#b0dac6"/>
<rect x="34.00" y="260.00" width="1.70" height="3.50" fill="#5096be"/>
<rect x="39.80" y="260.00" width="4.00" height="7.00" fill="#84c8cd"/>
<rect x="37.00" y="279.00" width="5.50" height="4.00" fill="#d7dd98"/>
<rect x="43.00" y="279.00" width="3.50" height="4.00" fill="#d7dd98"/>
<rect x="34.00" y="281.80" width="5.80" height="6.80" fill="#d7dd98"/>
<rect x="48.00" y="282.50" width="5.30" height="3.50" fill="#b0dac6"/>
<rect x="51.30" y="286.00" width="5.40" height="3.00" fill="#b0dac6"/>
<rect x="45.20" y="287.00" width="8.10" height="9.70" fill="#d7dd98"/>
<rect x="58.00" y="286.00" width="7.50" height="10.70" fill="#d7dd98"/>
<rect x="55.40" y="295.40" width="2.60" height="5.40" fill="#d7dd98"/>
<rect x="65.50" y="300.80" width="2.70" height="3.20" fill="#d7dd98"/>
<rect x="53.30" y="290.00" width="1.40" height="2.70" fill="#cfb45c"/>
<rect x="53.30" y="292.70" width="1.70" height="8.10" fill="#644682"/>
<rect x="145.50" y="252.00" width="5.50" height="6.00" fill="#b0dac6"/>
<rect x="144.50" y="258.00" width="5.00" height="6.00" fill="#b0dac6"/>
<rect x="144.40" y="267.60" width="3.60" height="3.40" fill="#b0dac6"/>
<rect x="141.50" y="271.00" width="4.50" height="5.00" fill="#b0dac6"/>
<rect x="122.70" y="252.00" width="3.30" height="4.00" fill="#d7dd98"/>
<rect x="130.00" y="252.00" width="8.30" height="4.00" fill="#b0dac6"/>
<rect x="147.80" y="252.00" width="4.00" height="4.00" fill="#84c8cd"/>
<rect x="160.00" y="258.80" width="4.00" height="8.20" fill="#d7dd98"/>
<rect x="122.00" y="260.00" width="4.00" height="7.00" fill="#d7dd98"/>
<rect x="126.80" y="263.50" width="4.70" height="3.50" fill="#84c8cd"/>
<rect x="131.50" y="260.00" width="6.80" height="7.00" fill="#d7dd98"/>
<rect x="139.00" y="263.50" width="5.40" height="4.10" fill="#c19644"/>
<rect x="140.50" y="264.00" width="2.50" height="3.00" fill="#b6803a"/>
<rect x="127.50" y="267.60" width="6.00" height="3.40" fill="#c19644"/>
<rect x="129.00" y="267.60" width="1.50" height="3.40" fill="#b6803a"/>
<rect x="131.00" y="267.60" width="2.50" height="3.40" fill="#b6803a"/>
<rect x="127.50" y="271.00" width="4.00" height="4.00" fill="#644682"/>
<rect x="131.50" y="271.00" width="2.00" height="4.00" fill="#4a7db2"/>
<rect x="133.50" y="267.60" width="2.10" height="7.40" fill="#b0dac6"/>
<rect x="136.30" y="271.00" width="3.30" height="6.70" fill="#d7dd98"/>
<rect x="139.60" y="267.00" width="4.10" height="8.00" fill="#d7dd98"/>
<rect x="154.50" y="270.30" width="6.80" height="4.70" fill="#dace7a"/>
<rect x="158.60" y="270.30" width="2.00" height="4.70" fill="#c19644"/>
<rect x="162.70" y="271.00" width="2.30" height="4.00" fill="#5066a5"/>
<rect x="115.30" y="277.70" width="6.70" height="13.60" fill="#d7dd98"/>
<rect x="109.00" y="279.00" width="3.00" height="7.00" fill="#b0dac6"/>
<rect x="122.70" y="281.80" width="4.80" height="5.20" fill="#b0dac6"/>
<rect x="139.50" y="275.00" width="5.00" height="7.00" fill="#b0dac6"/>
<rect x="138.50" y="282.00" width="5.00" height="6.00" fill="#b0dac6"/>
<rect x="137.50" y="288.00" width="4.50" height="6.00" fill="#b0dac6"/>
<rect x="136.50" y="294.00" width="4.50" height="6.00" fill="#b0dac6"/>
<rect x="138.30" y="288.60" width="2.00" height="6.80" fill="#64b0c8"/>
<rect x="122.70" y="290.00" width="6.10" height="2.70" fill="#dace7a"/>
<rect x="112.50" y="292.70" width="6.80" height="11.30" fill="#b0dac6"/>
<rect x="133.00" y="295.40" width="2.60" height="4.00" fill="#d7dd98"/>
<rect x="165.00" y="263.50" width="4.00" height="4.10" fill="#d7dd98"/>
<rect x="165.00" y="267.60" width="4.70" height="3.40" fill="#c19644"/>
<rect x="165.00" y="271.00" width="4.70" height="4.00" fill="#4a7db2"/>
<rect x="169.70" y="271.00" width="3.30" height="7.40" fill="#b0dac6"/>
<rect x="224.60" y="253.40" width="3.40" height="6.10" fill="#d7dd98"/>
<rect x="205.00" y="278.40" width="8.80" height="7.60" fill="#b0dac6"/>
<rect x="211.00" y="278.40" width="2.80" height="4.10" fill="#cfb45c"/>
<rect x="222.00" y="278.40" width="6.70" height="7.60" fill="#d7dd98"/>
<rect x="215.80" y="281.80" width="2.00" height="4.20" fill="#5066a5"/>
<rect x="217.80" y="281.80" width="1.40" height="4.20" fill="#7a3c55"/>
<rect x="219.20" y="281.80" width="2.80" height="4.20" fill="#dace7a"/>
<rect x="215.00" y="286.00" width="4.00" height="4.00" fill="#b0dac6"/>
<rect x="219.20" y="286.00" width="1.10" height="4.00" fill="#5a5596"/>
<rect x="220.30" y="286.00" width="1.70" height="4.00" fill="#7a3c55"/>
<rect x="224.60" y="289.00" width="4.10" height="4.30" fill="#64b0c8"/>
<rect x="190.00" y="282.50" width="2.80" height="6.50" fill="#d7dd98"/>
<rect x="190.70" y="300.80" width="3.30" height="3.20" fill="#d7dd98"/>
<rect x="55.40" y="304.00" width="2.00" height="4.00" fill="#64b0c8"/>
<rect x="57.10" y="308.00" width="1.60" height="3.50" fill="#644682"/>
<rect x="54.00" y="311.50" width="3.40" height="3.40" fill="#b0dac6"/>
<rect x="58.00" y="318.00" width="2.00" height="7.70" fill="#d7dd98"/>
<rect x="65.50" y="302.00" width="2.00" height="2.00" fill="#d7dd98"/>
<rect x="56.00" y="329.80" width="2.00" height="3.40" fill="#b0dac6"/>
<rect x="61.50" y="329.80" width="1.50" height="3.40" fill="#d7dd98"/>
<rect x="58.70" y="337.20" width="5.50" height="4.10" fill="#dace7a"/>
<rect x="61.50" y="337.20" width="2.00" height="4.10" fill="#cfb45c"/>
<rect x="49.30" y="340.60" width="2.00" height="3.40" fill="#b0dac6"/>
<rect x="53.30" y="340.60" width="1.40" height="3.40" fill="#b0dac6"/>
<rect x="62.00" y="340.60" width="2.20" height="4.10" fill="#64b0c8"/>
<rect x="39.00" y="344.70" width="4.80" height="4.00" fill="#d7dd98"/>
<rect x="48.00" y="348.00" width="3.30" height="3.50" fill="#b0dac6"/>
<rect x="62.00" y="344.70" width="3.00" height="6.80" fill="#dace7a"/>
<rect x="81.80" y="319.60" width="2.70" height="9.40" fill="#d7dd98"/>
<rect x="76.40" y="329.80" width="3.30" height="4.00" fill="#dace7a"/>
<rect x="79.70" y="329.80" width="2.10" height="4.00" fill="#c19644"/>
<rect x="81.80" y="329.80" width="5.40" height="4.00" fill="#b0dac6"/>
<rect x="87.20" y="329.80" width="2.00" height="4.00" fill="#4a7db2"/>
<rect x="89.20" y="329.80" width="2.10" height="4.00" fill="#c19644"/>
<rect x="87.20" y="326.40" width="4.10" height="3.40" fill="#b0dac6"/>
<rect x="77.70" y="333.80" width="1.30" height="3.40" fill="#dace7a"/>
<rect x="79.00" y="333.80" width="2.10" height="3.40" fill="#7a3c55"/>
<rect x="81.10" y="333.80" width="1.90" height="3.40" fill="#cfb45c"/>
<rect x="73.70" y="337.20" width="6.70" height="4.10" fill="#b0dac6"/>
<rect x="81.10" y="337.20" width="1.40" height="4.10" fill="#5a5596"/>
<rect x="82.50" y="337.20" width="2.00" height="4.10" fill="#84c8cd"/>
<rect x="87.20" y="337.20" width="6.80" height="4.10" fill="#d7dd98"/>
<rect x="72.30" y="341.30" width="4.10" height="3.40" fill="#d7dd98"/>
<rect x="76.40" y="341.30" width="2.60" height="3.40" fill="#b6803a"/>
<rect x="85.80" y="341.30" width="4.20" height="3.40" fill="#b6803a"/>
<rect x="90.00" y="341.30" width="1.50" height="3.40" fill="#5a5596"/>
<rect x="91.50" y="341.30" width="2.50" height="3.40" fill="#5096be"/>
<rect x="94.00" y="341.30" width="5.00" height="8.10" fill="#b0dac6"/>
<rect x="72.30" y="344.70" width="6.70" height="4.00" fill="#d7dd98"/>
<rect x="82.50" y="344.70" width="2.50" height="4.00" fill="#d7dd98"/>
<rect x="109.80" y="302.00" width="7.50" height="9.50" fill="#b0dac6"/>
<rect x="145.00" y="307.40" width="5.50" height="4.60" fill="#b0dac6"/>
<rect x="135.00" y="311.50" width="8.70" height="4.00" fill="#b0dac6"/>
<rect x="143.70" y="311.50" width="4.80" height="4.00" fill="#5096be"/>
<rect x="148.50" y="311.50" width="5.50" height="4.00" fill="#b0dac6"/>
<rect x="156.00" y="307.40" width="5.30" height="4.60" fill="#b0dac6"/>
<rect x="113.20" y="311.50" width="3.40" height="3.50" fill="#d7dd98"/>
<rect x="119.30" y="311.50" width="3.40" height="3.50" fill="#b0dac6"/>
<rect x="127.50" y="311.50" width="2.70" height="3.50" fill="#d7dd98"/>
<rect x="106.50" y="319.00" width="7.50" height="3.30" fill="#d7dd98"/>
<rect x="122.00" y="315.50" width="3.40" height="3.50" fill="#d7dd98"/>
<rect x="128.00" y="315.50" width="11.60" height="4.10" fill="#b0dac6"/>
<rect x="128.80" y="319.00" width="9.50" height="3.30" fill="#84c8cd"/>
<rect x="142.40" y="319.00" width="6.60" height="3.30" fill="#d7dd98"/>
<rect x="151.20" y="319.00" width="2.70" height="3.30" fill="#cfb45c"/>
<rect x="161.30" y="319.00" width="3.70" height="3.30" fill="#b0dac6"/>
<rect x="108.50" y="322.30" width="12.20" height="4.10" fill="#b0dac6"/>
<rect x="120.70" y="322.30" width="2.00" height="4.10" fill="#64b0c8"/>
<rect x="122.70" y="322.30" width="2.00" height="4.10" fill="#c19644"/>
<rect x="124.70" y="322.30" width="5.50" height="4.10" fill="#cfb45c"/>
<rect x="130.20" y="322.30" width="14.80" height="4.10" fill="#b6803a"/>
<rect x="145.00" y="322.30" width="4.00" height="4.10" fill="#cfb45c"/>
<rect x="159.30" y="322.30" width="2.00" height="4.10" fill="#64b0c8"/>
<rect x="162.00" y="322.30" width="2.00" height="4.10" fill="#cfb45c"/>
<rect x="112.50" y="326.40" width="6.10" height="4.10" fill="#dace7a"/>
<rect x="118.60" y="326.40" width="2.10" height="4.10" fill="#64b0c8"/>
<rect x="128.80" y="326.40" width="16.20" height="4.10" fill="#b0dac6"/>
<rect x="146.40" y="326.40" width="5.40" height="4.10" fill="#d7dd98"/>
<rect x="158.60" y="326.40" width="2.70" height="4.10" fill="#d7dd98"/>
<rect x="107.00" y="329.80" width="11.00" height="4.00" fill="#d7dd98"/>
<rect x="118.00" y="329.80" width="1.30" height="4.00" fill="#cfb45c"/>
<rect x="120.70" y="329.80" width="2.00" height="4.00" fill="#84c8cd"/>
<rect x="123.40" y="329.80" width="3.40" height="4.00" fill="#84c8cd"/>
<rect x="135.00" y="329.80" width="15.50" height="4.00" fill="#b0dac6"/>
<rect x="135.00" y="333.80" width="2.00" height="3.40" fill="#c19644"/>
<rect x="137.00" y="333.80" width="4.00" height="3.40" fill="#cfb45c"/>
<rect x="141.00" y="333.80" width="6.80" height="3.40" fill="#d7dd98"/>
<rect x="119.30" y="333.80" width="2.10" height="3.40" fill="#d7dd98"/>
<rect x="108.50" y="333.80" width="1.50" height="3.40" fill="#b0dac6"/>
<rect x="131.50" y="333.80" width="1.50" height="3.40" fill="#b0dac6"/>
<rect x="119.30" y="337.20" width="2.10" height="4.10" fill="#d7dd98"/>
<rect x="137.00" y="337.20" width="8.00" height="4.10" fill="#d7dd98"/>
<rect x="147.80" y="337.20" width="2.70" height="4.10" fill="#cfb45c"/>
<rect x="152.50" y="337.20" width="4.10" height="4.10" fill="#b0dac6"/>
<rect x="156.60" y="337.20" width="3.40" height="4.10" fill="#5066a5"/>
<rect x="157.30" y="337.80" width="2.00" height="3.00" fill="#5a5596"/>
<rect x="160.00" y="337.20" width="2.00" height="4.10" fill="#dace7a"/>
<rect x="99.00" y="342.70" width="8.00" height="6.00" fill="#b0dac6"/>
<rect x="112.50" y="342.70" width="6.80" height="6.00" fill="#b0dac6"/>
<rect x="122.00" y="342.70" width="2.00" height="6.00" fill="#b0dac6"/>
<rect x="150.50" y="342.70" width="4.00" height="4.30" fill="#dace7a"/>
<rect x="154.50" y="342.70" width="3.50" height="4.30" fill="#c19644"/>
<rect x="160.70" y="342.70" width="4.30" height="6.80" fill="#64b0c8"/>
<rect x="190.00" y="302.00" width="4.00" height="6.00" fill="#d7dd98"/>
<rect x="191.40" y="308.00" width="6.10" height="4.00" fill="#d7dd98"/>
<rect x="196.00" y="308.00" width="7.00" height="7.50" fill="#b0dac6"/>
<rect x="209.00" y="304.70" width="6.00" height="7.30" fill="#b0dac6"/>
<rect x="214.50" y="315.00" width="1.30" height="4.00" fill="#5096be"/>
<rect x="214.90" y="319.00" width="1.30" height="4.00" fill="#703c70"/>
<rect x="216.20" y="319.00" width="1.40" height="4.00" fill="#c19644"/>
<rect x="213.80" y="323.00" width="2.20" height="4.70" fill="#d7dd98"/>
<rect x="165.00" y="318.00" width="4.00" height="11.00" fill="#b0dac6"/>
<rect x="165.00" y="329.00" width="4.00" height="4.00" fill="#d7dd98"/>
<rect x="217.00" y="329.80" width="5.60" height="4.00" fill="#d7dd98"/>
<rect x="165.00" y="344.70" width="1.60" height="4.00" fill="#4a7db2"/>
<rect x="166.60" y="344.70" width="1.40" height="4.00" fill="#5a5596"/>
<rect x="168.00" y="344.70" width="1.70" height="4.00" fill="#874848"/>
<rect x="169.70" y="344.70" width="3.30" height="4.00" fill="#cfb45c"/>
<rect x="175.00" y="344.70" width="4.20" height="4.00" fill="#64b0c8"/>
<rect x="179.20" y="344.70" width="17.00" height="4.00" fill="#b0dac6"/>
<rect x="196.20" y="341.30" width="8.10" height="7.40" fill="#d7dd98"/>
<rect x="203.00" y="344.70" width="2.00" height="4.00" fill="#64b0c8"/>
<rect x="216.50" y="344.70" width="1.50" height="4.00" fill="#cfb45c"/>
<rect x="218.00" y="344.70" width="1.90" height="4.00" fill="#c19644"/>
<rect x="180.60" y="348.70" width="3.40" height="3.60" fill="#84c8cd"/>
<rect x="192.00" y="348.70" width="2.00" height="3.60" fill="#874848"/>
<rect x="194.00" y="348.70" width="2.00" height="3.60" fill="#64b0c8"/>
<rect x="199.60" y="348.70" width="3.40" height="3.60" fill="#84c8cd"/>
<rect x="203.00" y="348.70" width="1.30" height="3.60" fill="#7a3c55"/>
<rect x="204.30" y="348.70" width="1.70" height="3.60" fill="#b0dac6"/>
<rect x="215.00" y="348.70" width="3.00" height="3.60" fill="#b0dac6"/>
</g>
<g filter="url(#bld)">
<rect x="244.20" y="200.50" width="197.85" height="152.80" fill="#cbdfb0"/>
<rect x="246.00" y="202.00" width="2.00" height="3.40" fill="#b0dac6"/>
<rect x="248.00" y="204.70" width="3.50" height="4.10" fill="#64b0c8"/>
<rect x="251.50" y="204.70" width="2.00" height="4.10" fill="#cfb45c"/>
<rect x="253.50" y="202.00" width="5.50" height="6.00" fill="#b0dac6"/>
<rect x="261.60" y="202.00" width="6.80" height="6.00" fill="#b0dac6"/>
<rect x="283.30" y="202.00" width="8.10" height="9.50" fill="#b0dac6"/>
<rect x="295.50" y="202.00" width="5.50" height="7.50" fill="#b0dac6"/>
<rect x="301.60" y="205.40" width="2.70" height="13.60" fill="#d7dd98"/>
<rect x="306.30" y="205.40" width="3.70" height="8.10" fill="#b0dac6"/>
<rect x="245.20" y="208.80" width="1.50" height="3.40" fill="#5066a5"/>
<rect x="246.70" y="208.80" width="1.30" height="3.40" fill="#7a3c55"/>
<rect x="248.00" y="208.80" width="4.80" height="3.40" fill="#d7dd98"/>
<rect x="252.80" y="208.80" width="2.70" height="3.40" fill="#c19644"/>
<rect x="255.50" y="208.80" width="2.70" height="3.40" fill="#cfb45c"/>
<rect x="258.20" y="208.80" width="2.10" height="3.40" fill="#4a7db2"/>
<rect x="260.30" y="208.80" width="5.40" height="3.40" fill="#b0dac6"/>
<rect x="245.40" y="212.20" width="2.60" height="8.10" fill="#d7dd98"/>
<rect x="252.00" y="212.20" width="5.50" height="17.60" fill="#84c8cd"/>
<rect x="257.50" y="212.20" width="3.50" height="8.10" fill="#dace7a"/>
<rect x="291.00" y="212.20" width="1.40" height="8.10" fill="#b0dac6"/>
<rect x="245.40" y="220.30" width="4.00" height="9.50" fill="#b0dac6"/>
<rect x="274.50" y="223.00" width="2.00" height="7.00" fill="#d7dd98"/>
<rect x="282.60" y="220.00" width="2.00" height="8.00" fill="#d7dd98"/>
<rect x="278.00" y="227.00" width="4.00" height="11.00" fill="#d7dd98"/>
<rect x="246.00" y="229.80" width="3.40" height="4.10" fill="#64b0c8"/>
<rect x="249.40" y="229.80" width="2.60" height="4.10" fill="#b0dac6"/>
<rect x="288.70" y="230.00" width="2.70" height="10.00" fill="#d7dd98"/>
<rect x="245.20" y="234.50" width="2.80" height="3.50" fill="#84c8cd"/>
<rect x="247.40" y="234.50" width="1.30" height="3.50" fill="#5a5596"/>
<rect x="248.70" y="234.50" width="1.80" height="3.50" fill="#7a3c55"/>
<rect x="250.50" y="234.50" width="5.00" height="3.50" fill="#cfb45c"/>
<rect x="286.00" y="234.50" width="4.70" height="10.50" fill="#d7dd98"/>
<rect x="245.20" y="238.00" width="2.20" height="4.00" fill="#c19644"/>
<rect x="247.40" y="238.00" width="2.00" height="4.00" fill="#dace7a"/>
<rect x="249.40" y="238.00" width="4.10" height="4.00" fill="#b6803a"/>
<rect x="250.50" y="238.50" width="2.00" height="3.00" fill="#a66a36"/>
<rect x="253.50" y="238.00" width="1.50" height="4.00" fill="#cfb45c"/>
<rect x="245.20" y="242.00" width="2.20" height="4.00" fill="#64b0c8"/>
<rect x="247.40" y="242.00" width="2.60" height="4.00" fill="#b0dac6"/>
<rect x="250.00" y="242.00" width="3.50" height="4.00" fill="#cfb45c"/>
<rect x="255.50" y="242.00" width="2.70" height="4.00" fill="#d7dd98"/>
<rect x="303.60" y="238.00" width="2.70" height="8.00" fill="#b0dac6"/>
<rect x="245.20" y="246.00" width="4.20" height="6.00" fill="#b0dac6"/>
<rect x="249.40" y="246.00" width="2.10" height="6.00" fill="#84c8cd"/>
<rect x="255.50" y="246.00" width="8.10" height="6.00" fill="#d7dd98"/>
<rect x="257.50" y="247.00" width="3.50" height="4.00" fill="#dace7a"/>
<rect x="310.00" y="202.00" width="7.50" height="6.00" fill="#b0dac6"/>
<rect x="318.00" y="202.00" width="3.00" height="6.00" fill="#d7dd98"/>
<rect x="318.00" y="208.00" width="3.50" height="4.20" fill="#84c8cd"/>
<rect x="321.50" y="208.80" width="2.00" height="3.40" fill="#b6803a"/>
<rect x="323.50" y="212.20" width="2.50" height="3.40" fill="#7a3c55"/>
<rect x="326.00" y="215.60" width="3.00" height="4.00" fill="#b6803a"/>
<rect x="332.40" y="202.00" width="2.60" height="14.00" fill="#b0dac6"/>
<rect x="338.50" y="205.00" width="2.00" height="3.00" fill="#d7dd98"/>
<rect x="336.40" y="216.30" width="8.80" height="14.70" fill="#d7dd98"/>
<rect x="341.80" y="219.60" width="2.20" height="3.40" fill="#cfb45c"/>
<rect x="349.30" y="227.00" width="2.00" height="3.50" fill="#cfb45c"/>
<rect x="337.80" y="231.00" width="7.40" height="3.50" fill="#cfb45c"/>
<rect x="348.00" y="202.00" width="9.40" height="14.00" fill="#b0dac6"/>
<rect x="350.60" y="212.00" width="5.40" height="7.60" fill="#84c8cd"/>
<rect x="351.50" y="215.50" width="2.00" height="4.10" fill="#64b0c8"/>
<rect x="360.00" y="219.60" width="5.50" height="3.40" fill="#84c8cd"/>
<rect x="357.40" y="223.00" width="1.40" height="4.00" fill="#5096be"/>
<rect x="353.40" y="227.00" width="2.00" height="3.50" fill="#64b0c8"/>
<rect x="348.00" y="231.00" width="5.40" height="4.00" fill="#84c8cd"/>
<rect x="350.00" y="231.00" width="2.00" height="4.00" fill="#64b0c8"/>
<rect x="331.70" y="231.00" width="3.30" height="4.00" fill="#84c8cd"/>
<rect x="333.00" y="231.00" width="1.40" height="4.00" fill="#64b0c8"/>
<rect x="322.90" y="231.00" width="7.40" height="7.00" fill="#d7dd98"/>
<rect x="369.60" y="216.30" width="6.40" height="6.10" fill="#d7dd98"/>
<rect x="364.20" y="216.30" width="1.30" height="2.70" fill="#dace7a"/>
<rect x="341.00" y="234.00" width="8.00" height="9.00" fill="#b0dac6"/>
<rect x="344.00" y="243.00" width="10.70" height="9.00" fill="#b0dac6"/>
<rect x="360.00" y="247.40" width="5.50" height="4.60" fill="#84c8cd"/>
<rect x="333.70" y="242.00" width="2.00" height="8.00" fill="#d7dd98"/>
<rect x="312.70" y="223.00" width="2.00" height="6.00" fill="#b0dac6"/>
<rect x="377.40" y="202.00" width="2.00" height="9.50" fill="#d7dd98"/>
<rect x="395.00" y="202.00" width="1.30" height="6.00" fill="#b0dac6"/>
<rect x="405.80" y="202.00" width="4.20" height="2.70" fill="#d7dd98"/>
<rect x="439.40" y="202.00" width="1.40" height="10.00" fill="#84c8cd"/>
<rect x="438.00" y="227.00" width="1.70" height="11.00" fill="#d7dd98"/>
<rect x="247.40" y="252.00" width="2.60" height="4.00" fill="#b0dac6"/>
<rect x="255.50" y="252.00" width="3.50" height="5.40" fill="#b0dac6"/>
<rect x="259.00" y="252.00" width="4.60" height="4.00" fill="#d7dd98"/>
<rect x="245.20" y="252.00" width="2.20" height="8.00" fill="#4a7db2"/>
<rect x="245.20" y="254.00" width="1.50" height="5.50" fill="#5066a5"/>
<rect x="247.40" y="256.00" width="2.60" height="4.00" fill="#5066a5"/>
<rect x="250.00" y="259.50" width="3.50" height="4.00" fill="#5096be"/>
<rect x="266.40" y="257.40" width="5.40" height="9.60" fill="#b0dac6"/>
<rect x="254.00" y="256.00" width="5.60" height="11.00" fill="#84c8cd"/>
<rect x="245.20" y="260.00" width="1.50" height="7.00" fill="#5096be"/>
<rect x="248.00" y="263.50" width="6.00" height="3.50" fill="#b0dac6"/>
<rect x="255.50" y="267.00" width="7.50" height="6.70" fill="#b0dac6"/>
<rect x="245.20" y="267.00" width="1.50" height="6.70" fill="#64b0c8"/>
<rect x="279.20" y="253.40" width="1.30" height="2.60" fill="#b0dac6"/>
<rect x="307.70" y="263.50" width="2.30" height="4.10" fill="#dace7a"/>
<rect x="259.00" y="275.00" width="2.00" height="5.50" fill="#d7dd98"/>
<rect x="252.80" y="278.40" width="4.70" height="6.60" fill="#d7dd98"/>
<rect x="246.00" y="279.00" width="5.50" height="11.00" fill="#d7dd98"/>
<rect x="245.20" y="284.50" width="1.50" height="5.50" fill="#cfb45c"/>
<rect x="268.40" y="271.00" width="2.00" height="8.00" fill="#d7dd98"/>
<rect x="260.30" y="282.50" width="9.40" height="6.50" fill="#b0dac6"/>
<rect x="254.00" y="289.00" width="10.30" height="9.00" fill="#d7dd98"/>
<rect x="266.40" y="286.00" width="7.40" height="12.00" fill="#d7dd98"/>
<rect x="271.00" y="286.00" width="5.50" height="6.70" fill="#dace7a"/>
<rect x="264.30" y="290.00" width="1.40" height="4.00" fill="#b6803a"/>
<rect x="264.30" y="294.00" width="1.70" height="2.70" fill="#64b0c8"/>
<rect x="264.00" y="296.70" width="2.00" height="7.30" fill="#a66a36"/>
<rect x="260.30" y="296.70" width="2.00" height="4.10" fill="#b0dac6"/>
<rect x="275.20" y="296.70" width="4.00" height="7.30" fill="#d7dd98"/>
<rect x="337.00" y="267.60" width="8.20" height="3.40" fill="#dace7a"/>
<rect x="337.00" y="271.00" width="3.00" height="4.00" fill="#703c70"/>
<rect x="340.00" y="271.00" width="2.50" height="4.00" fill="#644682"/>
<rect x="342.50" y="271.00" width="2.70" height="4.00" fill="#4a7db2"/>
<rect x="345.20" y="271.00" width="1.40" height="4.00" fill="#b0dac6"/>
<rect x="341.00" y="260.00" width="3.50" height="4.00" fill="#c19644"/>
<rect x="337.80" y="260.00" width="2.00" height="3.50" fill="#64b0c8"/>
<rect x="337.80" y="263.50" width="2.00" height="3.50" fill="#5096be"/>
<rect x="334.40" y="263.50" width="2.60" height="4.10" fill="#cfb45c"/>
<rect x="346.00" y="263.50" width="2.00" height="4.10" fill="#cfb45c"/>
<rect x="348.00" y="263.50" width="2.60" height="3.50" fill="#64b0c8"/>
<rect x="352.70" y="263.50" width="2.70" height="4.10" fill="#b6803a"/>
<rect x="349.30" y="267.60" width="2.70" height="3.40" fill="#a66a36"/>
<rect x="352.00" y="274.40" width="2.00" height="4.00" fill="#c19644"/>
<rect x="344.50" y="275.00" width="1.50" height="3.40" fill="#64b0c8"/>
<rect x="357.40" y="267.60" width="2.60" height="4.00" fill="#84c8cd"/>
<rect x="353.40" y="260.00" width="2.60" height="3.50" fill="#b0dac6"/>
<rect x="364.20" y="260.00" width="2.80" height="4.00" fill="#84c8cd"/>
<rect x="368.30" y="269.60" width="2.70" height="4.80" fill="#cfb45c"/>
<rect x="371.60" y="271.00" width="2.80" height="3.40" fill="#64b0c8"/>
<rect x="370.30" y="263.50" width="5.70" height="3.50" fill="#cfb45c"/>
<rect x="310.00" y="267.60" width="2.70" height="6.80" fill="#d7dd98"/>
<rect x="358.80" y="252.00" width="5.40" height="8.00" fill="#b0dac6"/>
<rect x="360.00" y="252.00" width="3.50" height="6.00" fill="#84c8cd"/>
<rect x="341.20" y="252.00" width="5.40" height="5.40" fill="#b0dac6"/>
<rect x="335.00" y="252.00" width="4.00" height="4.00" fill="#d7dd98"/>
<rect x="327.60" y="260.00" width="4.10" height="5.50" fill="#b0dac6"/>
<rect x="331.70" y="256.00" width="2.70" height="4.00" fill="#d7dd98"/>
<rect x="316.80" y="256.00" width="2.70" height="4.00" fill="#b0dac6"/>
<rect x="327.00" y="279.00" width="2.60" height="7.00" fill="#dace7a"/>
<rect x="349.00" y="277.00" width="4.00" height="6.00" fill="#b0dac6"/>
<rect x="347.50" y="283.00" width="4.00" height="6.00" fill="#b0dac6"/>
<rect x="346.00" y="289.00" width="4.00" height="6.00" fill="#b0dac6"/>
<rect x="350.00" y="288.60" width="2.70" height="4.10" fill="#64b0c8"/>
<rect x="333.70" y="276.40" width="2.70" height="6.80" fill="#b0dac6"/>
<rect x="319.50" y="292.70" width="4.00" height="4.00" fill="#dace7a"/>
<rect x="335.00" y="292.70" width="4.00" height="4.00" fill="#d7dd98"/>
<rect x="327.00" y="291.00" width="3.00" height="7.00" fill="#b0dac6"/>
<rect x="324.00" y="298.00" width="4.00" height="6.00" fill="#b0dac6"/>
<rect x="355.40" y="292.70" width="3.40" height="4.00" fill="#d7dd98"/>
<rect x="361.50" y="283.20" width="2.70" height="5.40" fill="#d7dd98"/>
<rect x="368.30" y="277.70" width="2.70" height="9.30" fill="#b0dac6"/>
<rect x="319.50" y="279.00" width="1.30" height="4.00" fill="#b0dac6"/>
<rect x="376.00" y="271.00" width="5.40" height="4.00" fill="#4a7db2"/>
<rect x="376.00" y="271.00" width="2.50" height="4.00" fill="#5066a5"/>
<rect x="377.40" y="267.60" width="3.30" height="3.40" fill="#c19644"/>
<rect x="378.00" y="264.20" width="2.00" height="3.40" fill="#d7dd98"/>
<rect x="386.80" y="271.00" width="2.70" height="4.00" fill="#b0dac6"/>
<rect x="376.00" y="275.00" width="8.00" height="3.40" fill="#b0dac6"/>
<rect x="416.60" y="275.00" width="4.10" height="3.40" fill="#b0dac6"/>
<rect x="422.00" y="278.40" width="2.80" height="4.10" fill="#b6803a"/>
<rect x="420.70" y="282.50" width="2.10" height="3.50" fill="#b0dac6"/>
<rect x="426.80" y="281.80" width="2.00" height="4.20" fill="#5096be"/>
<rect x="428.80" y="281.80" width="1.40" height="4.20" fill="#c19644"/>
<rect x="430.20" y="286.00" width="1.40" height="4.00" fill="#5066a5"/>
<rect x="431.60" y="286.00" width="1.40" height="4.00" fill="#7a3c55"/>
<rect x="433.00" y="278.40" width="6.70" height="7.60" fill="#d7dd98"/>
<rect x="435.60" y="290.00" width="4.10" height="3.30" fill="#84c8cd"/>
<rect x="435.60" y="252.00" width="4.10" height="10.80" fill="#d7dd98"/>
<rect x="398.40" y="286.00" width="4.00" height="6.70" fill="#d7dd98"/>
<rect x="399.70" y="300.80" width="2.70" height="3.20" fill="#d7dd98"/>
<rect x="437.00" y="267.60" width="2.00" height="3.40" fill="#b0dac6"/>
<rect x="425.00" y="275.00" width="3.00" height="3.40" fill="#d7dd98"/>
<rect x="264.30" y="302.00" width="2.10" height="2.70" fill="#b6803a"/>
<rect x="267.00" y="304.00" width="2.00" height="4.00" fill="#644682"/>
<rect x="268.00" y="308.00" width="2.00" height="3.50" fill="#5096be"/>
<rect x="266.40" y="311.50" width="3.30" height="7.50" fill="#b0dac6"/>
<rect x="269.70" y="315.00" width="2.10" height="7.30" fill="#d7dd98"/>
<rect x="269.00" y="322.30" width="2.00" height="3.40" fill="#cfb45c"/>
<rect x="245.20" y="304.00" width="1.50" height="4.00" fill="#cfb45c"/>
<rect x="275.80" y="302.00" width="2.70" height="2.00" fill="#d7dd98"/>
<rect x="281.30" y="304.00" width="1.30" height="11.50" fill="#d7dd98"/>
<rect x="296.80" y="304.70" width="1.40" height="3.30" fill="#b0dac6"/>
<rect x="272.50" y="329.00" width="3.30" height="23.00" fill="#d7dd98"/>
<rect x="292.00" y="322.30" width="5.00" height="4.10" fill="#dace7a"/>
<rect x="294.00" y="326.40" width="3.00" height="3.40" fill="#64b0c8"/>
<rect x="290.00" y="326.40" width="4.00" height="3.40" fill="#d7dd98"/>
<rect x="297.00" y="326.40" width="2.50" height="3.40" fill="#b0dac6"/>
<rect x="300.20" y="329.80" width="2.10" height="4.00" fill="#c19644"/>
<rect x="289.40" y="333.80" width="2.00" height="3.40" fill="#a66a36"/>
<rect x="291.40" y="333.80" width="2.60" height="3.40" fill="#b0dac6"/>
<rect x="294.00" y="333.80" width="3.50" height="3.40" fill="#84c8cd"/>
<rect x="297.50" y="333.80" width="2.00" height="3.40" fill="#a66a36"/>
<rect x="299.50" y="333.80" width="2.10" height="3.40" fill="#d7dd98"/>
<rect x="287.40" y="337.20" width="2.60" height="3.40" fill="#b0dac6"/>
<rect x="290.00" y="337.20" width="2.80" height="3.40" fill="#64b0c8"/>
<rect x="292.80" y="337.20" width="3.40" height="3.40" fill="#d7dd98"/>
<rect x="287.40" y="340.60" width="2.60" height="4.10" fill="#cfb45c"/>
<rect x="290.00" y="340.60" width="2.80" height="4.10" fill="#d7dd98"/>
<rect x="294.80" y="340.60" width="4.70" height="4.10" fill="#d7dd98"/>
<rect x="299.50" y="340.60" width="2.10" height="4.10" fill="#c19644"/>
<rect x="301.00" y="344.70" width="3.30" height="4.00" fill="#b0dac6"/>
<rect x="305.00" y="326.40" width="2.00" height="3.40" fill="#b0dac6"/>
<rect x="304.30" y="348.00" width="3.40" height="4.00" fill="#b0dac6"/>
<rect x="322.20" y="302.00" width="6.80" height="9.50" fill="#b0dac6"/>
<rect x="334.40" y="302.00" width="2.60" height="5.40" fill="#b0dac6"/>
<rect x="343.90" y="304.00" width="2.70" height="3.40" fill="#b0dac6"/>
<rect x="325.00" y="311.50" width="3.30" height="3.50" fill="#d7dd98"/>
<rect x="329.60" y="311.50" width="2.10" height="3.50" fill="#b0dac6"/>
<rect x="335.00" y="311.50" width="2.00" height="3.50" fill="#d7dd98"/>
<rect x="339.50" y="311.50" width="1.90" height="3.50" fill="#c19644"/>
<rect x="320.80" y="315.00" width="3.40" height="3.30" fill="#d7dd98"/>
<rect x="345.20" y="315.00" width="2.10" height="3.30" fill="#64b0c8"/>
<rect x="348.00" y="311.50" width="4.70" height="3.50" fill="#b0dac6"/>
<rect x="356.70" y="311.50" width="4.10" height="4.00" fill="#64b0c8"/>
<rect x="357.50" y="312.00" width="2.30" height="3.00" fill="#5096be"/>
<rect x="358.10" y="307.40" width="4.10" height="4.10" fill="#b0dac6"/>
<rect x="353.40" y="315.00" width="4.60" height="7.30" fill="#d7dd98"/>
<rect x="362.80" y="315.00" width="2.10" height="7.30" fill="#d7dd98"/>
<rect x="368.30" y="304.70" width="2.00" height="6.80" fill="#b0dac6"/>
<rect x="328.30" y="322.30" width="6.10" height="4.10" fill="#d7dd98"/>
<rect x="334.40" y="322.30" width="3.40" height="4.10" fill="#cfb45c"/>
<rect x="327.00" y="326.40" width="4.70" height="7.40" fill="#d7dd98"/>
<rect x="318.80" y="329.80" width="2.00" height="4.00" fill="#d7dd98"/>
<rect x="341.20" y="319.00" width="2.00" height="6.00" fill="#b0dac6"/>
<rect x="369.60" y="322.30" width="4.10" height="4.10" fill="#b0dac6"/>
<rect x="373.70" y="340.00" width="2.30" height="8.00" fill="#b0dac6"/>
<rect x="343.90" y="341.30" width="2.00" height="3.40" fill="#b0dac6"/>
<rect x="370.30" y="337.20" width="2.00" height="4.10" fill="#b0dac6"/>
<rect x="360.80" y="337.20" width="2.00" height="4.10" fill="#d7dd98"/>
<rect x="364.20" y="348.00" width="2.00" height="4.00" fill="#d7dd98"/>
<rect x="341.20" y="333.80" width="1.30" height="3.40" fill="#b0dac6"/>
<rect x="400.40" y="302.00" width="2.70" height="6.00" fill="#d7dd98"/>
<rect x="402.40" y="308.00" width="2.70" height="3.50" fill="#d7dd98"/>
<rect x="408.50" y="311.50" width="6.80" height="3.50" fill="#b0dac6"/>
<rect x="407.00" y="308.00" width="2.00" height="3.50" fill="#b0dac6"/>
<rect x="421.40" y="304.00" width="2.60" height="7.50" fill="#b0dac6"/>
<rect x="424.00" y="311.50" width="2.00" height="3.50" fill="#b0dac6"/>
<rect x="425.50" y="315.00" width="1.70" height="4.00" fill="#5096be"/>
<rect x="425.90" y="319.00" width="2.30" height="4.00" fill="#b6803a"/>
<rect x="423.40" y="323.00" width="5.40" height="4.00" fill="#d7dd98"/>
<rect x="424.80" y="327.00" width="2.70" height="6.80" fill="#d7dd98"/>
<rect x="428.20" y="333.80" width="2.00" height="10.20" fill="#d7dd98"/>
<rect x="439.00" y="322.00" width="1.50" height="7.00" fill="#84c8cd"/>
<rect x="408.50" y="344.70" width="5.50" height="4.00" fill="#dace7a"/>
<rect x="414.00" y="348.00" width="1.30" height="4.30" fill="#874848"/>
<rect x="389.50" y="348.00" width="6.80" height="4.30" fill="#d7dd98"/>
<rect x="400.40" y="348.00" width="3.40" height="4.30" fill="#b0dac6"/>
<rect x="424.00" y="348.00" width="6.20" height="4.30" fill="#d7dd98"/>
<rect x="426.00" y="347.00" width="1.50" height="5.30" fill="#dace7a"/>
<rect x="377.40" y="344.70" width="1.60" height="4.00" fill="#b0dac6"/>
<rect x="390.00" y="344.70" width="1.50" height="4.00" fill="#b0dac6"/>
</g>
<rect x="449.60" y="166.12" width="6.50" height="7.23" fill="#3b4cc0"/>
<rect x="449.60" y="158.93" width="6.50" height="7.23" fill="#4961d2"/>
<rect x="449.60" y="151.75" width="6.50" height="7.23" fill="#5977e3"/>
<rect x="449.60" y="144.57" width="6.50" height="7.23" fill="#6a8bef"/>
<rect x="449.60" y="137.38" width="6.50" height="7.23" fill="#7b9ff9"/>
<rect x="449.60" y="130.20" width="6.50" height="7.23" fill="#8db0fe"/>
<rect x="449.60" y="123.02" width="6.50" height="7.23" fill="#9ebeff"/>
<rect x="449.60" y="115.83" width="6.50" height="7.23" fill="#afcafc"/>
<rect x="449.60" y="108.65" width="6.50" height="7.23" fill="#c0d4f5"/>
<rect x="449.60" y="101.47" width="6.50" height="7.23" fill="#cfdaea"/>
<rect x="449.60" y="94.28" width="6.50" height="7.23" fill="#dddcdc"/>
<rect x="449.60" y="87.10" width="6.50" height="7.23" fill="#e9d5cb"/>
<rect x="449.60" y="79.92" width="6.50" height="7.23" fill="#f2cbb7"/>
<rect x="449.60" y="72.73" width="6.50" height="7.23" fill="#f6bda2"/>
<rect x="449.60" y="65.55" width="6.50" height="7.23" fill="#f7ac8e"/>
<rect x="449.60" y="58.37" width="6.50" height="7.23" fill="#f4987a"/>
<rect x="449.60" y="51.18" width="6.50" height="7.23" fill="#ee8468"/>
<rect x="449.60" y="44.00" width="6.50" height="7.23" fill="#e36c55"/>
<rect x="449.60" y="36.82" width="6.50" height="7.23" fill="#d65244"/>
<rect x="449.60" y="29.63" width="6.50" height="7.23" fill="#c53334"/>
<rect x="449.60" y="22.45" width="6.50" height="7.23" fill="#b40426"/>
<rect x="449.60" y="22.45" width="6.50" height="150.85" fill="none" stroke="#000" stroke-width="0.8"/>
<line x1="456.10" y1="173.30" x2="459.40" y2="173.30" stroke="#000" stroke-width="0.8"/>
<line x1="456.10" y1="148.16" x2="459.40" y2="148.16" stroke="#000" stroke-width="0.8"/>
<line x1="456.10" y1="123.02" x2="459.40" y2="123.02" stroke="#000" stroke-width="0.8"/>
<line x1="456.10" y1="97.88" x2="459.40" y2="97.88" stroke="#000" stroke-width="0.8"/>
<line x1="456.10" y1="72.73" x2="459.40" y2="72.73" stroke="#000" stroke-width="0.8"/>
<line x1="456.10" y1="47.59" x2="459.40" y2="47.59" stroke="#000" stroke-width="0.8"/>
<line x1="456.10" y1="22.45" x2="459.40" y2="22.45" stroke="#000" stroke-width="0.8"/>
<rect x="449.60" y="345.12" width="6.50" height="7.23" fill="#70345f"/>
<rect x="449.60" y="337.94" width="6.50" height="7.23" fill="#7a3c55"/>
<rect x="449.60" y="330.76" width="6.50" height="7.23" fill="#874848"/>
<rect x="449.60" y="323.58" width="6.50" height="7.23" fill="#96573c"/>
<rect x="449.60" y="316.40" width="6.50" height="7.23" fill="#a66a36"/>
<rect x="449.60" y="309.21" width="6.50" height="7.23" fill="#b6803a"/>
<rect x="449.60" y="302.03" width="6.50" height="7.23" fill="#c19644"/>
<rect x="449.60" y="294.85" width="6.50" height="7.23" fill="#cfb45c"/>
<rect x="449.60" y="287.67" width="6.50" height="7.23" fill="#dace7a"/>
<rect x="449.60" y="280.49" width="6.50" height="7.23" fill="#d7dd98"/>
<rect x="449.60" y="273.31" width="6.50" height="7.23" fill="#cbdfb0"/>
<rect x="449.60" y="266.13" width="6.50" height="7.23" fill="#b0dac6"/>
<rect x="449.60" y="258.95" width="6.50" height="7.23" fill="#84c8cd"/>
<rect x="449.60" y="251.77" width="6.50" height="7.23" fill="#64b0c8"/>
<rect x="449.60" y="244.59" width="6.50" height="7.23" fill="#5096be"/>
<rect x="449.60" y="237.40" width="6.50" height="7.23" fill="#4a7db2"/>
<rect x="449.60" y="230.22" width="6.50" height="7.23" fill="#5066a5"/>
<rect x="449.60" y="223.04" width="6.50" height="7.23" fill="#5a5596"/>
<rect x="449.60" y="215.86" width="6.50" height="7.23" fill="#644682"/>
<rect x="449.60" y="208.68" width="6.50" height="7.23" fill="#703c70"/>
<rect x="449.60" y="201.50" width="6.50" height="7.23" fill="#78345f"/>
<rect x="449.60" y="201.50" width="6.50" height="150.80" fill="none" stroke="#000" stroke-width="0.8"/>
<line x1="456.10" y1="201.50" x2="459.40" y2="201.50" stroke="#000" stroke-width="0.8"/>
<line x1="456.10" y1="239.20" x2="459.40" y2="239.20" stroke="#000" stroke-width="0.8"/>
<line x1="456.10" y1="276.90" x2="459.40" y2="276.90" stroke="#000" stroke-width="0.8"/>
<line x1="456.10" y1="314.60" x2="459.40" y2="314.60" stroke="#000" stroke-width="0.8"/>
<line x1="456.10" y1="352.30" x2="459.40" y2="352.30" stroke="#000" stroke-width="0.8"/>
<rect x="33.70" y="22.45" width="195.85" height="150.85" fill="none" stroke="#3a3a3a" stroke-width="1.1"/>
<line x1="30.85" y1="171.46" x2="33.70" y2="171.46" stroke="#000" stroke-width="0.8"/>
<line x1="30.85" y1="134.67" x2="33.70" y2="134.67" stroke="#000" stroke-width="0.8"/>
<line x1="30.85" y1="97.88" x2="33.70" y2="97.88" stroke="#000" stroke-width="0.8"/>
<line x1="30.85" y1="61.08" x2="33.70" y2="61.08" stroke="#000" stroke-width="0.8"/>
<line x1="30.85" y1="24.29" x2="33.70" y2="24.29" stroke="#000" stroke-width="0.8"/>
<rect x="245.20" y="22.45" width="195.85" height="150.85" fill="none" stroke="#3a3a3a" stroke-width="1.1"/>
<rect x="33.70" y="201.50" width="195.85" height="150.80" fill="none" stroke="#3a3a3a" stroke-width="1.1"/>
<line x1="30.85" y1="350.46" x2="33.70" y2="350.46" stroke="#000" stroke-width="0.8"/>
<line x1="30.85" y1="313.68" x2="33.70" y2="313.68" stroke="#000" stroke-width="0.8"/>
<line x1="30.85" y1="276.90" x2="33.70" y2="276.90" stroke="#000" stroke-width="0.8"/>
<line x1="30.85" y1="240.12" x2="33.70" y2="240.12" stroke="#000" stroke-width="0.8"/>
<line x1="30.85" y1="203.34" x2="33.70" y2="203.34" stroke="#000" stroke-width="0.8"/>
<line x1="42.40" y1="352.30" x2="42.40" y2="355.15" stroke="#000" stroke-width="0.8"/>
<line x1="72.08" y1="352.30" x2="72.08" y2="355.15" stroke="#000" stroke-width="0.8"/>
<line x1="101.75" y1="352.30" x2="101.75" y2="355.15" stroke="#000" stroke-width="0.8"/>
<line x1="131.43" y1="352.30" x2="131.43" y2="355.15" stroke="#000" stroke-width="0.8"/>
<line x1="161.10" y1="352.30" x2="161.10" y2="355.15" stroke="#000" stroke-width="0.8"/>
<line x1="190.77" y1="352.30" x2="190.77" y2="355.15" stroke="#000" stroke-width="0.8"/>
<line x1="220.45" y1="352.30" x2="220.45" y2="355.15" stroke="#000" stroke-width="0.8"/>
<rect x="245.20" y="201.50" width="195.85" height="150.80" fill="none" stroke="#3a3a3a" stroke-width="1.1"/>
<line x1="253.90" y1="352.30" x2="253.90" y2="355.15" stroke="#000" stroke-width="0.8"/>
<line x1="283.58" y1="352.30" x2="283.58" y2="355.15" stroke="#000" stroke-width="0.8"/>
<line x1="313.25" y1="352.30" x2="313.25" y2="355.15" stroke="#000" stroke-width="0.8"/>
<line x1="342.93" y1="352.30" x2="342.93" y2="355.15" stroke="#000" stroke-width="0.8"/>
<line x1="372.60" y1="352.30" x2="372.60" y2="355.15" stroke="#000" stroke-width="0.8"/>
<line x1="402.27" y1="352.30" x2="402.27" y2="355.15" stroke="#000" stroke-width="0.8"/>
<line x1="431.95" y1="352.30" x2="431.95" y2="355.15" stroke="#000" stroke-width="0.8"/>
<g class="txt">
<text transform="translate(82.274,17.500) scale(0.9922,1)" style="font-family:'Liberation Sans',sans-serif;font-size:11.041px;" fill="#000">Model - GLOFI (SG)</text>
<text transform="translate(23.974,14.850) scale(1.0307,1)" style="font-family:'Liberation Sans',sans-serif;font-size:14.305px;" fill="#000">a)</text>
<text transform="translate(16.746,174.910) scale(1.0376,1)" style="font-family:'Liberation Sans',sans-serif;font-size:9.568px;" fill="#000">10</text>
<text transform="translate(16.668,138.118) scale(1.0451,1)" style="font-family:'Liberation Sans',sans-serif;font-size:9.568px;" fill="#000">20</text>
<text transform="translate(16.822,101.325) scale(1.0301,1)" style="font-family:'Liberation Sans',sans-serif;font-size:9.568px;" fill="#000">30</text>
<text transform="translate(16.722,64.532) scale(1.0398,1)" style="font-family:'Liberation Sans',sans-serif;font-size:9.568px;" fill="#000">40</text>
<text transform="translate(16.811,27.740) scale(1.0312,1)" style="font-family:'Liberation Sans',sans-serif;font-size:9.568px;" fill="#000">50</text>
<text transform="translate(11.700,127.440) rotate(-90) scale(1.1239,1)" style="font-family:'Liberation Sans',sans-serif;font-size:9.568px;" fill="#000">Altitude [km]</text>
<text transform="translate(285.620,17.500) scale(1.0016,1)" style="font-family:'Liberation Sans',sans-serif;font-size:11.041px;" fill="#000">Model - GLOFI (no SG)</text>
<text transform="translate(235.132,14.850) scale(1.0495,1)" style="font-family:'Liberation Sans',sans-serif;font-size:14.305px;" fill="#000">b)</text>
<text transform="translate(82.274,196.550) scale(0.9922,1)" style="font-family:'Liberation Sans',sans-serif;font-size:11.041px;" fill="#000">Model - GLOFI (SG)</text>
<text transform="translate(23.971,193.900) scale(1.0348,1)" style="font-family:'Liberation Sans',sans-serif;font-size:14.305px;" fill="#000">c)</text>
<text transform="translate(16.746,353.911) scale(1.0376,1)" style="font-family:'Liberation Sans',sans-serif;font-size:9.568px;" fill="#000">10</text>
<text transform="translate(16.668,317.130) scale(1.0451,1)" style="font-family:'Liberation Sans',sans-serif;font-size:9.568px;" fill="#000">20</text>
<text transform="translate(16.822,280.350) scale(1.0301,1)" style="font-family:'Liberation Sans',sans-serif;font-size:9.568px;" fill="#000">30</text>
<text transform="translate(16.722,243.570) scale(1.0398,1)" style="font-family:'Liberation Sans',sans-serif;font-size:9.568px;" fill="#000">40</text>
<text transform="translate(16.811,206.789) scale(1.0312,1)" style="font-family:'Liberation Sans',sans-serif;font-size:9.568px;" fill="#000">50</text>
<text transform="translate(11.700,306.465) rotate(-90) scale(1.1239,1)" style="font-family:'Liberation Sans',sans-serif;font-size:9.568px;" fill="#000">Altitude [km]</text>
<text transform="translate(33.299,364.900) scale(1.1272,1)" style="font-family:'Liberation Sans',sans-serif;font-size:9.568px;" fill="#000">−75</text>
<text transform="translate(62.968,364.900) scale(1.1375,1)" style="font-family:'Liberation Sans',sans-serif;font-size:9.568px;" fill="#000">−50</text>
<text transform="translate(92.647,364.900) scale(1.1272,1)" style="font-family:'Liberation Sans',sans-serif;font-size:9.568px;" fill="#000">−25</text>
<text transform="translate(128.776,364.900) scale(0.9948,1)" style="font-family:'Liberation Sans',sans-serif;font-size:9.568px;" fill="#000">0</text>
<text transform="translate(155.520,364.900) scale(1.0287,1)" style="font-family:'Liberation Sans',sans-serif;font-size:9.568px;" fill="#000">25</text>
<text transform="translate(185.330,364.900) scale(1.0312,1)" style="font-family:'Liberation Sans',sans-serif;font-size:9.568px;" fill="#000">50</text>
<text transform="translate(214.942,364.900) scale(1.0215,1)" style="font-family:'Liberation Sans',sans-serif;font-size:9.568px;" fill="#000">75</text>
<text transform="translate(100.743,377.600) scale(1.1039,1)" style="font-family:'Liberation Sans',sans-serif;font-size:9.186px;" fill="#000">Latitude [deg]</text>
<text transform="translate(285.620,196.550) scale(1.0016,1)" style="font-family:'Liberation Sans',sans-serif;font-size:11.041px;" fill="#000">Model - GLOFI (no SG)</text>
<text transform="translate(235.462,193.900) scale(1.0623,1)" style="font-family:'Liberation Sans',sans-serif;font-size:14.305px;" fill="#000">d)</text>
<text transform="translate(244.799,364.900) scale(1.1272,1)" style="font-family:'Liberation Sans',sans-serif;font-size:9.568px;" fill="#000">−75</text>
<text transform="translate(274.468,364.900) scale(1.1375,1)" style="font-family:'Liberation Sans',sans-serif;font-size:9.568px;" fill="#000">−50</text>
<text transform="translate(304.147,364.900) scale(1.1272,1)" style="font-family:'Liberation Sans',sans-serif;font-size:9.568px;" fill="#000">−25</text>
<text transform="translate(340.276,364.900) scale(0.9948,1)" style="font-family:'Liberation Sans',sans-serif;font-size:9.568px;" fill="#000">0</text>
<text transform="translate(367.020,364.900) scale(1.0287,1)" style="font-family:'Liberation Sans',sans-serif;font-size:9.568px;" fill="#000">25</text>
<text transform="translate(396.830,364.900) scale(1.0312,1)" style="font-family:'Liberation Sans',sans-serif;font-size:9.568px;" fill="#000">50</text>
<text transform="translate(426.442,364.900) scale(1.0215,1)" style="font-family:'Liberation Sans',sans-serif;font-size:9.568px;" fill="#000">75</text>
<text transform="translate(312.243,377.600) scale(1.1039,1)" style="font-family:'Liberation Sans',sans-serif;font-size:9.186px;" fill="#000">Latitude [deg]</text>
<text transform="translate(462.455,26.000) scale(1.0428,1)" style="font-family:'Liberation Sans',sans-serif;font-size:9.568px;" fill="#000">0.3</text>
<text transform="translate(462.459,51.142) scale(1.0334,1)" style="font-family:'Liberation Sans',sans-serif;font-size:9.568px;" fill="#000">0.2</text>
<text transform="translate(462.457,76.283) scale(1.0379,1)" style="font-family:'Liberation Sans',sans-serif;font-size:9.568px;" fill="#000">0.1</text>
<text transform="translate(462.453,101.425) scale(1.0488,1)" style="font-family:'Liberation Sans',sans-serif;font-size:9.568px;" fill="#000">0.0</text>
<text transform="translate(462.677,126.567) scale(1.1218,1)" style="font-family:'Liberation Sans',sans-serif;font-size:9.568px;" fill="#000">−0.1</text>
<text transform="translate(462.679,151.708) scale(1.1188,1)" style="font-family:'Liberation Sans',sans-serif;font-size:9.568px;" fill="#000">−0.2</text>
<text transform="translate(462.676,176.850) scale(1.1250,1)" style="font-family:'Liberation Sans',sans-serif;font-size:9.568px;" fill="#000">−0.3</text>
<text transform="translate(462.439,205.000) scale(0.8930,1)" style="font-family:'Liberation Sans',sans-serif;font-size:9.090px;font-style:italic;" fill="#000">π</text>
<text transform="translate(462.985,238.200) scale(0.8157,1)" style="font-family:'Liberation Sans',sans-serif;font-size:5.932px;font-style:italic;" fill="#000">π</text>
<rect x="463.10" y="240.30" width="3.4" height="0.5" fill="#888"/>
<text transform="translate(462.869,246.200) scale(1.1100,1)" style="font-family:'Liberation Sans',sans-serif;font-size:5.932px;" fill="#000">2</text>
<text transform="translate(462.516,280.450) scale(1.0276,1)" style="font-family:'Liberation Sans',sans-serif;font-size:9.568px;" fill="#000">0</text>
<rect x="463.40" y="315.45" width="5.4" height="0.8" fill="#000"/>
<text transform="translate(469.885,313.600) scale(0.8157,1)" style="font-family:'Liberation Sans',sans-serif;font-size:5.932px;font-style:italic;" fill="#000">π</text>
<rect x="470.00" y="315.70" width="3.4" height="0.5" fill="#888"/>
<text transform="translate(469.769,321.600) scale(1.1100,1)" style="font-family:'Liberation Sans',sans-serif;font-size:5.932px;" fill="#000">2</text>
<rect x="463.4" y="352.20" width="5.4" height="0.8" fill="#000"/>
<text transform="translate(469.346,355.750) scale(0.8758,1)" style="font-family:'Liberation Sans',sans-serif;font-size:9.090px;font-style:italic;" fill="#000">π</text>
<text transform="translate(493.000,157.818) rotate(-90) scale(1.0699,1)" style="font-family:'Liberation Sans',sans-serif;font-size:9.325px;" fill="#000">PW amplitude deviation [K]</text>
<text transform="translate(485.600,332.617) rotate(-90) scale(1.0686,1)" style="font-family:'Liberation Sans',sans-serif;font-size:9.325px;" fill="#000">PW phase deviation [rad]</text>
</g>
</svg>
</body></html>
